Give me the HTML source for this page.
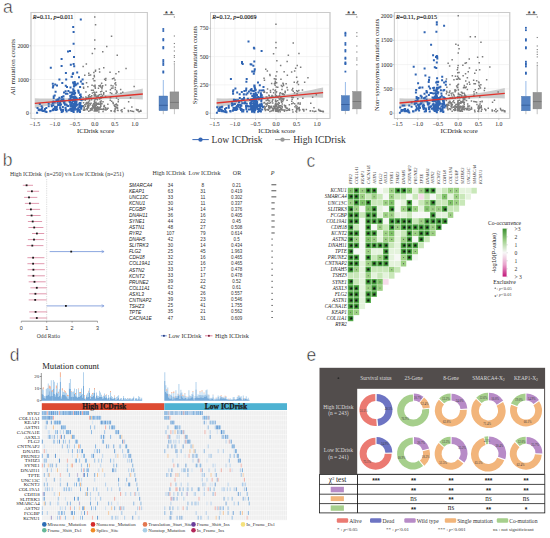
<!DOCTYPE html>
<html><head><meta charset="utf-8"><style>
html,body{margin:0;padding:0;background:#fff;width:550px;height:538px;overflow:hidden;}
svg{display:block;}
</style></head><body>
<svg width="550" height="538" viewBox="0 0 550 538" font-family='"Liberation Serif", serif'>
<rect width="550" height="538" fill="#fff"/>
<rect x="31" y="12.5" width="116.3" height="106.0" fill="#fff" stroke="#c9c9c9" stroke-width="0.8"/>
<line x1="34.8" y1="12.5" x2="34.8" y2="118.5" stroke="#ececec" stroke-width="0.6"/>
<line x1="54.8" y1="12.5" x2="54.8" y2="118.5" stroke="#ececec" stroke-width="0.6"/>
<line x1="74.8" y1="12.5" x2="74.8" y2="118.5" stroke="#ececec" stroke-width="0.6"/>
<line x1="94.8" y1="12.5" x2="94.8" y2="118.5" stroke="#ececec" stroke-width="0.6"/>
<line x1="114.8" y1="12.5" x2="114.8" y2="118.5" stroke="#ececec" stroke-width="0.6"/>
<line x1="134.8" y1="12.5" x2="134.8" y2="118.5" stroke="#ececec" stroke-width="0.6"/>
<line x1="44.8" y1="12.5" x2="44.8" y2="118.5" stroke="#f5f5f5" stroke-width="0.4"/>
<line x1="64.8" y1="12.5" x2="64.8" y2="118.5" stroke="#f5f5f5" stroke-width="0.4"/>
<line x1="84.8" y1="12.5" x2="84.8" y2="118.5" stroke="#f5f5f5" stroke-width="0.4"/>
<line x1="104.8" y1="12.5" x2="104.8" y2="118.5" stroke="#f5f5f5" stroke-width="0.4"/>
<line x1="124.8" y1="12.5" x2="124.8" y2="118.5" stroke="#f5f5f5" stroke-width="0.4"/>
<line x1="31" y1="113.2" x2="147.3" y2="113.2" stroke="#ececec" stroke-width="0.6"/>
<line x1="31" y1="79.5" x2="147.3" y2="79.5" stroke="#ececec" stroke-width="0.6"/>
<line x1="31" y1="45.8" x2="147.3" y2="45.8" stroke="#ececec" stroke-width="0.6"/>
<polygon points="34.8,98.3 40.2,98.5 45.6,98.6 51.0,98.6 56.4,98.6 61.8,98.5 67.2,98.3 72.6,98.1 78.0,97.8 83.4,97.4 88.8,96.9 94.2,96.4 99.6,95.8 105.0,95.1 110.4,94.4 115.8,93.6 121.2,92.7 126.6,91.8 132.0,90.8 137.4,89.7 142.8,88.6 142.8,99.4 137.4,99.2 132.0,99.0 126.6,99.0 121.2,98.9 115.8,99.0 110.4,99.1 105.0,99.3 99.6,99.6 94.2,99.9 88.8,100.3 83.4,100.8 78.0,101.3 72.6,102.0 67.2,102.6 61.8,103.4 56.4,104.2 51.0,105.1 45.6,106.0 40.2,107.1 34.8,108.2" fill="#c6c6c6" opacity="0.9"/>
<path d="M85.9 97.3h1.5v1.5h-1.5zM101.3 96.1h1.5v1.5h-1.5zM139.5 110.5h1.5v1.5h-1.5zM94.8 69.6h1.5v1.5h-1.5zM121.3 110.9h1.5v1.5h-1.5zM104.9 84.3h1.5v1.5h-1.5zM91.1 107.3h1.5v1.5h-1.5zM90.5 109.3h1.5v1.5h-1.5zM112.5 102.8h1.5v1.5h-1.5zM98.9 71.3h1.5v1.5h-1.5zM95.0 108.6h1.5v1.5h-1.5zM115.8 97.2h1.5v1.5h-1.5zM131.1 106.3h1.5v1.5h-1.5zM109.3 71.4h1.5v1.5h-1.5zM110.8 35.4h1.5v1.5h-1.5zM89.7 107.9h1.5v1.5h-1.5zM90.7 108.0h1.5v1.5h-1.5zM93.6 104.9h1.5v1.5h-1.5zM111.0 92.8h1.5v1.5h-1.5zM93.4 79.9h1.5v1.5h-1.5zM100.1 102.4h1.5v1.5h-1.5zM97.6 96.5h1.5v1.5h-1.5zM86.9 105.0h1.5v1.5h-1.5zM82.4 65.7h1.5v1.5h-1.5zM82.6 83.3h1.5v1.5h-1.5zM105.4 90.5h1.5v1.5h-1.5zM103.0 66.9h1.5v1.5h-1.5zM106.0 45.8h1.5v1.5h-1.5zM115.4 107.1h1.5v1.5h-1.5zM107.1 107.5h1.5v1.5h-1.5zM97.5 108.2h1.5v1.5h-1.5zM98.9 98.3h1.5v1.5h-1.5zM83.6 109.0h1.5v1.5h-1.5zM112.2 85.3h1.5v1.5h-1.5zM96.9 107.2h1.5v1.5h-1.5zM101.3 108.4h1.5v1.5h-1.5zM127.5 109.7h1.5v1.5h-1.5zM99.6 106.2h1.5v1.5h-1.5zM102.8 108.8h1.5v1.5h-1.5zM116.8 109.5h1.5v1.5h-1.5zM110.9 100.5h1.5v1.5h-1.5zM82.4 105.7h1.5v1.5h-1.5zM84.1 108.9h1.5v1.5h-1.5zM98.4 108.9h1.5v1.5h-1.5zM98.8 97.3h1.5v1.5h-1.5zM93.9 102.1h1.5v1.5h-1.5zM89.5 109.8h1.5v1.5h-1.5zM93.7 104.7h1.5v1.5h-1.5zM102.0 84.9h1.5v1.5h-1.5zM91.7 92.2h1.5v1.5h-1.5zM100.0 104.0h1.5v1.5h-1.5zM88.0 96.4h1.5v1.5h-1.5zM88.2 74.4h1.5v1.5h-1.5zM94.2 104.3h1.5v1.5h-1.5zM87.4 107.2h1.5v1.5h-1.5zM102.0 51.0h1.5v1.5h-1.5zM135.7 108.8h1.5v1.5h-1.5zM123.7 107.4h1.5v1.5h-1.5zM93.6 107.0h1.5v1.5h-1.5zM103.5 105.4h1.5v1.5h-1.5zM92.0 105.5h1.5v1.5h-1.5zM99.5 101.9h1.5v1.5h-1.5zM100.1 105.4h1.5v1.5h-1.5zM82.9 87.4h1.5v1.5h-1.5zM94.1 92.8h1.5v1.5h-1.5zM140.2 110.5h1.5v1.5h-1.5zM99.3 85.4h1.5v1.5h-1.5zM85.8 102.8h1.5v1.5h-1.5zM88.0 110.6h1.5v1.5h-1.5zM90.9 108.5h1.5v1.5h-1.5zM94.3 95.3h1.5v1.5h-1.5zM97.0 105.9h1.5v1.5h-1.5zM101.7 94.7h1.5v1.5h-1.5zM95.6 107.4h1.5v1.5h-1.5zM119.9 88.8h1.5v1.5h-1.5zM114.6 86.8h1.5v1.5h-1.5zM87.1 104.7h1.5v1.5h-1.5zM116.2 104.3h1.5v1.5h-1.5zM88.8 93.9h1.5v1.5h-1.5zM95.3 108.0h1.5v1.5h-1.5zM100.6 102.6h1.5v1.5h-1.5zM109.7 89.1h1.5v1.5h-1.5zM100.2 108.5h1.5v1.5h-1.5zM137.3 109.0h1.5v1.5h-1.5zM94.0 80.1h1.5v1.5h-1.5zM133.4 85.7h1.5v1.5h-1.5zM120.3 109.7h1.5v1.5h-1.5zM95.6 104.5h1.5v1.5h-1.5zM114.4 108.5h1.5v1.5h-1.5zM113.5 110.4h1.5v1.5h-1.5zM93.6 101.2h1.5v1.5h-1.5zM92.5 89.4h1.5v1.5h-1.5zM98.2 85.0h1.5v1.5h-1.5zM94.4 105.9h1.5v1.5h-1.5zM117.3 109.7h1.5v1.5h-1.5zM109.5 96.9h1.5v1.5h-1.5zM94.8 104.5h1.5v1.5h-1.5zM117.6 99.1h1.5v1.5h-1.5zM129.8 97.0h1.5v1.5h-1.5zM110.2 109.9h1.5v1.5h-1.5zM140.0 109.8h1.5v1.5h-1.5zM94.1 102.4h1.5v1.5h-1.5zM100.4 93.5h1.5v1.5h-1.5zM103.7 105.2h1.5v1.5h-1.5zM129.8 110.0h1.5v1.5h-1.5zM99.8 84.6h1.5v1.5h-1.5zM127.9 101.1h1.5v1.5h-1.5zM94.1 99.2h1.5v1.5h-1.5zM95.7 91.4h1.5v1.5h-1.5zM94.6 87.6h1.5v1.5h-1.5zM94.0 48.1h1.5v1.5h-1.5zM87.8 106.3h1.5v1.5h-1.5zM121.2 109.1h1.5v1.5h-1.5zM93.5 110.3h1.5v1.5h-1.5zM93.4 106.3h1.5v1.5h-1.5zM93.7 109.5h1.5v1.5h-1.5zM93.6 75.9h1.5v1.5h-1.5zM84.5 99.4h1.5v1.5h-1.5zM99.9 91.1h1.5v1.5h-1.5zM132.8 110.8h1.5v1.5h-1.5zM91.9 107.2h1.5v1.5h-1.5zM93.8 103.4h1.5v1.5h-1.5zM95.4 110.3h1.5v1.5h-1.5zM94.8 94.1h1.5v1.5h-1.5zM100.9 82.5h1.5v1.5h-1.5zM114.2 79.2h1.5v1.5h-1.5zM125.3 67.8h1.5v1.5h-1.5zM93.3 104.3h1.5v1.5h-1.5zM95.8 95.4h1.5v1.5h-1.5zM94.0 39.2h1.5v1.5h-1.5zM94.7 70.5h1.5v1.5h-1.5zM103.1 106.1h1.5v1.5h-1.5zM93.2 91.5h1.5v1.5h-1.5zM114.1 109.8h1.5v1.5h-1.5zM99.2 97.1h1.5v1.5h-1.5zM106.4 108.5h1.5v1.5h-1.5zM115.9 90.3h1.5v1.5h-1.5zM87.1 86.0h1.5v1.5h-1.5zM89.5 103.3h1.5v1.5h-1.5zM101.4 86.5h1.5v1.5h-1.5zM114.2 111.1h1.5v1.5h-1.5zM91.3 84.6h1.5v1.5h-1.5zM90.3 102.4h1.5v1.5h-1.5zM107.1 103.6h1.5v1.5h-1.5zM118.0 71.0h1.5v1.5h-1.5zM94.0 103.0h1.5v1.5h-1.5zM95.6 106.4h1.5v1.5h-1.5zM104.9 79.4h1.5v1.5h-1.5zM100.1 96.0h1.5v1.5h-1.5zM98.7 103.4h1.5v1.5h-1.5zM93.8 109.2h1.5v1.5h-1.5zM82.3 98.9h1.5v1.5h-1.5zM105.1 107.4h1.5v1.5h-1.5zM95.3 101.5h1.5v1.5h-1.5zM82.3 96.8h1.5v1.5h-1.5zM85.7 107.9h1.5v1.5h-1.5zM93.6 94.9h1.5v1.5h-1.5zM94.3 108.4h1.5v1.5h-1.5zM115.2 84.3h1.5v1.5h-1.5zM91.4 108.8h1.5v1.5h-1.5zM116.8 107.4h1.5v1.5h-1.5zM86.7 102.6h1.5v1.5h-1.5zM114.6 88.7h1.5v1.5h-1.5zM85.6 63.2h1.5v1.5h-1.5zM97.7 87.5h1.5v1.5h-1.5zM97.5 94.8h1.5v1.5h-1.5zM89.4 103.9h1.5v1.5h-1.5zM120.2 92.5h1.5v1.5h-1.5zM110.4 84.8h1.5v1.5h-1.5zM82.8 109.6h1.5v1.5h-1.5zM94.4 109.1h1.5v1.5h-1.5zM116.7 107.3h1.5v1.5h-1.5zM94.3 85.9h1.5v1.5h-1.5zM94.1 92.3h1.5v1.5h-1.5zM87.4 104.0h1.5v1.5h-1.5zM82.8 101.9h1.5v1.5h-1.5zM93.1 106.9h1.5v1.5h-1.5zM87.7 106.5h1.5v1.5h-1.5zM116.8 104.5h1.5v1.5h-1.5zM94.8 24.0h1.5v1.5h-1.5zM94.3 107.9h1.5v1.5h-1.5zM88.3 102.8h1.5v1.5h-1.5zM92.8 102.9h1.5v1.5h-1.5zM93.1 71.7h1.5v1.5h-1.5zM116.5 54.4h1.5v1.5h-1.5zM114.4 108.1h1.5v1.5h-1.5zM115.0 105.9h1.5v1.5h-1.5zM83.8 109.5h1.5v1.5h-1.5zM89.8 74.2h1.5v1.5h-1.5zM88.2 105.1h1.5v1.5h-1.5zM93.9 108.4h1.5v1.5h-1.5zM107.3 107.4h1.5v1.5h-1.5zM115.6 103.3h1.5v1.5h-1.5zM101.0 90.5h1.5v1.5h-1.5zM91.1 107.3h1.5v1.5h-1.5zM110.8 87.4h1.5v1.5h-1.5zM84.8 105.6h1.5v1.5h-1.5zM96.3 110.3h1.5v1.5h-1.5zM90.9 89.6h1.5v1.5h-1.5zM93.5 94.1h1.5v1.5h-1.5zM90.8 99.1h1.5v1.5h-1.5zM91.7 104.5h1.5v1.5h-1.5zM94.7 106.3h1.5v1.5h-1.5zM115.2 72.9h1.5v1.5h-1.5zM98.9 108.6h1.5v1.5h-1.5zM89.5 96.1h1.5v1.5h-1.5zM91.6 52.8h1.5v1.5h-1.5zM88.0 72.4h1.5v1.5h-1.5zM83.5 106.6h1.5v1.5h-1.5zM92.4 78.1h1.5v1.5h-1.5zM113.2 77.6h1.5v1.5h-1.5zM101.2 87.9h1.5v1.5h-1.5zM85.1 96.3h1.5v1.5h-1.5zM96.0 96.2h1.5v1.5h-1.5zM97.2 103.5h1.5v1.5h-1.5zM97.6 96.6h1.5v1.5h-1.5zM116.7 106.5h1.5v1.5h-1.5zM94.0 16.3h1.5v1.5h-1.5zM95.3 108.9h1.5v1.5h-1.5zM93.5 74.8h1.5v1.5h-1.5zM85.2 91.2h1.5v1.5h-1.5zM113.9 105.7h1.5v1.5h-1.5zM99.4 108.3h1.5v1.5h-1.5zM114.8 82.0h1.5v1.5h-1.5zM93.6 100.5h1.5v1.5h-1.5zM116.3 91.5h1.5v1.5h-1.5zM82.8 86.5h1.5v1.5h-1.5zM91.0 95.0h1.5v1.5h-1.5zM86.5 109.1h1.5v1.5h-1.5zM85.2 102.4h1.5v1.5h-1.5zM91.4 109.2h1.5v1.5h-1.5zM103.4 104.7h1.5v1.5h-1.5zM87.8 95.1h1.5v1.5h-1.5zM102.9 93.5h1.5v1.5h-1.5zM87.8 101.3h1.5v1.5h-1.5zM88.6 98.2h1.5v1.5h-1.5zM104.8 95.7h1.5v1.5h-1.5zM113.5 104.4h1.5v1.5h-1.5zM95.9 108.6h1.5v1.5h-1.5zM114.6 104.0h1.5v1.5h-1.5zM92.4 106.4h1.5v1.5h-1.5zM93.7 103.3h1.5v1.5h-1.5zM93.4 106.3h1.5v1.5h-1.5zM98.1 111.3h1.5v1.5h-1.5zM136.0 109.3h1.5v1.5h-1.5zM93.2 85.3h1.5v1.5h-1.5zM105.1 77.8h1.5v1.5h-1.5zM85.8 82.1h1.5v1.5h-1.5zM87.5 96.8h1.5v1.5h-1.5zM115.3 92.6h1.5v1.5h-1.5zM131.4 110.6h1.5v1.5h-1.5zM109.6 92.0h1.5v1.5h-1.5zM137.2 110.1h1.5v1.5h-1.5zM98.1 107.2h1.5v1.5h-1.5zM84.0 74.6h1.5v1.5h-1.5zM93.6 91.4h1.5v1.5h-1.5zM86.1 101.8h1.5v1.5h-1.5zM90.8 89.4h1.5v1.5h-1.5zM102.3 110.8h1.5v1.5h-1.5zM100.1 86.2h1.5v1.5h-1.5zM86.9 106.2h1.5v1.5h-1.5zM110.6 110.3h1.5v1.5h-1.5zM96.6 98.9h1.5v1.5h-1.5zM88.8 100.1h1.5v1.5h-1.5zM100.5 100.3h1.5v1.5h-1.5zM101.2 102.9h1.5v1.5h-1.5zM90.1 96.2h1.5v1.5h-1.5zM84.5 98.4h1.5v1.5h-1.5zM98.7 94.1h1.5v1.5h-1.5zM127.7 110.7h1.5v1.5h-1.5zM98.3 107.1h1.5v1.5h-1.5zM111.8 77.9h1.5v1.5h-1.5zM86.5 107.6h1.5v1.5h-1.5zM114.2 82.9h1.5v1.5h-1.5zM93.6 107.8h1.5v1.5h-1.5zM94.2 94.5h1.5v1.5h-1.5zM94.8 110.3h1.5v1.5h-1.5zM96.4 110.0h1.5v1.5h-1.5zM95.7 103.0h1.5v1.5h-1.5zM103.9 78.6h1.5v1.5h-1.5zM109.8 96.9h1.5v1.5h-1.5zM97.0 109.5h1.5v1.5h-1.5zM94.3 84.5h1.5v1.5h-1.5zM97.5 102.5h1.5v1.5h-1.5zM99.5 100.7h1.5v1.5h-1.5zM97.1 95.5h1.5v1.5h-1.5zM117.5 100.9h1.5v1.5h-1.5zM84.0 103.9h1.5v1.5h-1.5zM105.3 109.3h1.5v1.5h-1.5zM95.3 109.0h1.5v1.5h-1.5zM95.0 98.2h1.5v1.5h-1.5zM82.5 104.9h1.5v1.5h-1.5zM122.0 91.6h1.5v1.5h-1.5zM112.2 87.2h1.5v1.5h-1.5zM112.2 101.7h1.5v1.5h-1.5zM85.5 103.2h1.5v1.5h-1.5zM94.1 110.1h1.5v1.5h-1.5zM96.1 106.9h1.5v1.5h-1.5zM99.3 106.6h1.5v1.5h-1.5zM138.3 110.9h1.5v1.5h-1.5zM100.3 97.6h1.5v1.5h-1.5zM109.5 99.5h1.5v1.5h-1.5zM99.8 108.2h1.5v1.5h-1.5zM96.4 103.0h1.5v1.5h-1.5zM94.3 101.6h1.5v1.5h-1.5zM94.5 104.7h1.5v1.5h-1.5zM102.3 101.0h1.5v1.5h-1.5zM103.0 92.0h1.5v1.5h-1.5zM102.9 107.9h1.5v1.5h-1.5zM86.1 98.3h1.5v1.5h-1.5zM83.4 107.6h1.5v1.5h-1.5zM83.2 109.1h1.5v1.5h-1.5zM104.5 109.0h1.5v1.5h-1.5zM94.2 106.9h1.5v1.5h-1.5zM98.6 68.3h1.5v1.5h-1.5zM104.7 107.0h1.5v1.5h-1.5z" fill="#7d7d7d"/>
<path d="M78.4 105.2h2v2h-2zM37.8 108.4h2v2h-2zM75.1 102.7h2v2h-2zM38.7 108.7h2v2h-2zM72.6 82.6h2v2h-2zM54.2 83.4h2v2h-2zM56.7 101.7h2v2h-2zM69.8 108.1h2v2h-2zM74.2 100.7h2v2h-2zM70.7 93.9h2v2h-2zM70.6 75.7h2v2h-2zM69.8 95.2h2v2h-2zM76.0 103.7h2v2h-2zM70.6 107.5h2v2h-2zM72.9 107.7h2v2h-2zM49.2 110.3h2v2h-2zM79.4 104.0h2v2h-2zM73.6 108.7h2v2h-2zM80.0 95.7h2v2h-2zM73.7 98.9h2v2h-2zM70.9 99.2h2v2h-2zM57.1 104.1h2v2h-2zM53.7 94.5h2v2h-2zM63.0 101.7h2v2h-2zM67.0 50.4h2v2h-2zM58.4 96.7h2v2h-2zM58.7 103.2h2v2h-2zM63.5 100.8h2v2h-2zM72.9 82.1h2v2h-2zM38.9 108.8h2v2h-2zM64.9 109.1h2v2h-2zM79.0 111.0h2v2h-2zM72.6 31.0h2v2h-2zM51.9 86.4h2v2h-2zM74.4 100.1h2v2h-2zM64.8 84.7h2v2h-2zM59.1 101.5h2v2h-2zM70.0 105.2h2v2h-2zM70.3 103.6h2v2h-2zM74.3 95.8h2v2h-2zM50.8 105.0h2v2h-2zM74.0 92.0h2v2h-2zM43.5 109.6h2v2h-2zM55.0 106.2h2v2h-2zM62.1 108.8h2v2h-2zM79.8 104.9h2v2h-2zM71.2 108.1h2v2h-2zM72.1 106.1h2v2h-2zM72.3 106.1h2v2h-2zM71.0 101.8h2v2h-2zM64.5 106.8h2v2h-2zM75.8 108.6h2v2h-2zM59.6 108.0h2v2h-2zM79.1 110.3h2v2h-2zM72.1 72.3h2v2h-2zM60.7 110.9h2v2h-2zM72.0 100.0h2v2h-2zM72.0 106.1h2v2h-2zM72.6 62.9h2v2h-2zM67.4 89.9h2v2h-2zM71.4 92.3h2v2h-2zM47.7 105.3h2v2h-2zM75.4 96.7h2v2h-2zM73.0 107.6h2v2h-2zM78.5 105.2h2v2h-2zM68.5 99.9h2v2h-2zM72.7 90.5h2v2h-2zM77.4 108.8h2v2h-2zM67.5 109.2h2v2h-2zM54.6 90.7h2v2h-2zM73.6 104.4h2v2h-2zM72.2 106.3h2v2h-2zM36.1 111.8h2v2h-2zM49.8 66.7h2v2h-2zM47.7 102.8h2v2h-2zM73.7 81.1h2v2h-2zM69.5 86.4h2v2h-2zM78.8 97.1h2v2h-2zM64.6 90.3h2v2h-2zM72.7 111.0h2v2h-2zM73.5 107.1h2v2h-2zM69.4 108.8h2v2h-2zM78.0 76.2h2v2h-2zM72.2 99.4h2v2h-2zM70.4 108.4h2v2h-2zM69.3 94.9h2v2h-2zM37.8 108.6h2v2h-2zM69.5 105.1h2v2h-2zM78.4 108.4h2v2h-2zM73.1 97.9h2v2h-2zM62.5 95.4h2v2h-2zM70.7 91.4h2v2h-2zM71.7 106.8h2v2h-2zM37.6 109.0h2v2h-2zM38.7 109.3h2v2h-2zM79.2 103.2h2v2h-2zM69.1 91.6h2v2h-2zM77.2 89.4h2v2h-2zM74.0 106.0h2v2h-2zM78.3 105.9h2v2h-2zM71.5 104.9h2v2h-2zM71.8 96.0h2v2h-2zM73.4 89.9h2v2h-2zM55.9 105.8h2v2h-2zM72.4 88.5h2v2h-2zM65.3 103.4h2v2h-2zM72.2 105.0h2v2h-2zM75.5 104.4h2v2h-2zM74.0 100.9h2v2h-2zM75.5 100.8h2v2h-2zM73.5 108.5h2v2h-2zM75.0 102.1h2v2h-2zM68.3 98.6h2v2h-2zM57.3 100.2h2v2h-2zM55.2 108.1h2v2h-2zM72.6 105.0h2v2h-2zM69.0 101.6h2v2h-2zM79.5 101.9h2v2h-2zM72.2 88.2h2v2h-2zM73.2 93.6h2v2h-2zM55.5 107.3h2v2h-2zM80.0 106.3h2v2h-2zM50.8 105.3h2v2h-2zM72.1 110.1h2v2h-2zM79.9 80.5h2v2h-2zM57.7 99.5h2v2h-2zM52.7 97.1h2v2h-2zM60.1 103.5h2v2h-2zM61.3 82.0h2v2h-2zM65.6 110.5h2v2h-2zM73.6 103.5h2v2h-2zM73.6 92.6h2v2h-2zM75.5 104.7h2v2h-2zM72.8 96.1h2v2h-2zM52.2 85.1h2v2h-2zM77.8 91.7h2v2h-2zM61.8 105.9h2v2h-2zM78.7 102.1h2v2h-2zM67.0 104.9h2v2h-2zM76.8 108.5h2v2h-2zM69.3 103.8h2v2h-2zM61.9 110.3h2v2h-2zM72.5 109.0h2v2h-2zM71.6 105.8h2v2h-2zM44.0 108.0h2v2h-2zM77.5 90.5h2v2h-2zM80.3 107.7h2v2h-2zM71.0 108.9h2v2h-2zM58.4 78.5h2v2h-2zM72.4 103.4h2v2h-2zM63.7 103.1h2v2h-2zM74.4 105.4h2v2h-2zM54.2 108.8h2v2h-2zM63.9 103.7h2v2h-2zM81.6 78.6h2v2h-2zM81.5 82.8h2v2h-2zM79.1 94.0h2v2h-2zM73.7 96.9h2v2h-2zM54.0 105.8h2v2h-2zM72.5 105.9h2v2h-2zM72.6 89.4h2v2h-2zM73.3 103.9h2v2h-2zM50.7 104.2h2v2h-2zM72.2 104.5h2v2h-2zM60.6 58.1h2v2h-2zM73.2 85.0h2v2h-2zM64.7 107.5h2v2h-2zM55.1 109.0h2v2h-2zM80.6 99.2h2v2h-2zM79.6 98.4h2v2h-2zM72.5 107.4h2v2h-2zM72.1 81.5h2v2h-2zM77.2 107.2h2v2h-2zM65.2 78.5h2v2h-2zM38.8 102.9h2v2h-2zM72.4 110.6h2v2h-2zM70.1 95.2h2v2h-2zM73.8 107.3h2v2h-2zM79.1 86.0h2v2h-2zM74.4 84.3h2v2h-2zM69.2 100.8h2v2h-2zM72.5 90.2h2v2h-2zM72.2 25.9h2v2h-2zM72.2 108.8h2v2h-2zM60.0 100.0h2v2h-2zM57.6 98.3h2v2h-2zM76.2 71.5h2v2h-2zM78.1 103.3h2v2h-2zM53.7 101.5h2v2h-2zM77.3 108.7h2v2h-2zM73.4 104.9h2v2h-2zM74.0 102.9h2v2h-2zM45.5 111.1h2v2h-2zM77.0 109.0h2v2h-2zM40.6 105.3h2v2h-2zM70.9 109.8h2v2h-2zM49.5 110.1h2v2h-2zM74.1 99.3h2v2h-2zM42.1 110.0h2v2h-2zM73.2 65.2h2v2h-2zM73.0 55.9h2v2h-2zM75.7 108.2h2v2h-2zM81.0 105.3h2v2h-2zM78.2 109.8h2v2h-2zM60.1 108.9h2v2h-2zM72.0 107.0h2v2h-2zM52.5 100.4h2v2h-2zM59.1 104.6h2v2h-2zM69.0 49.9h2v2h-2zM40.8 107.9h2v2h-2zM79.8 18.5h2v2h-2zM72.3 93.0h2v2h-2zM75.4 101.9h2v2h-2zM72.6 42.8h2v2h-2zM70.3 99.1h2v2h-2zM56.1 108.5h2v2h-2zM71.8 72.9h2v2h-2zM71.7 98.4h2v2h-2zM72.3 98.6h2v2h-2zM76.7 82.4h2v2h-2zM73.5 108.1h2v2h-2zM56.7 98.5h2v2h-2zM70.9 75.8h2v2h-2zM73.3 108.5h2v2h-2zM51.7 102.1h2v2h-2zM61.0 100.1h2v2h-2zM52.7 95.5h2v2h-2zM52.6 107.7h2v2h-2zM60.6 64.9h2v2h-2zM74.0 82.6h2v2h-2zM69.9 95.9h2v2h-2zM66.4 92.8h2v2h-2zM63.0 91.5h2v2h-2zM70.4 110.1h2v2h-2zM73.0 102.5h2v2h-2zM73.4 103.7h2v2h-2zM69.6 107.7h2v2h-2zM44.6 110.6h2v2h-2zM74.5 101.9h2v2h-2zM74.0 106.2h2v2h-2zM73.8 100.0h2v2h-2zM68.5 100.4h2v2h-2zM41.3 106.5h2v2h-2zM74.4 98.1h2v2h-2zM59.1 106.8h2v2h-2zM54.4 107.1h2v2h-2zM79.6 93.4h2v2h-2zM51.8 82.7h2v2h-2zM76.4 110.8h2v2h-2zM52.1 109.0h2v2h-2zM40.9 109.6h2v2h-2zM73.7 106.3h2v2h-2zM75.4 101.4h2v2h-2zM60.5 98.2h2v2h-2zM59.5 103.7h2v2h-2zM64.9 71.9h2v2h-2zM73.8 103.8h2v2h-2zM62.4 98.3h2v2h-2zM60.9 95.9h2v2h-2zM70.2 103.6h2v2h-2zM76.3 98.2h2v2h-2zM74.5 101.7h2v2h-2zM72.4 104.9h2v2h-2zM71.5 107.7h2v2h-2zM72.0 109.6h2v2h-2zM55.4 99.3h2v2h-2zM69.5 97.1h2v2h-2zM69.3 107.8h2v2h-2zM71.9 105.5h2v2h-2zM72.9 85.4h2v2h-2zM45.3 107.1h2v2h-2zM72.5 105.8h2v2h-2zM62.6 99.7h2v2h-2zM66.2 104.5h2v2h-2zM72.1 105.4h2v2h-2zM51.7 109.3h2v2h-2zM56.0 84.5h2v2h-2zM72.9 103.5h2v2h-2zM62.4 95.2h2v2h-2zM44.4 110.4h2v2h-2zM73.3 82.9h2v2h-2zM71.7 106.5h2v2h-2zM42.7 109.8h2v2h-2zM75.3 83.5h2v2h-2zM72.2 105.9h2v2h-2zM53.0 107.9h2v2h-2zM52.3 104.2h2v2h-2zM69.8 63.8h2v2h-2zM74.1 91.9h2v2h-2zM66.0 86.0h2v2h-2zM71.9 92.9h2v2h-2zM36.5 107.0h2v2h-2zM64.9 92.7h2v2h-2zM72.0 108.7h2v2h-2z" fill="#2f64b3"/>
<line x1="34.8" y1="103.3" x2="142.8" y2="94.0" stroke="#e0322c" stroke-width="1.3"/>
<rect x="31" y="12.5" width="116.3" height="106.0" fill="none" stroke="#c9c9c9" stroke-width="0.8"/>
<text x="32.8" y="19.3" font-size="6.1" font-family='"Liberation Serif", serif' fill="#111" stroke="#111" stroke-width="0.12"><tspan font-style="italic">R</tspan>=0.11, <tspan font-style="italic">p</tspan>=0.011</text>
<line x1="34.8" y1="118.5" x2="34.8" y2="120.0" stroke="#999" stroke-width="0.5"/>
<text x="34.8" y="125.9" font-size="5.8" text-anchor="middle" font-family='"Liberation Serif", serif' fill="#222" >−1.5</text>
<line x1="54.8" y1="118.5" x2="54.8" y2="120.0" stroke="#999" stroke-width="0.5"/>
<text x="54.8" y="125.9" font-size="5.8" text-anchor="middle" font-family='"Liberation Serif", serif' fill="#222" >−1.0</text>
<line x1="74.8" y1="118.5" x2="74.8" y2="120.0" stroke="#999" stroke-width="0.5"/>
<text x="74.8" y="125.9" font-size="5.8" text-anchor="middle" font-family='"Liberation Serif", serif' fill="#222" >−0.5</text>
<line x1="94.8" y1="118.5" x2="94.8" y2="120.0" stroke="#999" stroke-width="0.5"/>
<text x="94.8" y="125.9" font-size="5.8" text-anchor="middle" font-family='"Liberation Serif", serif' fill="#222" >0.0</text>
<line x1="114.8" y1="118.5" x2="114.8" y2="120.0" stroke="#999" stroke-width="0.5"/>
<text x="114.8" y="125.9" font-size="5.8" text-anchor="middle" font-family='"Liberation Serif", serif' fill="#222" >0.5</text>
<line x1="134.8" y1="118.5" x2="134.8" y2="120.0" stroke="#999" stroke-width="0.5"/>
<text x="134.8" y="125.9" font-size="5.8" text-anchor="middle" font-family='"Liberation Serif", serif' fill="#222" >1.0</text>
<text x="95.6" y="132.9" font-size="6.65" text-anchor="middle" font-family='"Liberation Serif", serif' fill="#1a1a1a" >ICDrisk score</text>
<line x1="29.5" y1="113.2" x2="31" y2="113.2" stroke="#999" stroke-width="0.5"/>
<text x="29.0" y="115.2" font-size="5.8" text-anchor="end" font-family='"Liberation Serif", serif' fill="#222" >0</text>
<line x1="29.5" y1="79.5" x2="31" y2="79.5" stroke="#999" stroke-width="0.5"/>
<text x="29.0" y="81.5" font-size="5.8" text-anchor="end" font-family='"Liberation Serif", serif' fill="#222" >1000</text>
<line x1="29.5" y1="45.8" x2="31" y2="45.8" stroke="#999" stroke-width="0.5"/>
<text x="29.0" y="47.8" font-size="5.8" text-anchor="end" font-family='"Liberation Serif", serif' fill="#222" >2000</text>
<text x="0" y="0" font-size="7.1" text-anchor="middle" font-family='"Liberation Serif", serif' fill="#1a1a1a" transform="translate(15.4,67.2) rotate(-90)">All mutation counts</text>
<line x1="163.3" y1="80" x2="163.3" y2="96" stroke="#6d9de0" stroke-width="0.7"/>
<line x1="163.3" y1="110.7" x2="163.3" y2="114.2" stroke="#9a9a9a" stroke-width="0.6"/>
<rect x="159" y="96" width="8.7" height="14.7" fill="#5482c2" stroke="#4470ab" stroke-width="0.4"/>
<line x1="159" y1="105.3" x2="167.7" y2="105.3" stroke="#2d5390" stroke-width="0.7"/>
<line x1="174.4" y1="65" x2="174.4" y2="91.9" stroke="#9d9d9d" stroke-width="0.7"/>
<line x1="174.4" y1="108.9" x2="174.4" y2="114.2" stroke="#9a9a9a" stroke-width="0.6"/>
<rect x="170" y="91.9" width="8.8" height="17.0" fill="#949494" stroke="#7d7d7d" stroke-width="0.4"/>
<line x1="170" y1="102.4" x2="178.8" y2="102.4" stroke="#6a6a6a" stroke-width="0.7"/>
<rect x="162.4" y="28.1" width="1.8" height="1.8" fill="#2f64b3"/>
<rect x="162.4" y="30.1" width="1.8" height="1.8" fill="#2f64b3"/>
<rect x="162.4" y="38.1" width="1.8" height="1.8" fill="#2f64b3"/>
<rect x="162.4" y="39.5" width="1.8" height="1.8" fill="#2f64b3"/>
<rect x="162.4" y="46.1" width="1.8" height="1.8" fill="#2f64b3"/>
<rect x="162.4" y="47.5" width="1.8" height="1.8" fill="#2f64b3"/>
<rect x="162.4" y="59.1" width="1.8" height="1.8" fill="#2f64b3"/>
<rect x="162.4" y="60.800000000000004" width="1.8" height="1.8" fill="#2f64b3"/>
<rect x="162.4" y="62.5" width="1.8" height="1.8" fill="#2f64b3"/>
<rect x="162.4" y="64.1" width="1.8" height="1.8" fill="#2f64b3"/>
<rect x="162.4" y="70.5" width="1.8" height="1.8" fill="#2f64b3"/>
<rect x="162.4" y="71.69999999999999" width="1.8" height="1.8" fill="#2f64b3"/>
<rect x="173.8" y="16.45" width="1.1" height="1.1" fill="#777"/>
<rect x="173.8" y="35.45" width="1.1" height="1.1" fill="#777"/>
<rect x="173.8" y="42.95" width="1.1" height="1.1" fill="#777"/>
<rect x="173.8" y="46.45" width="1.1" height="1.1" fill="#777"/>
<rect x="173.8" y="50.45" width="1.1" height="1.1" fill="#777"/>
<rect x="173.8" y="55.050000000000004" width="1.1" height="1.1" fill="#777"/>
<rect x="173.8" y="56.75" width="1.1" height="1.1" fill="#777"/>
<rect x="173.8" y="61.150000000000006" width="1.1" height="1.1" fill="#777"/>
<rect x="173.8" y="63.45" width="1.1" height="1.1" fill="#777"/>
<line x1="163.3" y1="14.6" x2="174.4" y2="14.6" stroke="#333" stroke-width="0.6"/>
<text x="168.9" y="15.6" font-size="7.2" text-anchor="middle" font-family='"Liberation Sans", sans-serif' fill="#333" font-weight="bold">* *</text>
<rect x="210.5" y="12.5" width="119.5" height="106.0" fill="#fff" stroke="#c9c9c9" stroke-width="0.8"/>
<line x1="214.5" y1="12.5" x2="214.5" y2="118.5" stroke="#ececec" stroke-width="0.6"/>
<line x1="235.0" y1="12.5" x2="235.0" y2="118.5" stroke="#ececec" stroke-width="0.6"/>
<line x1="255.5" y1="12.5" x2="255.5" y2="118.5" stroke="#ececec" stroke-width="0.6"/>
<line x1="276.0" y1="12.5" x2="276.0" y2="118.5" stroke="#ececec" stroke-width="0.6"/>
<line x1="296.5" y1="12.5" x2="296.5" y2="118.5" stroke="#ececec" stroke-width="0.6"/>
<line x1="317.0" y1="12.5" x2="317.0" y2="118.5" stroke="#ececec" stroke-width="0.6"/>
<line x1="224.8" y1="12.5" x2="224.8" y2="118.5" stroke="#f5f5f5" stroke-width="0.4"/>
<line x1="245.2" y1="12.5" x2="245.2" y2="118.5" stroke="#f5f5f5" stroke-width="0.4"/>
<line x1="265.8" y1="12.5" x2="265.8" y2="118.5" stroke="#f5f5f5" stroke-width="0.4"/>
<line x1="286.2" y1="12.5" x2="286.2" y2="118.5" stroke="#f5f5f5" stroke-width="0.4"/>
<line x1="306.8" y1="12.5" x2="306.8" y2="118.5" stroke="#f5f5f5" stroke-width="0.4"/>
<line x1="210.5" y1="113.2" x2="330" y2="113.2" stroke="#ececec" stroke-width="0.6"/>
<line x1="210.5" y1="84.9" x2="330" y2="84.9" stroke="#ececec" stroke-width="0.6"/>
<line x1="210.5" y1="56.6" x2="330" y2="56.6" stroke="#ececec" stroke-width="0.6"/>
<line x1="210.5" y1="28.3" x2="330" y2="28.3" stroke="#ececec" stroke-width="0.6"/>
<polygon points="216.6,98.3 221.9,98.4 227.2,98.4 232.5,98.3 237.9,98.2 243.2,98.0 248.5,97.8 253.9,97.4 259.2,97.1 264.5,96.6 269.9,96.1 275.2,95.5 280.5,94.9 285.8,94.2 291.2,93.4 296.5,92.6 301.8,91.7 307.2,90.7 312.5,89.7 317.8,88.6 323.1,87.4 323.1,97.8 317.8,97.6 312.5,97.6 307.2,97.6 301.8,97.7 296.5,97.8 291.2,98.0 285.8,98.3 280.5,98.6 275.2,99.0 269.9,99.5 264.5,100.0 259.2,100.6 253.9,101.3 248.5,102.0 243.2,102.8 237.9,103.6 232.5,104.6 227.2,105.5 221.9,106.6 216.6,107.7" fill="#c6c6c6" opacity="0.9"/>
<path d="M266.9 98.6h1.5v1.5h-1.5zM282.7 98.4h1.5v1.5h-1.5zM321.9 110.7h1.5v1.5h-1.5zM276.1 71.0h1.5v1.5h-1.5zM303.1 110.3h1.5v1.5h-1.5zM286.3 86.8h1.5v1.5h-1.5zM272.2 107.5h1.5v1.5h-1.5zM271.6 109.7h1.5v1.5h-1.5zM294.2 105.9h1.5v1.5h-1.5zM280.2 78.6h1.5v1.5h-1.5zM276.2 108.0h1.5v1.5h-1.5zM297.5 102.3h1.5v1.5h-1.5zM313.2 107.1h1.5v1.5h-1.5zM290.9 71.3h1.5v1.5h-1.5zM292.5 42.3h1.5v1.5h-1.5zM270.8 106.7h1.5v1.5h-1.5zM271.8 107.8h1.5v1.5h-1.5zM274.8 102.7h1.5v1.5h-1.5zM292.6 96.7h1.5v1.5h-1.5zM274.6 80.5h1.5v1.5h-1.5zM281.5 103.2h1.5v1.5h-1.5zM278.9 98.6h1.5v1.5h-1.5zM268.0 104.9h1.5v1.5h-1.5zM263.3 77.4h1.5v1.5h-1.5zM263.5 90.5h1.5v1.5h-1.5zM286.9 89.2h1.5v1.5h-1.5zM284.4 90.4h1.5v1.5h-1.5zM287.6 54.6h1.5v1.5h-1.5zM297.1 108.1h1.5v1.5h-1.5zM288.6 108.3h1.5v1.5h-1.5zM278.8 109.1h1.5v1.5h-1.5zM280.2 98.2h1.5v1.5h-1.5zM264.6 109.7h1.5v1.5h-1.5zM293.9 70.3h1.5v1.5h-1.5zM278.1 106.4h1.5v1.5h-1.5zM282.7 109.3h1.5v1.5h-1.5zM309.5 110.3h1.5v1.5h-1.5zM281.0 107.7h1.5v1.5h-1.5zM284.2 109.3h1.5v1.5h-1.5zM298.6 110.1h1.5v1.5h-1.5zM292.5 102.2h1.5v1.5h-1.5zM263.3 105.8h1.5v1.5h-1.5zM265.0 109.0h1.5v1.5h-1.5zM279.7 109.3h1.5v1.5h-1.5zM280.1 96.9h1.5v1.5h-1.5zM275.1 103.9h1.5v1.5h-1.5zM270.6 110.2h1.5v1.5h-1.5zM274.9 104.3h1.5v1.5h-1.5zM283.4 94.1h1.5v1.5h-1.5zM272.9 92.0h1.5v1.5h-1.5zM281.3 105.6h1.5v1.5h-1.5zM269.1 96.7h1.5v1.5h-1.5zM269.3 74.8h1.5v1.5h-1.5zM275.4 100.5h1.5v1.5h-1.5zM268.4 105.5h1.5v1.5h-1.5zM283.4 70.9h1.5v1.5h-1.5zM317.9 108.8h1.5v1.5h-1.5zM305.6 108.7h1.5v1.5h-1.5zM274.8 105.0h1.5v1.5h-1.5zM284.9 106.2h1.5v1.5h-1.5zM273.2 107.8h1.5v1.5h-1.5zM280.8 101.0h1.5v1.5h-1.5zM281.5 106.3h1.5v1.5h-1.5zM263.8 91.6h1.5v1.5h-1.5zM275.3 91.8h1.5v1.5h-1.5zM322.6 111.0h1.5v1.5h-1.5zM280.6 84.8h1.5v1.5h-1.5zM266.8 102.2h1.5v1.5h-1.5zM269.1 110.7h1.5v1.5h-1.5zM272.0 108.0h1.5v1.5h-1.5zM275.5 100.7h1.5v1.5h-1.5zM278.2 105.3h1.5v1.5h-1.5zM283.1 98.1h1.5v1.5h-1.5zM276.9 108.3h1.5v1.5h-1.5zM301.7 89.2h1.5v1.5h-1.5zM296.3 92.9h1.5v1.5h-1.5zM268.1 105.6h1.5v1.5h-1.5zM297.9 107.3h1.5v1.5h-1.5zM269.8 91.4h1.5v1.5h-1.5zM276.5 108.4h1.5v1.5h-1.5zM281.9 100.8h1.5v1.5h-1.5zM291.3 89.2h1.5v1.5h-1.5zM281.5 109.3h1.5v1.5h-1.5zM319.6 109.8h1.5v1.5h-1.5zM275.2 75.3h1.5v1.5h-1.5zM315.6 94.0h1.5v1.5h-1.5zM302.1 108.8h1.5v1.5h-1.5zM276.8 106.3h1.5v1.5h-1.5zM296.1 108.9h1.5v1.5h-1.5zM295.2 110.6h1.5v1.5h-1.5zM274.8 99.2h1.5v1.5h-1.5zM273.7 83.1h1.5v1.5h-1.5zM279.5 91.9h1.5v1.5h-1.5zM275.6 105.9h1.5v1.5h-1.5zM299.1 109.3h1.5v1.5h-1.5zM291.0 100.4h1.5v1.5h-1.5zM276.0 104.2h1.5v1.5h-1.5zM299.4 102.3h1.5v1.5h-1.5zM311.9 96.4h1.5v1.5h-1.5zM291.8 109.0h1.5v1.5h-1.5zM322.3 110.5h1.5v1.5h-1.5zM275.3 100.9h1.5v1.5h-1.5zM281.8 93.5h1.5v1.5h-1.5zM285.2 107.0h1.5v1.5h-1.5zM311.9 110.2h1.5v1.5h-1.5zM281.2 88.7h1.5v1.5h-1.5zM310.0 102.4h1.5v1.5h-1.5zM275.3 103.9h1.5v1.5h-1.5zM277.0 86.5h1.5v1.5h-1.5zM275.8 91.0h1.5v1.5h-1.5zM275.2 46.9h1.5v1.5h-1.5zM268.9 107.9h1.5v1.5h-1.5zM303.0 108.7h1.5v1.5h-1.5zM274.7 109.9h1.5v1.5h-1.5zM274.6 108.6h1.5v1.5h-1.5zM274.9 109.4h1.5v1.5h-1.5zM274.7 82.5h1.5v1.5h-1.5zM265.5 99.7h1.5v1.5h-1.5zM281.2 92.8h1.5v1.5h-1.5zM315.0 110.4h1.5v1.5h-1.5zM273.1 107.4h1.5v1.5h-1.5zM275.0 102.9h1.5v1.5h-1.5zM276.6 110.6h1.5v1.5h-1.5zM276.0 95.9h1.5v1.5h-1.5zM282.2 82.4h1.5v1.5h-1.5zM295.9 90.1h1.5v1.5h-1.5zM307.2 77.0h1.5v1.5h-1.5zM274.5 103.9h1.5v1.5h-1.5zM277.0 96.6h1.5v1.5h-1.5zM275.2 41.8h1.5v1.5h-1.5zM275.9 82.1h1.5v1.5h-1.5zM284.5 106.1h1.5v1.5h-1.5zM274.4 84.5h1.5v1.5h-1.5zM295.9 109.3h1.5v1.5h-1.5zM280.5 100.0h1.5v1.5h-1.5zM287.9 109.1h1.5v1.5h-1.5zM297.7 83.8h1.5v1.5h-1.5zM268.1 94.4h1.5v1.5h-1.5zM270.6 105.4h1.5v1.5h-1.5zM282.8 84.8h1.5v1.5h-1.5zM295.9 111.3h1.5v1.5h-1.5zM272.4 88.7h1.5v1.5h-1.5zM271.4 100.6h1.5v1.5h-1.5zM288.6 104.0h1.5v1.5h-1.5zM299.9 66.6h1.5v1.5h-1.5zM275.2 105.7h1.5v1.5h-1.5zM276.9 106.4h1.5v1.5h-1.5zM286.4 60.8h1.5v1.5h-1.5zM281.4 97.8h1.5v1.5h-1.5zM280.0 104.9h1.5v1.5h-1.5zM275.0 110.2h1.5v1.5h-1.5zM263.2 102.3h1.5v1.5h-1.5zM286.6 107.6h1.5v1.5h-1.5zM276.6 103.3h1.5v1.5h-1.5zM263.2 91.4h1.5v1.5h-1.5zM266.7 108.8h1.5v1.5h-1.5zM274.7 89.2h1.5v1.5h-1.5zM275.5 109.6h1.5v1.5h-1.5zM296.9 90.7h1.5v1.5h-1.5zM272.5 109.9h1.5v1.5h-1.5zM298.6 109.0h1.5v1.5h-1.5zM267.8 100.1h1.5v1.5h-1.5zM296.3 82.1h1.5v1.5h-1.5zM266.6 70.3h1.5v1.5h-1.5zM279.0 93.3h1.5v1.5h-1.5zM278.8 95.0h1.5v1.5h-1.5zM270.5 106.3h1.5v1.5h-1.5zM302.1 97.6h1.5v1.5h-1.5zM292.0 87.8h1.5v1.5h-1.5zM263.8 107.7h1.5v1.5h-1.5zM275.7 109.8h1.5v1.5h-1.5zM298.5 107.1h1.5v1.5h-1.5zM275.5 95.1h1.5v1.5h-1.5zM275.3 78.6h1.5v1.5h-1.5zM268.4 102.5h1.5v1.5h-1.5zM263.8 101.7h1.5v1.5h-1.5zM274.3 106.7h1.5v1.5h-1.5zM268.7 107.5h1.5v1.5h-1.5zM298.5 106.7h1.5v1.5h-1.5zM276.1 60.1h1.5v1.5h-1.5zM275.5 109.2h1.5v1.5h-1.5zM269.3 105.8h1.5v1.5h-1.5zM273.9 105.5h1.5v1.5h-1.5zM274.3 90.0h1.5v1.5h-1.5zM298.2 52.8h1.5v1.5h-1.5zM296.1 108.2h1.5v1.5h-1.5zM296.7 107.6h1.5v1.5h-1.5zM264.7 109.8h1.5v1.5h-1.5zM270.9 82.7h1.5v1.5h-1.5zM269.2 107.3h1.5v1.5h-1.5zM275.1 109.6h1.5v1.5h-1.5zM288.8 109.4h1.5v1.5h-1.5zM297.3 103.0h1.5v1.5h-1.5zM282.4 92.9h1.5v1.5h-1.5zM272.2 107.9h1.5v1.5h-1.5zM292.5 90.4h1.5v1.5h-1.5zM265.8 105.4h1.5v1.5h-1.5zM277.5 109.9h1.5v1.5h-1.5zM272.1 95.9h1.5v1.5h-1.5zM274.7 95.5h1.5v1.5h-1.5zM272.0 102.2h1.5v1.5h-1.5zM272.8 105.6h1.5v1.5h-1.5zM276.0 106.3h1.5v1.5h-1.5zM296.9 80.7h1.5v1.5h-1.5zM280.2 108.0h1.5v1.5h-1.5zM270.6 96.2h1.5v1.5h-1.5zM272.8 53.0h1.5v1.5h-1.5zM269.1 73.8h1.5v1.5h-1.5zM264.5 106.2h1.5v1.5h-1.5zM273.6 78.0h1.5v1.5h-1.5zM294.9 67.5h1.5v1.5h-1.5zM282.6 83.2h1.5v1.5h-1.5zM266.0 96.3h1.5v1.5h-1.5zM277.3 95.8h1.5v1.5h-1.5zM278.5 102.4h1.5v1.5h-1.5zM278.9 98.7h1.5v1.5h-1.5zM298.4 107.6h1.5v1.5h-1.5zM275.2 23.5h1.5v1.5h-1.5zM276.5 108.4h1.5v1.5h-1.5zM274.7 78.3h1.5v1.5h-1.5zM266.2 91.9h1.5v1.5h-1.5zM295.6 107.3h1.5v1.5h-1.5zM280.8 108.7h1.5v1.5h-1.5zM296.5 64.7h1.5v1.5h-1.5zM274.8 100.4h1.5v1.5h-1.5zM298.1 89.7h1.5v1.5h-1.5zM263.7 79.6h1.5v1.5h-1.5zM272.1 99.1h1.5v1.5h-1.5zM267.5 109.4h1.5v1.5h-1.5zM266.2 103.1h1.5v1.5h-1.5zM272.6 109.3h1.5v1.5h-1.5zM284.8 105.0h1.5v1.5h-1.5zM268.9 100.3h1.5v1.5h-1.5zM284.3 92.0h1.5v1.5h-1.5zM268.9 105.7h1.5v1.5h-1.5zM269.7 89.8h1.5v1.5h-1.5zM286.3 99.4h1.5v1.5h-1.5zM295.2 104.8h1.5v1.5h-1.5zM277.1 108.2h1.5v1.5h-1.5zM296.3 105.7h1.5v1.5h-1.5zM273.5 106.7h1.5v1.5h-1.5zM274.9 104.4h1.5v1.5h-1.5zM274.6 108.2h1.5v1.5h-1.5zM279.4 111.1h1.5v1.5h-1.5zM318.3 109.7h1.5v1.5h-1.5zM274.4 81.9h1.5v1.5h-1.5zM286.6 74.4h1.5v1.5h-1.5zM266.8 88.2h1.5v1.5h-1.5zM268.5 95.0h1.5v1.5h-1.5zM297.0 97.9h1.5v1.5h-1.5zM313.6 110.7h1.5v1.5h-1.5zM291.1 96.6h1.5v1.5h-1.5zM319.5 110.6h1.5v1.5h-1.5zM279.4 107.1h1.5v1.5h-1.5zM265.0 68.5h1.5v1.5h-1.5zM274.7 93.5h1.5v1.5h-1.5zM267.1 97.9h1.5v1.5h-1.5zM271.9 95.4h1.5v1.5h-1.5zM283.7 110.4h1.5v1.5h-1.5zM281.5 85.8h1.5v1.5h-1.5zM268.0 106.9h1.5v1.5h-1.5zM292.2 111.3h1.5v1.5h-1.5zM277.8 102.1h1.5v1.5h-1.5zM269.9 102.0h1.5v1.5h-1.5zM281.9 93.5h1.5v1.5h-1.5zM282.6 99.2h1.5v1.5h-1.5zM271.2 94.7h1.5v1.5h-1.5zM265.5 96.3h1.5v1.5h-1.5zM280.0 97.4h1.5v1.5h-1.5zM309.7 110.1h1.5v1.5h-1.5zM279.6 106.8h1.5v1.5h-1.5zM293.5 81.4h1.5v1.5h-1.5zM267.5 109.0h1.5v1.5h-1.5zM295.9 76.6h1.5v1.5h-1.5zM274.7 108.2h1.5v1.5h-1.5zM275.4 95.1h1.5v1.5h-1.5zM276.0 110.2h1.5v1.5h-1.5zM277.6 111.0h1.5v1.5h-1.5zM277.0 100.1h1.5v1.5h-1.5zM285.4 82.9h1.5v1.5h-1.5zM291.4 98.6h1.5v1.5h-1.5zM278.3 109.5h1.5v1.5h-1.5zM275.5 86.3h1.5v1.5h-1.5zM278.8 104.9h1.5v1.5h-1.5zM280.8 101.5h1.5v1.5h-1.5zM278.4 97.9h1.5v1.5h-1.5zM299.3 103.6h1.5v1.5h-1.5zM264.9 103.2h1.5v1.5h-1.5zM286.8 109.4h1.5v1.5h-1.5zM276.5 109.8h1.5v1.5h-1.5zM276.2 95.8h1.5v1.5h-1.5zM263.4 105.6h1.5v1.5h-1.5zM303.9 81.4h1.5v1.5h-1.5zM293.8 91.9h1.5v1.5h-1.5zM293.9 103.0h1.5v1.5h-1.5zM266.4 104.1h1.5v1.5h-1.5zM275.3 110.5h1.5v1.5h-1.5zM277.3 107.4h1.5v1.5h-1.5zM280.7 108.1h1.5v1.5h-1.5zM320.6 110.4h1.5v1.5h-1.5zM281.6 98.7h1.5v1.5h-1.5zM291.0 103.1h1.5v1.5h-1.5zM281.1 109.0h1.5v1.5h-1.5zM277.7 104.0h1.5v1.5h-1.5zM275.5 104.9h1.5v1.5h-1.5zM275.7 105.7h1.5v1.5h-1.5zM283.7 104.6h1.5v1.5h-1.5zM284.5 91.2h1.5v1.5h-1.5zM284.3 106.1h1.5v1.5h-1.5zM267.1 99.4h1.5v1.5h-1.5zM264.3 106.9h1.5v1.5h-1.5zM264.2 108.5h1.5v1.5h-1.5zM285.9 109.7h1.5v1.5h-1.5zM275.4 108.0h1.5v1.5h-1.5zM279.9 64.7h1.5v1.5h-1.5zM286.1 107.5h1.5v1.5h-1.5z" fill="#7d7d7d"/>
<path d="M259.2 107.6h2v2h-2zM217.6 108.2h2v2h-2zM255.8 101.9h2v2h-2zM218.6 109.5h2v2h-2zM253.3 84.4h2v2h-2zM234.4 87.4h2v2h-2zM236.9 103.7h2v2h-2zM250.4 108.6h2v2h-2zM254.9 104.6h2v2h-2zM251.3 95.1h2v2h-2zM251.2 70.6h2v2h-2zM250.4 98.2h2v2h-2zM256.7 104.0h2v2h-2zM251.2 109.3h2v2h-2zM253.5 107.5h2v2h-2zM229.2 110.1h2v2h-2zM260.3 103.8h2v2h-2zM254.3 108.8h2v2h-2zM260.8 94.2h2v2h-2zM254.4 98.2h2v2h-2zM251.6 99.5h2v2h-2zM237.4 105.7h2v2h-2zM233.9 99.0h2v2h-2zM243.4 102.2h2v2h-2zM247.5 40.6h2v2h-2zM238.8 96.9h2v2h-2zM239.1 106.4h2v2h-2zM243.9 101.7h2v2h-2zM253.6 85.7h2v2h-2zM218.7 108.3h2v2h-2zM245.4 108.3h2v2h-2zM259.8 110.4h2v2h-2zM253.3 47.5h2v2h-2zM232.1 92.7h2v2h-2zM255.1 99.3h2v2h-2zM245.3 87.4h2v2h-2zM239.4 103.8h2v2h-2zM250.7 105.0h2v2h-2zM250.9 105.3h2v2h-2zM255.0 101.5h2v2h-2zM230.9 104.6h2v2h-2zM254.7 88.7h2v2h-2zM223.4 110.5h2v2h-2zM235.2 106.2h2v2h-2zM242.5 109.0h2v2h-2zM260.6 102.8h2v2h-2zM251.8 108.0h2v2h-2zM252.8 106.5h2v2h-2zM252.9 107.6h2v2h-2zM251.6 102.4h2v2h-2zM245.0 105.0h2v2h-2zM256.6 108.1h2v2h-2zM240.0 109.1h2v2h-2zM259.9 110.4h2v2h-2zM252.7 90.1h2v2h-2zM241.1 110.6h2v2h-2zM252.6 98.1h2v2h-2zM252.7 104.1h2v2h-2zM253.3 70.5h2v2h-2zM247.9 90.4h2v2h-2zM252.0 97.7h2v2h-2zM227.8 106.7h2v2h-2zM256.2 97.3h2v2h-2zM253.7 106.7h2v2h-2zM259.3 106.7h2v2h-2zM249.1 105.4h2v2h-2zM253.4 93.2h2v2h-2zM258.2 108.4h2v2h-2zM248.0 108.5h2v2h-2zM234.8 100.3h2v2h-2zM254.3 105.8h2v2h-2zM252.9 107.4h2v2h-2zM215.9 111.8h2v2h-2zM229.9 78.1h2v2h-2zM227.7 104.8h2v2h-2zM254.4 89.4h2v2h-2zM250.1 89.4h2v2h-2zM259.6 96.1h2v2h-2zM245.1 89.6h2v2h-2zM253.4 111.3h2v2h-2zM254.2 107.3h2v2h-2zM250.0 108.6h2v2h-2zM258.8 84.3h2v2h-2zM252.9 98.7h2v2h-2zM251.0 107.0h2v2h-2zM249.9 92.6h2v2h-2zM217.7 108.9h2v2h-2zM250.1 105.8h2v2h-2zM259.2 106.6h2v2h-2zM253.8 99.7h2v2h-2zM242.9 93.6h2v2h-2zM251.3 98.4h2v2h-2zM252.4 107.2h2v2h-2zM217.4 109.8h2v2h-2zM218.6 110.1h2v2h-2zM260.0 105.0h2v2h-2zM249.6 89.1h2v2h-2zM258.0 98.3h2v2h-2zM254.7 106.4h2v2h-2zM259.1 107.8h2v2h-2zM252.1 107.2h2v2h-2zM252.5 92.7h2v2h-2zM254.1 88.2h2v2h-2zM236.2 105.1h2v2h-2zM253.1 95.5h2v2h-2zM245.8 102.8h2v2h-2zM252.8 104.8h2v2h-2zM256.2 105.4h2v2h-2zM254.7 103.4h2v2h-2zM256.2 101.8h2v2h-2zM254.2 108.8h2v2h-2zM255.7 104.3h2v2h-2zM248.9 99.0h2v2h-2zM237.6 104.0h2v2h-2zM235.5 106.4h2v2h-2zM253.3 104.0h2v2h-2zM249.6 104.5h2v2h-2zM260.3 100.1h2v2h-2zM252.8 94.2h2v2h-2zM253.9 95.3h2v2h-2zM235.8 105.6h2v2h-2zM260.9 104.2h2v2h-2zM230.9 102.3h2v2h-2zM252.8 110.2h2v2h-2zM260.7 89.5h2v2h-2zM238.0 101.3h2v2h-2zM232.9 100.3h2v2h-2zM240.4 104.8h2v2h-2zM241.7 63.1h2v2h-2zM246.1 110.5h2v2h-2zM254.3 104.5h2v2h-2zM254.3 97.0h2v2h-2zM256.2 105.4h2v2h-2zM253.5 95.0h2v2h-2zM232.4 89.2h2v2h-2zM258.6 89.5h2v2h-2zM242.2 108.9h2v2h-2zM259.5 103.5h2v2h-2zM247.5 105.6h2v2h-2zM257.6 107.7h2v2h-2zM249.9 101.9h2v2h-2zM242.3 110.6h2v2h-2zM253.1 108.4h2v2h-2zM252.3 107.7h2v2h-2zM224.0 108.0h2v2h-2zM258.2 97.1h2v2h-2zM261.2 108.4h2v2h-2zM251.7 108.7h2v2h-2zM238.7 93.2h2v2h-2zM253.1 100.6h2v2h-2zM244.2 101.2h2v2h-2zM255.1 106.2h2v2h-2zM234.4 109.0h2v2h-2zM244.4 102.6h2v2h-2zM262.5 85.9h2v2h-2zM262.4 89.2h2v2h-2zM259.9 92.3h2v2h-2zM254.4 99.8h2v2h-2zM234.2 107.1h2v2h-2zM253.2 106.1h2v2h-2zM253.3 85.2h2v2h-2zM254.0 105.0h2v2h-2zM230.9 104.5h2v2h-2zM252.9 106.4h2v2h-2zM241.0 61.0h2v2h-2zM253.8 86.5h2v2h-2zM245.2 106.8h2v2h-2zM235.4 109.1h2v2h-2zM261.5 96.4h2v2h-2zM260.5 102.4h2v2h-2zM253.2 108.1h2v2h-2zM252.8 72.8h2v2h-2zM258.0 105.1h2v2h-2zM245.7 77.9h2v2h-2zM218.7 106.4h2v2h-2zM253.1 110.5h2v2h-2zM250.7 98.3h2v2h-2zM254.5 106.5h2v2h-2zM259.9 94.1h2v2h-2zM255.1 93.6h2v2h-2zM249.8 103.6h2v2h-2zM253.1 94.1h2v2h-2zM252.9 46.8h2v2h-2zM252.9 109.1h2v2h-2zM240.3 99.8h2v2h-2zM237.9 99.9h2v2h-2zM257.0 81.5h2v2h-2zM258.9 103.6h2v2h-2zM233.9 103.1h2v2h-2zM258.0 109.1h2v2h-2zM254.0 102.8h2v2h-2zM254.7 105.4h2v2h-2zM225.5 111.2h2v2h-2zM257.7 109.0h2v2h-2zM220.5 105.9h2v2h-2zM251.5 109.5h2v2h-2zM229.5 110.5h2v2h-2zM254.8 97.5h2v2h-2zM222.0 109.9h2v2h-2zM253.8 68.3h2v2h-2zM253.7 68.4h2v2h-2zM256.5 107.5h2v2h-2zM261.9 106.0h2v2h-2zM259.0 110.1h2v2h-2zM240.5 108.1h2v2h-2zM252.7 107.2h2v2h-2zM232.7 103.3h2v2h-2zM239.4 106.4h2v2h-2zM249.6 63.2h2v2h-2zM220.7 108.5h2v2h-2zM260.6 50.0h2v2h-2zM253.0 97.3h2v2h-2zM256.1 100.6h2v2h-2zM253.3 60.6h2v2h-2zM250.9 100.2h2v2h-2zM236.3 108.0h2v2h-2zM252.4 64.8h2v2h-2zM252.3 98.4h2v2h-2zM253.0 98.8h2v2h-2zM257.4 91.4h2v2h-2zM254.1 107.7h2v2h-2zM237.0 99.3h2v2h-2zM251.6 89.8h2v2h-2zM254.0 109.2h2v2h-2zM231.8 103.7h2v2h-2zM241.3 102.3h2v2h-2zM232.9 98.8h2v2h-2zM232.7 108.6h2v2h-2zM241.0 62.1h2v2h-2zM254.7 91.9h2v2h-2zM250.5 88.0h2v2h-2zM246.9 97.8h2v2h-2zM243.4 89.9h2v2h-2zM251.0 110.8h2v2h-2zM253.7 104.5h2v2h-2zM254.1 106.1h2v2h-2zM250.2 107.1h2v2h-2zM224.6 109.8h2v2h-2zM255.2 98.1h2v2h-2zM254.7 105.3h2v2h-2zM254.5 99.9h2v2h-2zM249.1 102.3h2v2h-2zM221.2 105.8h2v2h-2zM255.1 102.5h2v2h-2zM239.5 108.1h2v2h-2zM234.7 108.1h2v2h-2zM260.4 99.1h2v2h-2zM232.0 90.5h2v2h-2zM257.1 110.7h2v2h-2zM232.3 109.0h2v2h-2zM220.8 110.3h2v2h-2zM254.4 106.7h2v2h-2zM256.1 103.1h2v2h-2zM240.8 90.9h2v2h-2zM239.9 104.4h2v2h-2zM245.4 80.8h2v2h-2zM254.5 105.5h2v2h-2zM242.8 98.1h2v2h-2zM241.2 98.2h2v2h-2zM250.8 106.9h2v2h-2zM257.1 96.1h2v2h-2zM255.2 104.7h2v2h-2zM253.1 107.4h2v2h-2zM252.1 108.5h2v2h-2zM252.6 110.5h2v2h-2zM235.6 99.3h2v2h-2zM250.1 99.7h2v2h-2zM249.9 108.3h2v2h-2zM252.6 106.1h2v2h-2zM253.6 84.6h2v2h-2zM225.3 107.1h2v2h-2zM253.1 105.8h2v2h-2zM243.0 96.8h2v2h-2zM246.7 104.9h2v2h-2zM252.8 101.9h2v2h-2zM231.8 109.8h2v2h-2zM236.2 91.5h2v2h-2zM253.6 100.3h2v2h-2zM242.8 93.3h2v2h-2zM224.4 111.0h2v2h-2zM253.9 87.0h2v2h-2zM252.3 108.2h2v2h-2zM222.7 110.5h2v2h-2zM256.0 94.1h2v2h-2zM252.9 105.4h2v2h-2zM233.1 108.2h2v2h-2zM232.5 106.7h2v2h-2zM250.4 63.5h2v2h-2zM254.8 95.3h2v2h-2zM246.5 92.3h2v2h-2zM252.6 98.2h2v2h-2zM216.2 106.2h2v2h-2zM245.3 93.4h2v2h-2zM252.7 109.8h2v2h-2z" fill="#2f64b3"/>
<line x1="216.6" y1="103.0" x2="323.1" y2="92.6" stroke="#e0322c" stroke-width="1.3"/>
<rect x="210.5" y="12.5" width="119.5" height="106.0" fill="none" stroke="#c9c9c9" stroke-width="0.8"/>
<text x="212.3" y="19.3" font-size="6.1" font-family='"Liberation Serif", serif' fill="#111" stroke="#111" stroke-width="0.12"><tspan font-style="italic">R</tspan>=0.12, <tspan font-style="italic">p</tspan>=0.0069</text>
<line x1="214.5" y1="118.5" x2="214.5" y2="120.0" stroke="#999" stroke-width="0.5"/>
<text x="214.5" y="125.9" font-size="5.8" text-anchor="middle" font-family='"Liberation Serif", serif' fill="#222" >−1.5</text>
<line x1="235.0" y1="118.5" x2="235.0" y2="120.0" stroke="#999" stroke-width="0.5"/>
<text x="235.0" y="125.9" font-size="5.8" text-anchor="middle" font-family='"Liberation Serif", serif' fill="#222" >−1.0</text>
<line x1="255.5" y1="118.5" x2="255.5" y2="120.0" stroke="#999" stroke-width="0.5"/>
<text x="255.5" y="125.9" font-size="5.8" text-anchor="middle" font-family='"Liberation Serif", serif' fill="#222" >−0.5</text>
<line x1="276.0" y1="118.5" x2="276.0" y2="120.0" stroke="#999" stroke-width="0.5"/>
<text x="276.0" y="125.9" font-size="5.8" text-anchor="middle" font-family='"Liberation Serif", serif' fill="#222" >0.0</text>
<line x1="296.5" y1="118.5" x2="296.5" y2="120.0" stroke="#999" stroke-width="0.5"/>
<text x="296.5" y="125.9" font-size="5.8" text-anchor="middle" font-family='"Liberation Serif", serif' fill="#222" >0.5</text>
<line x1="317.0" y1="118.5" x2="317.0" y2="120.0" stroke="#999" stroke-width="0.5"/>
<text x="317.0" y="125.9" font-size="5.8" text-anchor="middle" font-family='"Liberation Serif", serif' fill="#222" >1.0</text>
<text x="276.8" y="132.9" font-size="6.65" text-anchor="middle" font-family='"Liberation Serif", serif' fill="#1a1a1a" >ICDrisk score</text>
<line x1="209.0" y1="113.2" x2="210.5" y2="113.2" stroke="#999" stroke-width="0.5"/>
<text x="208.5" y="115.2" font-size="5.8" text-anchor="end" font-family='"Liberation Serif", serif' fill="#222" >0</text>
<line x1="209.0" y1="84.9" x2="210.5" y2="84.9" stroke="#999" stroke-width="0.5"/>
<text x="208.5" y="86.9" font-size="5.8" text-anchor="end" font-family='"Liberation Serif", serif' fill="#222" >250</text>
<line x1="209.0" y1="56.6" x2="210.5" y2="56.6" stroke="#999" stroke-width="0.5"/>
<text x="208.5" y="58.6" font-size="5.8" text-anchor="end" font-family='"Liberation Serif", serif' fill="#222" >500</text>
<line x1="209.0" y1="28.3" x2="210.5" y2="28.3" stroke="#999" stroke-width="0.5"/>
<text x="208.5" y="30.3" font-size="5.8" text-anchor="end" font-family='"Liberation Serif", serif' fill="#222" >750</text>
<text x="0" y="0" font-size="6.6" text-anchor="middle" font-family='"Liberation Serif", serif' fill="#1a1a1a" transform="translate(197.2,65.1) rotate(-90)">Synonymous mutation counts</text>
<line x1="345.4" y1="82" x2="345.4" y2="95.6" stroke="#6d9de0" stroke-width="0.7"/>
<line x1="345.4" y1="110.8" x2="345.4" y2="114.2" stroke="#9a9a9a" stroke-width="0.6"/>
<rect x="341.3" y="95.6" width="8.2" height="15.2" fill="#5482c2" stroke="#4470ab" stroke-width="0.4"/>
<line x1="341.3" y1="104.5" x2="349.5" y2="104.5" stroke="#2d5390" stroke-width="0.7"/>
<line x1="356.9" y1="70" x2="356.9" y2="91.5" stroke="#9d9d9d" stroke-width="0.7"/>
<line x1="356.9" y1="108.9" x2="356.9" y2="114.2" stroke="#9a9a9a" stroke-width="0.6"/>
<rect x="352.7" y="91.5" width="8.4" height="17.4" fill="#949494" stroke="#7d7d7d" stroke-width="0.4"/>
<line x1="352.7" y1="101.5" x2="361.1" y2="101.5" stroke="#6a6a6a" stroke-width="0.7"/>
<rect x="344.5" y="31.800000000000004" width="1.8" height="1.8" fill="#2f64b3"/>
<rect x="344.5" y="33.0" width="1.8" height="1.8" fill="#2f64b3"/>
<rect x="344.5" y="34.7" width="1.8" height="1.8" fill="#2f64b3"/>
<rect x="344.5" y="42.1" width="1.8" height="1.8" fill="#2f64b3"/>
<rect x="344.5" y="43.9" width="1.8" height="1.8" fill="#2f64b3"/>
<rect x="344.5" y="49.1" width="1.8" height="1.8" fill="#2f64b3"/>
<rect x="344.5" y="50.6" width="1.8" height="1.8" fill="#2f64b3"/>
<rect x="344.5" y="56.7" width="1.8" height="1.8" fill="#2f64b3"/>
<rect x="344.5" y="57.9" width="1.8" height="1.8" fill="#2f64b3"/>
<rect x="344.5" y="61.5" width="1.8" height="1.8" fill="#2f64b3"/>
<rect x="344.5" y="62.5" width="1.8" height="1.8" fill="#2f64b3"/>
<rect x="344.5" y="63.199999999999996" width="1.8" height="1.8" fill="#2f64b3"/>
<rect x="344.5" y="70.69999999999999" width="1.8" height="1.8" fill="#2f64b3"/>
<rect x="356.3" y="16.45" width="1.1" height="1.1" fill="#777"/>
<rect x="356.3" y="32.150000000000006" width="1.1" height="1.1" fill="#777"/>
<rect x="356.3" y="35.75" width="1.1" height="1.1" fill="#777"/>
<rect x="356.3" y="45.45" width="1.1" height="1.1" fill="#777"/>
<rect x="356.3" y="51.45" width="1.1" height="1.1" fill="#777"/>
<rect x="356.3" y="57.45" width="1.1" height="1.1" fill="#777"/>
<rect x="356.3" y="59.45" width="1.1" height="1.1" fill="#777"/>
<rect x="356.3" y="64.25" width="1.1" height="1.1" fill="#777"/>
<line x1="345.4" y1="14.6" x2="356.9" y2="14.6" stroke="#333" stroke-width="0.6"/>
<text x="351.1" y="15.6" font-size="7.2" text-anchor="middle" font-family='"Liberation Sans", sans-serif' fill="#333" font-weight="bold">* *</text>
<rect x="394.3" y="12.5" width="115.5" height="106.0" fill="#fff" stroke="#c9c9c9" stroke-width="0.8"/>
<line x1="397.5" y1="12.5" x2="397.5" y2="118.5" stroke="#ececec" stroke-width="0.6"/>
<line x1="417.8" y1="12.5" x2="417.8" y2="118.5" stroke="#ececec" stroke-width="0.6"/>
<line x1="438.0" y1="12.5" x2="438.0" y2="118.5" stroke="#ececec" stroke-width="0.6"/>
<line x1="458.2" y1="12.5" x2="458.2" y2="118.5" stroke="#ececec" stroke-width="0.6"/>
<line x1="478.5" y1="12.5" x2="478.5" y2="118.5" stroke="#ececec" stroke-width="0.6"/>
<line x1="498.8" y1="12.5" x2="498.8" y2="118.5" stroke="#ececec" stroke-width="0.6"/>
<line x1="407.6" y1="12.5" x2="407.6" y2="118.5" stroke="#f5f5f5" stroke-width="0.4"/>
<line x1="427.9" y1="12.5" x2="427.9" y2="118.5" stroke="#f5f5f5" stroke-width="0.4"/>
<line x1="448.1" y1="12.5" x2="448.1" y2="118.5" stroke="#f5f5f5" stroke-width="0.4"/>
<line x1="468.4" y1="12.5" x2="468.4" y2="118.5" stroke="#f5f5f5" stroke-width="0.4"/>
<line x1="488.6" y1="12.5" x2="488.6" y2="118.5" stroke="#f5f5f5" stroke-width="0.4"/>
<line x1="394.3" y1="113.2" x2="509.8" y2="113.2" stroke="#ececec" stroke-width="0.6"/>
<line x1="394.3" y1="88.9" x2="509.8" y2="88.9" stroke="#ececec" stroke-width="0.6"/>
<line x1="394.3" y1="64.6" x2="509.8" y2="64.6" stroke="#ececec" stroke-width="0.6"/>
<line x1="394.3" y1="40.3" x2="509.8" y2="40.3" stroke="#ececec" stroke-width="0.6"/>
<line x1="394.3" y1="16.0" x2="509.8" y2="16.0" stroke="#ececec" stroke-width="0.6"/>
<polygon points="399.5,98.3 404.8,98.4 410.1,98.5 415.3,98.4 420.6,98.3 425.9,98.2 431.1,98.0 436.4,97.7 441.6,97.3 446.9,96.9 452.2,96.4 457.4,95.9 462.7,95.3 468.0,94.6 473.2,93.9 478.5,93.1 483.8,92.2 489.0,91.3 494.3,90.3 499.6,89.2 504.8,88.1 504.8,98.4 499.6,98.3 494.3,98.2 489.0,98.2 483.8,98.2 478.5,98.3 473.2,98.5 468.0,98.7 462.7,99.0 457.4,99.4 452.2,99.8 446.9,100.3 441.6,100.9 436.4,101.5 431.1,102.2 425.9,102.9 420.6,103.8 415.3,104.6 410.1,105.6 404.8,106.6 399.5,107.7" fill="#c6c6c6" opacity="0.9"/>
<path d="M449.2 90.2h1.5v1.5h-1.5zM464.9 95.1h1.5v1.5h-1.5zM503.5 110.7h1.5v1.5h-1.5zM458.3 71.8h1.5v1.5h-1.5zM485.0 109.8h1.5v1.5h-1.5zM468.5 81.5h1.5v1.5h-1.5zM454.5 107.4h1.5v1.5h-1.5zM453.9 109.7h1.5v1.5h-1.5zM476.2 103.8h1.5v1.5h-1.5zM462.4 74.9h1.5v1.5h-1.5zM458.5 108.0h1.5v1.5h-1.5zM479.5 101.0h1.5v1.5h-1.5zM495.0 108.5h1.5v1.5h-1.5zM472.9 79.6h1.5v1.5h-1.5zM474.5 36.0h1.5v1.5h-1.5zM453.1 106.5h1.5v1.5h-1.5zM454.1 107.9h1.5v1.5h-1.5zM457.1 100.3h1.5v1.5h-1.5zM474.6 83.1h1.5v1.5h-1.5zM456.9 75.4h1.5v1.5h-1.5zM463.6 101.4h1.5v1.5h-1.5zM461.1 101.1h1.5v1.5h-1.5zM450.3 106.1h1.5v1.5h-1.5zM445.7 78.3h1.5v1.5h-1.5zM445.9 90.4h1.5v1.5h-1.5zM469.0 83.6h1.5v1.5h-1.5zM466.6 77.1h1.5v1.5h-1.5zM469.6 35.9h1.5v1.5h-1.5zM479.1 106.6h1.5v1.5h-1.5zM470.7 106.8h1.5v1.5h-1.5zM461.0 108.3h1.5v1.5h-1.5zM462.4 97.9h1.5v1.5h-1.5zM447.0 107.5h1.5v1.5h-1.5zM475.9 79.9h1.5v1.5h-1.5zM460.4 106.3h1.5v1.5h-1.5zM464.9 107.7h1.5v1.5h-1.5zM491.4 109.3h1.5v1.5h-1.5zM463.2 102.3h1.5v1.5h-1.5zM466.4 109.1h1.5v1.5h-1.5zM480.5 110.6h1.5v1.5h-1.5zM474.6 101.1h1.5v1.5h-1.5zM445.7 104.0h1.5v1.5h-1.5zM447.4 108.8h1.5v1.5h-1.5zM461.9 108.8h1.5v1.5h-1.5zM462.3 100.0h1.5v1.5h-1.5zM457.4 102.0h1.5v1.5h-1.5zM452.9 109.1h1.5v1.5h-1.5zM457.2 104.9h1.5v1.5h-1.5zM465.5 86.3h1.5v1.5h-1.5zM455.2 89.7h1.5v1.5h-1.5zM463.5 103.8h1.5v1.5h-1.5zM451.4 96.6h1.5v1.5h-1.5zM451.6 74.9h1.5v1.5h-1.5zM457.7 104.8h1.5v1.5h-1.5zM450.7 106.1h1.5v1.5h-1.5zM465.6 62.1h1.5v1.5h-1.5zM499.7 107.8h1.5v1.5h-1.5zM487.5 107.6h1.5v1.5h-1.5zM457.0 105.7h1.5v1.5h-1.5zM467.1 105.2h1.5v1.5h-1.5zM455.5 106.2h1.5v1.5h-1.5zM463.0 96.6h1.5v1.5h-1.5zM463.6 105.7h1.5v1.5h-1.5zM446.2 91.4h1.5v1.5h-1.5zM457.6 89.2h1.5v1.5h-1.5zM504.2 110.9h1.5v1.5h-1.5zM462.8 87.1h1.5v1.5h-1.5zM449.2 100.6h1.5v1.5h-1.5zM451.4 110.6h1.5v1.5h-1.5zM454.3 105.0h1.5v1.5h-1.5zM457.7 92.6h1.5v1.5h-1.5zM460.4 105.8h1.5v1.5h-1.5zM465.2 95.9h1.5v1.5h-1.5zM459.1 107.9h1.5v1.5h-1.5zM483.6 89.7h1.5v1.5h-1.5zM478.3 81.9h1.5v1.5h-1.5zM450.5 104.5h1.5v1.5h-1.5zM479.9 106.7h1.5v1.5h-1.5zM452.1 92.2h1.5v1.5h-1.5zM458.7 108.7h1.5v1.5h-1.5zM464.1 99.0h1.5v1.5h-1.5zM473.3 83.1h1.5v1.5h-1.5zM463.7 109.1h1.5v1.5h-1.5zM501.3 109.7h1.5v1.5h-1.5zM457.4 64.7h1.5v1.5h-1.5zM497.4 91.3h1.5v1.5h-1.5zM484.0 108.3h1.5v1.5h-1.5zM459.1 102.1h1.5v1.5h-1.5zM478.1 107.7h1.5v1.5h-1.5zM477.2 110.6h1.5v1.5h-1.5zM457.0 97.1h1.5v1.5h-1.5zM455.9 85.3h1.5v1.5h-1.5zM461.7 92.6h1.5v1.5h-1.5zM457.9 106.5h1.5v1.5h-1.5zM481.1 108.7h1.5v1.5h-1.5zM473.1 95.1h1.5v1.5h-1.5zM458.3 103.6h1.5v1.5h-1.5zM481.4 100.6h1.5v1.5h-1.5zM493.7 99.4h1.5v1.5h-1.5zM473.9 109.5h1.5v1.5h-1.5zM504.0 110.1h1.5v1.5h-1.5zM457.5 102.8h1.5v1.5h-1.5zM464.0 97.8h1.5v1.5h-1.5zM467.3 105.7h1.5v1.5h-1.5zM493.7 110.1h1.5v1.5h-1.5zM463.4 86.6h1.5v1.5h-1.5zM491.8 101.6h1.5v1.5h-1.5zM457.6 99.9h1.5v1.5h-1.5zM459.2 78.4h1.5v1.5h-1.5zM458.1 93.5h1.5v1.5h-1.5zM457.5 52.2h1.5v1.5h-1.5zM451.2 107.0h1.5v1.5h-1.5zM485.0 108.9h1.5v1.5h-1.5zM456.9 110.0h1.5v1.5h-1.5zM456.8 108.9h1.5v1.5h-1.5zM457.1 109.8h1.5v1.5h-1.5zM457.0 67.1h1.5v1.5h-1.5zM447.8 101.7h1.5v1.5h-1.5zM463.4 92.6h1.5v1.5h-1.5zM496.7 109.9h1.5v1.5h-1.5zM455.4 105.7h1.5v1.5h-1.5zM457.3 102.0h1.5v1.5h-1.5zM458.8 110.2h1.5v1.5h-1.5zM458.3 96.0h1.5v1.5h-1.5zM464.4 62.5h1.5v1.5h-1.5zM477.9 88.0h1.5v1.5h-1.5zM489.1 66.2h1.5v1.5h-1.5zM456.7 103.2h1.5v1.5h-1.5zM459.3 96.5h1.5v1.5h-1.5zM457.5 44.6h1.5v1.5h-1.5zM458.2 78.0h1.5v1.5h-1.5zM466.6 107.6h1.5v1.5h-1.5zM456.6 86.8h1.5v1.5h-1.5zM477.9 109.0h1.5v1.5h-1.5zM462.7 98.7h1.5v1.5h-1.5zM470.0 108.6h1.5v1.5h-1.5zM479.7 87.2h1.5v1.5h-1.5zM450.4 92.4h1.5v1.5h-1.5zM452.9 100.0h1.5v1.5h-1.5zM465.0 80.2h1.5v1.5h-1.5zM477.9 110.8h1.5v1.5h-1.5zM454.7 75.5h1.5v1.5h-1.5zM453.7 102.0h1.5v1.5h-1.5zM470.7 100.2h1.5v1.5h-1.5zM481.8 56.0h1.5v1.5h-1.5zM457.4 104.1h1.5v1.5h-1.5zM459.1 105.7h1.5v1.5h-1.5zM468.5 58.2h1.5v1.5h-1.5zM463.6 96.8h1.5v1.5h-1.5zM462.2 105.3h1.5v1.5h-1.5zM457.3 110.0h1.5v1.5h-1.5zM445.6 99.7h1.5v1.5h-1.5zM468.7 105.3h1.5v1.5h-1.5zM458.8 99.4h1.5v1.5h-1.5zM445.6 93.1h1.5v1.5h-1.5zM449.0 108.1h1.5v1.5h-1.5zM457.0 84.2h1.5v1.5h-1.5zM457.8 109.7h1.5v1.5h-1.5zM478.9 85.7h1.5v1.5h-1.5zM454.8 109.5h1.5v1.5h-1.5zM480.6 107.1h1.5v1.5h-1.5zM450.1 102.0h1.5v1.5h-1.5zM478.3 84.6h1.5v1.5h-1.5zM448.9 65.2h1.5v1.5h-1.5zM461.2 91.7h1.5v1.5h-1.5zM461.0 94.6h1.5v1.5h-1.5zM452.8 106.3h1.5v1.5h-1.5zM484.0 87.6h1.5v1.5h-1.5zM474.0 72.6h1.5v1.5h-1.5zM446.2 106.1h1.5v1.5h-1.5zM457.9 108.7h1.5v1.5h-1.5zM480.5 106.5h1.5v1.5h-1.5zM457.7 83.4h1.5v1.5h-1.5zM457.6 88.8h1.5v1.5h-1.5zM450.8 102.2h1.5v1.5h-1.5zM446.2 103.7h1.5v1.5h-1.5zM456.6 106.6h1.5v1.5h-1.5zM451.0 105.6h1.5v1.5h-1.5zM480.5 104.9h1.5v1.5h-1.5zM458.3 47.9h1.5v1.5h-1.5zM457.8 108.2h1.5v1.5h-1.5zM451.6 104.1h1.5v1.5h-1.5zM456.2 103.8h1.5v1.5h-1.5zM456.6 69.1h1.5v1.5h-1.5zM480.2 41.5h1.5v1.5h-1.5zM478.1 106.1h1.5v1.5h-1.5zM478.7 107.8h1.5v1.5h-1.5zM447.1 108.9h1.5v1.5h-1.5zM453.2 78.9h1.5v1.5h-1.5zM451.5 103.9h1.5v1.5h-1.5zM457.4 108.1h1.5v1.5h-1.5zM470.9 108.2h1.5v1.5h-1.5zM479.3 103.2h1.5v1.5h-1.5zM464.5 86.9h1.5v1.5h-1.5zM454.5 105.8h1.5v1.5h-1.5zM474.5 89.0h1.5v1.5h-1.5zM448.2 104.5h1.5v1.5h-1.5zM459.8 109.9h1.5v1.5h-1.5zM454.3 89.1h1.5v1.5h-1.5zM456.9 95.8h1.5v1.5h-1.5zM454.3 97.6h1.5v1.5h-1.5zM455.1 103.7h1.5v1.5h-1.5zM458.2 106.9h1.5v1.5h-1.5zM478.9 68.9h1.5v1.5h-1.5zM462.4 108.6h1.5v1.5h-1.5zM452.9 93.9h1.5v1.5h-1.5zM455.1 43.5h1.5v1.5h-1.5zM451.4 59.0h1.5v1.5h-1.5zM446.8 104.3h1.5v1.5h-1.5zM455.8 78.5h1.5v1.5h-1.5zM476.9 56.6h1.5v1.5h-1.5zM464.8 73.0h1.5v1.5h-1.5zM448.4 94.5h1.5v1.5h-1.5zM459.5 94.0h1.5v1.5h-1.5zM460.7 102.1h1.5v1.5h-1.5zM461.1 95.6h1.5v1.5h-1.5zM480.4 107.1h1.5v1.5h-1.5zM457.5 15.0h1.5v1.5h-1.5zM458.8 108.9h1.5v1.5h-1.5zM457.0 72.0h1.5v1.5h-1.5zM448.5 91.8h1.5v1.5h-1.5zM477.6 105.4h1.5v1.5h-1.5zM463.0 106.2h1.5v1.5h-1.5zM478.5 61.9h1.5v1.5h-1.5zM457.1 101.5h1.5v1.5h-1.5zM480.1 83.9h1.5v1.5h-1.5zM446.1 86.4h1.5v1.5h-1.5zM454.4 91.0h1.5v1.5h-1.5zM449.8 108.3h1.5v1.5h-1.5zM448.6 102.3h1.5v1.5h-1.5zM454.8 109.0h1.5v1.5h-1.5zM466.9 103.3h1.5v1.5h-1.5zM451.2 97.5h1.5v1.5h-1.5zM466.5 83.3h1.5v1.5h-1.5zM451.2 103.5h1.5v1.5h-1.5zM452.0 97.6h1.5v1.5h-1.5zM468.4 97.3h1.5v1.5h-1.5zM477.2 107.2h1.5v1.5h-1.5zM459.3 107.3h1.5v1.5h-1.5zM478.3 104.7h1.5v1.5h-1.5zM455.8 106.8h1.5v1.5h-1.5zM457.2 104.1h1.5v1.5h-1.5zM456.9 107.7h1.5v1.5h-1.5zM461.6 110.6h1.5v1.5h-1.5zM500.0 109.0h1.5v1.5h-1.5zM456.6 78.5h1.5v1.5h-1.5zM468.7 67.3h1.5v1.5h-1.5zM449.2 83.7h1.5v1.5h-1.5zM450.8 94.2h1.5v1.5h-1.5zM479.0 96.2h1.5v1.5h-1.5zM495.4 111.0h1.5v1.5h-1.5zM473.2 91.1h1.5v1.5h-1.5zM501.2 110.0h1.5v1.5h-1.5zM461.6 107.0h1.5v1.5h-1.5zM447.4 62.5h1.5v1.5h-1.5zM457.0 86.4h1.5v1.5h-1.5zM449.4 101.6h1.5v1.5h-1.5zM454.2 90.1h1.5v1.5h-1.5zM465.9 108.8h1.5v1.5h-1.5zM463.6 84.7h1.5v1.5h-1.5zM450.3 102.9h1.5v1.5h-1.5zM474.2 110.9h1.5v1.5h-1.5zM460.1 100.7h1.5v1.5h-1.5zM452.2 100.9h1.5v1.5h-1.5zM464.0 93.7h1.5v1.5h-1.5zM464.8 96.5h1.5v1.5h-1.5zM453.5 95.3h1.5v1.5h-1.5zM447.8 94.4h1.5v1.5h-1.5zM462.2 101.5h1.5v1.5h-1.5zM491.5 110.2h1.5v1.5h-1.5zM461.8 106.5h1.5v1.5h-1.5zM475.5 69.6h1.5v1.5h-1.5zM449.8 108.8h1.5v1.5h-1.5zM477.9 81.2h1.5v1.5h-1.5zM457.0 109.1h1.5v1.5h-1.5zM457.6 93.4h1.5v1.5h-1.5zM458.3 109.4h1.5v1.5h-1.5zM459.9 110.5h1.5v1.5h-1.5zM459.2 97.1h1.5v1.5h-1.5zM467.5 70.9h1.5v1.5h-1.5zM473.4 93.2h1.5v1.5h-1.5zM460.5 109.7h1.5v1.5h-1.5zM457.7 77.0h1.5v1.5h-1.5zM461.0 100.9h1.5v1.5h-1.5zM463.0 97.1h1.5v1.5h-1.5zM460.6 91.5h1.5v1.5h-1.5zM481.3 100.9h1.5v1.5h-1.5zM447.3 103.5h1.5v1.5h-1.5zM468.9 109.3h1.5v1.5h-1.5zM458.7 109.4h1.5v1.5h-1.5zM458.4 93.9h1.5v1.5h-1.5zM445.8 104.5h1.5v1.5h-1.5zM485.9 79.1h1.5v1.5h-1.5zM475.8 91.9h1.5v1.5h-1.5zM475.9 101.2h1.5v1.5h-1.5zM448.8 100.4h1.5v1.5h-1.5zM457.6 109.3h1.5v1.5h-1.5zM459.5 105.4h1.5v1.5h-1.5zM462.8 106.1h1.5v1.5h-1.5zM502.3 109.6h1.5v1.5h-1.5zM463.8 94.7h1.5v1.5h-1.5zM473.1 100.7h1.5v1.5h-1.5zM463.3 107.5h1.5v1.5h-1.5zM459.9 102.6h1.5v1.5h-1.5zM457.8 105.5h1.5v1.5h-1.5zM458.0 105.2h1.5v1.5h-1.5zM465.8 99.8h1.5v1.5h-1.5zM466.6 88.8h1.5v1.5h-1.5zM466.5 108.2h1.5v1.5h-1.5zM449.4 97.1h1.5v1.5h-1.5zM446.7 105.8h1.5v1.5h-1.5zM446.6 107.6h1.5v1.5h-1.5zM468.0 109.2h1.5v1.5h-1.5zM457.6 107.4h1.5v1.5h-1.5zM462.1 64.4h1.5v1.5h-1.5zM468.3 107.4h1.5v1.5h-1.5z" fill="#7d7d7d"/>
<path d="M441.7 106.1h2v2h-2zM400.5 109.5h2v2h-2zM438.3 103.6h2v2h-2zM401.5 109.7h2v2h-2zM435.8 61.5h2v2h-2zM417.1 82.3h2v2h-2zM419.7 102.8h2v2h-2zM433.0 108.3h2v2h-2zM437.4 103.4h2v2h-2zM433.9 95.4h2v2h-2zM433.8 66.2h2v2h-2zM432.9 89.2h2v2h-2zM439.2 102.8h2v2h-2zM433.7 107.1h2v2h-2zM436.0 107.4h2v2h-2zM412.0 110.3h2v2h-2zM442.7 103.5h2v2h-2zM436.8 108.9h2v2h-2zM443.2 89.1h2v2h-2zM436.9 97.3h2v2h-2zM434.1 99.9h2v2h-2zM420.1 100.5h2v2h-2zM416.6 97.9h2v2h-2zM426.0 100.1h2v2h-2zM430.1 43.8h2v2h-2zM421.5 100.6h2v2h-2zM421.7 105.1h2v2h-2zM426.6 101.4h2v2h-2zM436.1 77.2h2v2h-2zM401.6 108.9h2v2h-2zM428.0 107.9h2v2h-2zM442.2 110.9h2v2h-2zM435.8 23.6h2v2h-2zM414.9 91.6h2v2h-2zM437.6 97.1h2v2h-2zM427.9 85.6h2v2h-2zM422.1 105.9h2v2h-2zM433.2 104.3h2v2h-2zM433.5 104.8h2v2h-2zM437.5 98.2h2v2h-2zM413.7 103.3h2v2h-2zM437.2 86.7h2v2h-2zM406.3 110.0h2v2h-2zM417.9 105.3h2v2h-2zM425.1 108.5h2v2h-2zM443.0 101.9h2v2h-2zM434.4 107.5h2v2h-2zM435.3 105.4h2v2h-2zM435.4 106.7h2v2h-2zM434.2 97.5h2v2h-2zM427.6 103.7h2v2h-2zM439.0 107.7h2v2h-2zM422.7 108.0h2v2h-2zM442.4 110.5h2v2h-2zM435.2 81.5h2v2h-2zM423.7 110.5h2v2h-2zM435.2 92.9h2v2h-2zM435.2 101.6h2v2h-2zM435.8 54.9h2v2h-2zM430.5 91.9h2v2h-2zM434.5 92.3h2v2h-2zM410.6 105.8h2v2h-2zM438.6 97.9h2v2h-2zM436.2 106.2h2v2h-2zM441.8 105.6h2v2h-2zM431.7 100.1h2v2h-2zM435.9 86.7h2v2h-2zM440.6 109.2h2v2h-2zM430.6 107.7h2v2h-2zM417.5 97.1h2v2h-2zM436.8 104.4h2v2h-2zM435.4 106.7h2v2h-2zM398.9 111.7h2v2h-2zM412.7 65.7h2v2h-2zM410.6 101.6h2v2h-2zM436.9 80.9h2v2h-2zM432.6 92.5h2v2h-2zM442.0 99.8h2v2h-2zM427.7 81.0h2v2h-2zM435.9 111.2h2v2h-2zM436.7 106.7h2v2h-2zM432.6 108.8h2v2h-2zM441.2 75.7h2v2h-2zM435.4 96.5h2v2h-2zM433.5 106.4h2v2h-2zM432.4 92.5h2v2h-2zM400.6 109.1h2v2h-2zM432.6 102.5h2v2h-2zM441.6 107.9h2v2h-2zM436.3 101.7h2v2h-2zM425.6 91.0h2v2h-2zM433.9 95.9h2v2h-2zM434.9 104.8h2v2h-2zM400.3 110.2h2v2h-2zM401.5 109.4h2v2h-2zM442.5 101.4h2v2h-2zM432.2 87.1h2v2h-2zM440.4 92.4h2v2h-2zM437.2 106.2h2v2h-2zM441.6 104.0h2v2h-2zM434.7 105.0h2v2h-2zM435.0 93.8h2v2h-2zM436.6 87.0h2v2h-2zM418.9 103.5h2v2h-2zM435.6 88.4h2v2h-2zM428.4 102.2h2v2h-2zM435.3 104.7h2v2h-2zM438.7 101.6h2v2h-2zM437.2 100.6h2v2h-2zM438.7 96.9h2v2h-2zM436.7 108.3h2v2h-2zM438.2 101.1h2v2h-2zM431.5 96.4h2v2h-2zM420.3 102.8h2v2h-2zM418.2 105.9h2v2h-2zM435.8 103.2h2v2h-2zM432.2 103.7h2v2h-2zM442.8 99.7h2v2h-2zM435.3 90.4h2v2h-2zM436.4 88.0h2v2h-2zM418.5 107.0h2v2h-2zM443.3 103.5h2v2h-2zM413.7 102.2h2v2h-2zM435.3 109.4h2v2h-2zM443.1 81.6h2v2h-2zM420.7 95.7h2v2h-2zM415.6 97.3h2v2h-2zM423.1 104.7h2v2h-2zM424.4 74.4h2v2h-2zM428.7 110.5h2v2h-2zM436.8 103.4h2v2h-2zM436.8 92.5h2v2h-2zM438.7 101.5h2v2h-2zM436.0 95.2h2v2h-2zM415.2 88.9h2v2h-2zM441.1 79.3h2v2h-2zM424.8 107.4h2v2h-2zM441.9 103.4h2v2h-2zM430.1 105.2h2v2h-2zM440.0 109.1h2v2h-2zM432.5 98.6h2v2h-2zM425.0 110.2h2v2h-2zM435.7 107.9h2v2h-2zM434.8 107.1h2v2h-2zM406.8 108.8h2v2h-2zM440.7 94.8h2v2h-2zM443.6 106.6h2v2h-2zM434.2 109.1h2v2h-2zM421.4 86.4h2v2h-2zM435.6 99.3h2v2h-2zM426.8 103.2h2v2h-2zM437.6 103.5h2v2h-2zM417.1 107.8h2v2h-2zM427.0 103.4h2v2h-2zM444.9 80.4h2v2h-2zM444.8 83.8h2v2h-2zM442.4 89.6h2v2h-2zM436.9 98.5h2v2h-2zM416.9 103.8h2v2h-2zM435.7 104.9h2v2h-2zM435.8 89.5h2v2h-2zM436.5 106.0h2v2h-2zM413.7 103.0h2v2h-2zM435.4 103.5h2v2h-2zM423.6 31.3h2v2h-2zM436.4 87.1h2v2h-2zM427.8 106.2h2v2h-2zM418.1 109.4h2v2h-2zM443.9 97.3h2v2h-2zM442.9 101.3h2v2h-2zM435.7 106.9h2v2h-2zM435.3 67.0h2v2h-2zM440.4 105.5h2v2h-2zM428.3 76.5h2v2h-2zM401.6 104.6h2v2h-2zM435.6 110.8h2v2h-2zM433.2 96.6h2v2h-2zM437.0 107.0h2v2h-2zM442.4 96.3h2v2h-2zM437.6 86.5h2v2h-2zM432.3 99.8h2v2h-2zM435.7 97.1h2v2h-2zM435.4 30.8h2v2h-2zM435.4 107.4h2v2h-2zM423.0 97.2h2v2h-2zM420.6 96.8h2v2h-2zM439.4 85.7h2v2h-2zM441.3 102.7h2v2h-2zM416.6 98.9h2v2h-2zM440.5 108.2h2v2h-2zM436.6 101.1h2v2h-2zM437.2 105.0h2v2h-2zM408.3 111.4h2v2h-2zM440.2 109.7h2v2h-2zM403.4 104.6h2v2h-2zM434.1 109.3h2v2h-2zM412.4 110.5h2v2h-2zM437.3 98.4h2v2h-2zM404.9 109.9h2v2h-2zM436.3 57.6h2v2h-2zM436.2 55.8h2v2h-2zM439.0 107.5h2v2h-2zM444.3 104.8h2v2h-2zM441.4 108.9h2v2h-2zM423.1 107.0h2v2h-2zM435.2 106.6h2v2h-2zM415.4 102.3h2v2h-2zM422.1 105.0h2v2h-2zM432.1 54.2h2v2h-2zM403.6 108.2h2v2h-2zM443.1 24.7h2v2h-2zM435.5 89.9h2v2h-2zM438.6 97.9h2v2h-2zM435.8 21.2h2v2h-2zM433.4 100.1h2v2h-2zM419.0 106.8h2v2h-2zM435.0 55.9h2v2h-2zM434.8 97.2h2v2h-2zM435.5 96.0h2v2h-2zM439.9 89.2h2v2h-2zM436.6 107.3h2v2h-2zM419.7 94.7h2v2h-2zM434.1 89.5h2v2h-2zM436.5 108.7h2v2h-2zM414.6 100.0h2v2h-2zM424.0 99.8h2v2h-2zM415.6 96.0h2v2h-2zM415.5 108.6h2v2h-2zM423.6 67.5h2v2h-2zM437.2 80.8h2v2h-2zM433.1 86.8h2v2h-2zM429.5 92.0h2v2h-2zM426.1 91.4h2v2h-2zM433.6 109.9h2v2h-2zM436.2 105.3h2v2h-2zM436.6 104.8h2v2h-2zM432.8 105.7h2v2h-2zM407.5 109.9h2v2h-2zM437.7 97.7h2v2h-2zM437.2 102.4h2v2h-2zM437.0 100.9h2v2h-2zM431.7 103.6h2v2h-2zM404.1 108.1h2v2h-2zM437.6 99.5h2v2h-2zM422.1 106.5h2v2h-2zM417.4 107.4h2v2h-2zM442.9 96.4h2v2h-2zM414.7 73.4h2v2h-2zM439.6 110.3h2v2h-2zM415.1 108.8h2v2h-2zM403.7 110.2h2v2h-2zM436.9 104.5h2v2h-2zM438.6 98.4h2v2h-2zM423.5 92.8h2v2h-2zM422.5 103.4h2v2h-2zM428.0 79.0h2v2h-2zM437.0 103.7h2v2h-2zM425.4 95.6h2v2h-2zM423.9 96.7h2v2h-2zM433.3 104.4h2v2h-2zM439.5 96.1h2v2h-2zM437.7 103.9h2v2h-2zM435.6 105.1h2v2h-2zM434.7 104.5h2v2h-2zM435.1 109.6h2v2h-2zM418.3 87.0h2v2h-2zM432.7 97.0h2v2h-2zM432.4 106.8h2v2h-2zM435.1 103.9h2v2h-2zM436.1 80.7h2v2h-2zM408.2 104.5h2v2h-2zM435.6 104.8h2v2h-2zM425.6 98.6h2v2h-2zM429.3 106.0h2v2h-2zM435.3 101.9h2v2h-2zM414.6 109.6h2v2h-2zM418.9 86.4h2v2h-2zM436.1 103.3h2v2h-2zM425.5 89.9h2v2h-2zM407.3 110.8h2v2h-2zM436.5 83.7h2v2h-2zM434.8 107.6h2v2h-2zM405.6 110.2h2v2h-2zM438.5 86.4h2v2h-2zM435.4 105.3h2v2h-2zM415.9 107.3h2v2h-2zM415.3 105.3h2v2h-2zM432.9 59.2h2v2h-2zM437.3 91.2h2v2h-2zM429.1 87.6h2v2h-2zM435.1 96.2h2v2h-2zM399.2 106.4h2v2h-2zM427.9 94.0h2v2h-2zM435.2 108.2h2v2h-2z" fill="#2f64b3"/>
<line x1="399.5" y1="103.0" x2="504.8" y2="93.3" stroke="#e0322c" stroke-width="1.3"/>
<rect x="394.3" y="12.5" width="115.5" height="106.0" fill="none" stroke="#c9c9c9" stroke-width="0.8"/>
<text x="396.1" y="19.3" font-size="6.1" font-family='"Liberation Serif", serif' fill="#111" stroke="#111" stroke-width="0.12"><tspan font-style="italic">R</tspan>=0.11, <tspan font-style="italic">p</tspan>=0.015</text>
<line x1="397.5" y1="118.5" x2="397.5" y2="120.0" stroke="#999" stroke-width="0.5"/>
<text x="397.5" y="125.9" font-size="5.8" text-anchor="middle" font-family='"Liberation Serif", serif' fill="#222" >−1.5</text>
<line x1="417.8" y1="118.5" x2="417.8" y2="120.0" stroke="#999" stroke-width="0.5"/>
<text x="417.8" y="125.9" font-size="5.8" text-anchor="middle" font-family='"Liberation Serif", serif' fill="#222" >−1.0</text>
<line x1="438.0" y1="118.5" x2="438.0" y2="120.0" stroke="#999" stroke-width="0.5"/>
<text x="438.0" y="125.9" font-size="5.8" text-anchor="middle" font-family='"Liberation Serif", serif' fill="#222" >−0.5</text>
<line x1="458.2" y1="118.5" x2="458.2" y2="120.0" stroke="#999" stroke-width="0.5"/>
<text x="458.2" y="125.9" font-size="5.8" text-anchor="middle" font-family='"Liberation Serif", serif' fill="#222" >0.0</text>
<line x1="478.5" y1="118.5" x2="478.5" y2="120.0" stroke="#999" stroke-width="0.5"/>
<text x="478.5" y="125.9" font-size="5.8" text-anchor="middle" font-family='"Liberation Serif", serif' fill="#222" >0.5</text>
<line x1="498.8" y1="118.5" x2="498.8" y2="120.0" stroke="#999" stroke-width="0.5"/>
<text x="498.8" y="125.9" font-size="5.8" text-anchor="middle" font-family='"Liberation Serif", serif' fill="#222" >1.0</text>
<text x="459.1" y="132.9" font-size="6.65" text-anchor="middle" font-family='"Liberation Serif", serif' fill="#1a1a1a" >ICDrisk score</text>
<line x1="392.8" y1="113.2" x2="394.3" y2="113.2" stroke="#999" stroke-width="0.5"/>
<text x="392.3" y="115.2" font-size="5.8" text-anchor="end" font-family='"Liberation Serif", serif' fill="#222" >0</text>
<line x1="392.8" y1="88.9" x2="394.3" y2="88.9" stroke="#999" stroke-width="0.5"/>
<text x="392.3" y="90.9" font-size="5.8" text-anchor="end" font-family='"Liberation Serif", serif' fill="#222" >500</text>
<line x1="392.8" y1="64.6" x2="394.3" y2="64.6" stroke="#999" stroke-width="0.5"/>
<text x="392.3" y="66.6" font-size="5.8" text-anchor="end" font-family='"Liberation Serif", serif' fill="#222" >1000</text>
<line x1="392.8" y1="40.3" x2="394.3" y2="40.3" stroke="#999" stroke-width="0.5"/>
<text x="392.3" y="42.3" font-size="5.8" text-anchor="end" font-family='"Liberation Serif", serif' fill="#222" >1500</text>
<line x1="392.8" y1="16.0" x2="394.3" y2="16.0" stroke="#999" stroke-width="0.5"/>
<text x="392.3" y="18.0" font-size="5.8" text-anchor="end" font-family='"Liberation Serif", serif' fill="#222" >2000</text>
<text x="0" y="0" font-size="6.6" text-anchor="middle" font-family='"Liberation Serif", serif' fill="#1a1a1a" transform="translate(378.7,64.9) rotate(-90)">Non−synonymous mutation counts</text>
<line x1="525.9" y1="81" x2="525.9" y2="96.3" stroke="#6d9de0" stroke-width="0.7"/>
<line x1="525.9" y1="110.8" x2="525.9" y2="114.2" stroke="#9a9a9a" stroke-width="0.6"/>
<rect x="521.5" y="96.3" width="8.7" height="14.5" fill="#5482c2" stroke="#4470ab" stroke-width="0.4"/>
<line x1="521.5" y1="105.2" x2="530.2" y2="105.2" stroke="#2d5390" stroke-width="0.7"/>
<line x1="537.2" y1="66" x2="537.2" y2="92.4" stroke="#9d9d9d" stroke-width="0.7"/>
<line x1="537.2" y1="108.9" x2="537.2" y2="114.2" stroke="#9a9a9a" stroke-width="0.6"/>
<rect x="533" y="92.4" width="8.5" height="16.5" fill="#949494" stroke="#7d7d7d" stroke-width="0.4"/>
<line x1="533" y1="101.6" x2="541.5" y2="101.6" stroke="#6a6a6a" stroke-width="0.7"/>
<rect x="525.0" y="26.900000000000002" width="1.8" height="1.8" fill="#2f64b3"/>
<rect x="525.0" y="29.3" width="1.8" height="1.8" fill="#2f64b3"/>
<rect x="525.0" y="38.300000000000004" width="1.8" height="1.8" fill="#2f64b3"/>
<rect x="525.0" y="39.7" width="1.8" height="1.8" fill="#2f64b3"/>
<rect x="525.0" y="46.300000000000004" width="1.8" height="1.8" fill="#2f64b3"/>
<rect x="525.0" y="47.5" width="1.8" height="1.8" fill="#2f64b3"/>
<rect x="525.0" y="60.800000000000004" width="1.8" height="1.8" fill="#2f64b3"/>
<rect x="525.0" y="62.5" width="1.8" height="1.8" fill="#2f64b3"/>
<rect x="525.0" y="63.9" width="1.8" height="1.8" fill="#2f64b3"/>
<rect x="525.0" y="65.6" width="1.8" height="1.8" fill="#2f64b3"/>
<rect x="525.0" y="71.69999999999999" width="1.8" height="1.8" fill="#2f64b3"/>
<rect x="525.0" y="72.89999999999999" width="1.8" height="1.8" fill="#2f64b3"/>
<rect x="536.7" y="16.45" width="1.1" height="1.1" fill="#777"/>
<rect x="536.7" y="36.95" width="1.1" height="1.1" fill="#777"/>
<rect x="536.7" y="45.45" width="1.1" height="1.1" fill="#777"/>
<rect x="536.7" y="49.050000000000004" width="1.1" height="1.1" fill="#777"/>
<rect x="536.7" y="51.45" width="1.1" height="1.1" fill="#777"/>
<rect x="536.7" y="53.85" width="1.1" height="1.1" fill="#777"/>
<rect x="536.7" y="56.35" width="1.1" height="1.1" fill="#777"/>
<rect x="536.7" y="62.35" width="1.1" height="1.1" fill="#777"/>
<rect x="536.7" y="64.75" width="1.1" height="1.1" fill="#777"/>
<line x1="525.9" y1="14.6" x2="537.2" y2="14.6" stroke="#333" stroke-width="0.6"/>
<text x="531.5" y="15.6" font-size="7.2" text-anchor="middle" font-family='"Liberation Sans", sans-serif' fill="#333" font-weight="bold">* *</text>
<line x1="192.4" y1="139.6" x2="208.8" y2="139.6" stroke="#3566b5" stroke-width="1"/>
<circle cx="200.5" cy="139.6" r="2.2" fill="#3566b5"/>
<text x="211.6" y="143.2" font-size="9.6" text-anchor="start" font-family='"Liberation Serif", serif' fill="#333" >Low ICDrisk</text>
<line x1="275" y1="139.6" x2="290" y2="139.6" stroke="#999" stroke-width="1"/>
<circle cx="282.5" cy="139.6" r="2.2" fill="#999"/>
<text x="293.2" y="143.2" font-size="9.6" text-anchor="start" font-family='"Liberation Serif", serif' fill="#333" >High ICDrisk</text>
<text x="3.0" y="12.5" font-size="17.5" text-anchor="start" font-family='"Liberation Sans", sans-serif' fill="#222" stroke="#fff" stroke-width="0.5">a</text>
<text x="2.8" y="166.3" font-size="17.5" text-anchor="start" font-family='"Liberation Sans", sans-serif' fill="#222" stroke="#fff" stroke-width="0.5">b</text>
<text x="306.6" y="166.6" font-size="17.5" text-anchor="start" font-family='"Liberation Sans", sans-serif' fill="#222" stroke="#fff" stroke-width="0.5">c</text>
<text x="9.8" y="361.0" font-size="17.5" text-anchor="start" font-family='"Liberation Sans", sans-serif' fill="#222" stroke="#fff" stroke-width="0.5">d</text>
<text x="306.5" y="361.3" font-size="17.5" text-anchor="start" font-family='"Liberation Sans", sans-serif' fill="#222" stroke="#fff" stroke-width="0.5">e</text>
<text x="10.0" y="175.6" font-size="5.8" font-family='"Liberation Serif", serif' fill="#333" xml:space="preserve">High ICDrisk  (n=250) v/s Low ICDrisk (n=251)</text>
<text x="169.0" y="174.9" font-size="6.0" text-anchor="middle" font-family='"Liberation Serif", serif' fill="#333" >High ICDrisk</text>
<text x="204.5" y="174.9" font-size="6.0" text-anchor="middle" font-family='"Liberation Serif", serif' fill="#333" >Low ICDrisk</text>
<text x="237.0" y="174.9" font-size="6.0" text-anchor="middle" font-family='"Liberation Serif", serif' fill="#333" >OR</text>
<text x="272.5" y="174.9" font-size="6.0" text-anchor="middle" font-family='"Liberation Serif", serif' fill="#333" font-style="italic">P</text>
<line x1="46.7" y1="179" x2="46.7" y2="320.5" stroke="#aaa" stroke-width="0.5" stroke-dasharray="0.8,1"/>
<line x1="22.8" y1="185.3" x2="33.0" y2="185.3" stroke="#d9809a" stroke-width="0.8"/>
<rect x="25.7" y="184.4" width="1.8" height="1.8" fill="#1a1a1a"/>
<text x="128.9" y="187.1" font-size="4.85" font-style="italic" font-family='"Liberation Sans", sans-serif' fill="#222">SMARCA4</text>
<text x="170.4" y="186.8" font-size="4.7" text-anchor="middle" font-family='"Liberation Sans", sans-serif' fill="#333" >34</text>
<text x="202.9" y="186.8" font-size="4.7" text-anchor="middle" font-family='"Liberation Sans", sans-serif' fill="#333" >8</text>
<text x="236.6" y="186.8" font-size="4.5" text-anchor="middle" font-family='"Liberation Sans", sans-serif' fill="#333" >0.21</text>
<rect x="271.4" y="184.3" width="4.9" height="0.95" fill="#4a4a4a"/>
<line x1="27.1" y1="191.3" x2="39.1" y2="191.3" stroke="#d9809a" stroke-width="0.8"/>
<rect x="31.0" y="190.4" width="1.8" height="1.8" fill="#1a1a1a"/>
<text x="128.9" y="193.1" font-size="4.85" font-style="italic" font-family='"Liberation Sans", sans-serif' fill="#222">KEAP1</text>
<text x="170.4" y="192.8" font-size="4.7" text-anchor="middle" font-family='"Liberation Sans", sans-serif' fill="#333" >63</text>
<text x="202.9" y="192.8" font-size="4.7" text-anchor="middle" font-family='"Liberation Sans", sans-serif' fill="#333" >31</text>
<text x="236.6" y="192.8" font-size="4.5" text-anchor="middle" font-family='"Liberation Sans", sans-serif' fill="#333" >0.419</text>
<rect x="271.4" y="190.3" width="4.9" height="0.95" fill="#4a4a4a"/>
<line x1="24.1" y1="197.4" x2="37.3" y2="197.4" stroke="#d9809a" stroke-width="0.8"/>
<rect x="28.1" y="196.5" width="1.8" height="1.8" fill="#1a1a1a"/>
<text x="128.9" y="199.1" font-size="4.85" font-style="italic" font-family='"Liberation Sans", sans-serif' fill="#222">UNC13C</text>
<text x="170.4" y="198.9" font-size="4.7" text-anchor="middle" font-family='"Liberation Sans", sans-serif' fill="#333" >33</text>
<text x="202.9" y="198.9" font-size="4.7" text-anchor="middle" font-family='"Liberation Sans", sans-serif' fill="#333" >11</text>
<text x="236.6" y="198.9" font-size="4.5" text-anchor="middle" font-family='"Liberation Sans", sans-serif' fill="#333" >0.302</text>
<rect x="271.4" y="196.4" width="4.9" height="0.95" fill="#4a4a4a"/>
<line x1="24.9" y1="203.4" x2="39.1" y2="203.4" stroke="#d9809a" stroke-width="0.8"/>
<rect x="29.0" y="202.5" width="1.8" height="1.8" fill="#1a1a1a"/>
<text x="128.9" y="205.1" font-size="4.85" font-style="italic" font-family='"Liberation Sans", sans-serif' fill="#222">KCNU1</text>
<text x="170.4" y="204.9" font-size="4.7" text-anchor="middle" font-family='"Liberation Sans", sans-serif' fill="#333" >30</text>
<text x="202.9" y="204.9" font-size="4.7" text-anchor="middle" font-family='"Liberation Sans", sans-serif' fill="#333" >11</text>
<text x="236.6" y="204.9" font-size="4.5" text-anchor="middle" font-family='"Liberation Sans", sans-serif' fill="#333" >0.337</text>
<rect x="271.4" y="202.4" width="3.3" height="0.95" fill="#4a4a4a"/>
<line x1="26.1" y1="209.4" x2="40.1" y2="209.4" stroke="#d9809a" stroke-width="0.8"/>
<rect x="30.0" y="208.5" width="1.8" height="1.8" fill="#1a1a1a"/>
<text x="128.9" y="211.2" font-size="4.85" font-style="italic" font-family='"Liberation Sans", sans-serif' fill="#222">FCGBP</text>
<text x="170.4" y="210.9" font-size="4.7" text-anchor="middle" font-family='"Liberation Sans", sans-serif' fill="#333" >34</text>
<text x="202.9" y="210.9" font-size="4.7" text-anchor="middle" font-family='"Liberation Sans", sans-serif' fill="#333" >14</text>
<text x="236.6" y="210.9" font-size="4.5" text-anchor="middle" font-family='"Liberation Sans", sans-serif' fill="#333" >0.376</text>
<rect x="271.4" y="208.4" width="3.3" height="0.95" fill="#4a4a4a"/>
<line x1="26.4" y1="215.5" x2="40.6" y2="215.5" stroke="#d9809a" stroke-width="0.8"/>
<rect x="30.7" y="214.6" width="1.8" height="1.8" fill="#1a1a1a"/>
<text x="128.9" y="217.2" font-size="4.85" font-style="italic" font-family='"Liberation Sans", sans-serif' fill="#222">DNAH11</text>
<text x="170.4" y="217.0" font-size="4.7" text-anchor="middle" font-family='"Liberation Sans", sans-serif' fill="#333" >36</text>
<text x="202.9" y="217.0" font-size="4.7" text-anchor="middle" font-family='"Liberation Sans", sans-serif' fill="#333" >16</text>
<text x="236.6" y="217.0" font-size="4.5" text-anchor="middle" font-family='"Liberation Sans", sans-serif' fill="#333" >0.405</text>
<rect x="271.4" y="214.5" width="3.3" height="0.95" fill="#4a4a4a"/>
<line x1="27.9" y1="221.5" x2="42.1" y2="221.5" stroke="#d9809a" stroke-width="0.8"/>
<rect x="31.8" y="220.6" width="1.8" height="1.8" fill="#1a1a1a"/>
<text x="128.9" y="223.2" font-size="4.85" font-style="italic" font-family='"Liberation Sans", sans-serif' fill="#222">SYNE1</text>
<text x="170.4" y="223.0" font-size="4.7" text-anchor="middle" font-family='"Liberation Sans", sans-serif' fill="#333" >44</text>
<text x="202.9" y="223.0" font-size="4.7" text-anchor="middle" font-family='"Liberation Sans", sans-serif' fill="#333" >22</text>
<text x="236.6" y="223.0" font-size="4.5" text-anchor="middle" font-family='"Liberation Sans", sans-serif' fill="#333" >0.45</text>
<rect x="271.4" y="220.5" width="3.3" height="0.95" fill="#4a4a4a"/>
<line x1="28.4" y1="227.5" x2="43.4" y2="227.5" stroke="#d9809a" stroke-width="0.8"/>
<rect x="33.3" y="226.6" width="1.8" height="1.8" fill="#1a1a1a"/>
<text x="128.9" y="229.3" font-size="4.85" font-style="italic" font-family='"Liberation Sans", sans-serif' fill="#222">ASTN1</text>
<text x="170.4" y="229.0" font-size="4.7" text-anchor="middle" font-family='"Liberation Sans", sans-serif' fill="#333" >48</text>
<text x="202.9" y="229.0" font-size="4.7" text-anchor="middle" font-family='"Liberation Sans", sans-serif' fill="#333" >27</text>
<text x="236.6" y="229.0" font-size="4.5" text-anchor="middle" font-family='"Liberation Sans", sans-serif' fill="#333" >0.508</text>
<rect x="271.4" y="226.5" width="3.3" height="0.95" fill="#4a4a4a"/>
<line x1="32.0" y1="233.5" x2="44.2" y2="233.5" stroke="#d9809a" stroke-width="0.8"/>
<rect x="36.0" y="232.6" width="1.8" height="1.8" fill="#1a1a1a"/>
<text x="128.9" y="235.3" font-size="4.85" font-style="italic" font-family='"Liberation Sans", sans-serif' fill="#222">RYR2</text>
<text x="170.4" y="235.0" font-size="4.7" text-anchor="middle" font-family='"Liberation Sans", sans-serif' fill="#333" >107</text>
<text x="202.9" y="235.0" font-size="4.7" text-anchor="middle" font-family='"Liberation Sans", sans-serif' fill="#333" >79</text>
<text x="236.6" y="235.0" font-size="4.5" text-anchor="middle" font-family='"Liberation Sans", sans-serif' fill="#333" >0.614</text>
<rect x="271.4" y="232.5" width="3.3" height="0.95" fill="#4a4a4a"/>
<line x1="27.9" y1="239.6" x2="43.9" y2="239.6" stroke="#d9809a" stroke-width="0.8"/>
<rect x="33.1" y="238.7" width="1.8" height="1.8" fill="#1a1a1a"/>
<text x="128.9" y="241.3" font-size="4.85" font-style="italic" font-family='"Liberation Sans", sans-serif' fill="#222">DNAH5</text>
<text x="170.4" y="241.1" font-size="4.7" text-anchor="middle" font-family='"Liberation Sans", sans-serif' fill="#333" >42</text>
<text x="202.9" y="241.1" font-size="4.7" text-anchor="middle" font-family='"Liberation Sans", sans-serif' fill="#333" >23</text>
<text x="236.6" y="241.1" font-size="4.5" text-anchor="middle" font-family='"Liberation Sans", sans-serif' fill="#333" >0.5</text>
<rect x="271.4" y="238.6" width="1.4" height="0.95" fill="#4a4a4a"/>
<line x1="26.6" y1="245.6" x2="43.4" y2="245.6" stroke="#d9809a" stroke-width="0.8"/>
<rect x="31.4" y="244.7" width="1.8" height="1.8" fill="#1a1a1a"/>
<text x="128.9" y="247.4" font-size="4.85" font-style="italic" font-family='"Liberation Sans", sans-serif' fill="#222">SLITRK3</text>
<text x="170.4" y="247.1" font-size="4.7" text-anchor="middle" font-family='"Liberation Sans", sans-serif' fill="#333" >30</text>
<text x="202.9" y="247.1" font-size="4.7" text-anchor="middle" font-family='"Liberation Sans", sans-serif' fill="#333" >14</text>
<text x="236.6" y="247.1" font-size="4.5" text-anchor="middle" font-family='"Liberation Sans", sans-serif' fill="#333" >0.434</text>
<rect x="271.4" y="244.6" width="1.4" height="0.95" fill="#4a4a4a"/>
<line x1="49.7" y1="251.6" x2="103.8" y2="251.6" stroke="#6d8fd6" stroke-width="0.8"/>
<path d="M101.6,250.3 L104.1,251.6 L101.6,252.9" fill="none" stroke="#6d8fd6" stroke-width="0.6"/>
<rect x="70.3" y="250.7" width="1.8" height="1.8" fill="#1a1a1a"/>
<text x="128.9" y="253.4" font-size="4.85" font-style="italic" font-family='"Liberation Sans", sans-serif' fill="#222">FLG2</text>
<text x="170.4" y="253.1" font-size="4.7" text-anchor="middle" font-family='"Liberation Sans", sans-serif' fill="#333" >25</text>
<text x="202.9" y="253.1" font-size="4.7" text-anchor="middle" font-family='"Liberation Sans", sans-serif' fill="#333" >45</text>
<text x="236.6" y="253.1" font-size="4.5" text-anchor="middle" font-family='"Liberation Sans", sans-serif' fill="#333" >1.963</text>
<rect x="271.4" y="250.6" width="1.4" height="0.95" fill="#4a4a4a"/>
<line x1="27.4" y1="257.7" x2="44.4" y2="257.7" stroke="#d9809a" stroke-width="0.8"/>
<rect x="32.2" y="256.8" width="1.8" height="1.8" fill="#1a1a1a"/>
<text x="128.9" y="259.4" font-size="4.85" font-style="italic" font-family='"Liberation Sans", sans-serif' fill="#222">CDH18</text>
<text x="170.4" y="259.2" font-size="4.7" text-anchor="middle" font-family='"Liberation Sans", sans-serif' fill="#333" >32</text>
<text x="202.9" y="259.2" font-size="4.7" text-anchor="middle" font-family='"Liberation Sans", sans-serif' fill="#333" >16</text>
<text x="236.6" y="259.2" font-size="4.5" text-anchor="middle" font-family='"Liberation Sans", sans-serif' fill="#333" >0.465</text>
<rect x="271.4" y="256.7" width="1.4" height="0.95" fill="#4a4a4a"/>
<line x1="27.4" y1="263.7" x2="44.4" y2="263.7" stroke="#d9809a" stroke-width="0.8"/>
<rect x="32.2" y="262.8" width="1.8" height="1.8" fill="#1a1a1a"/>
<text x="128.9" y="265.4" font-size="4.85" font-style="italic" font-family='"Liberation Sans", sans-serif' fill="#222">COL19A1</text>
<text x="170.4" y="265.2" font-size="4.7" text-anchor="middle" font-family='"Liberation Sans", sans-serif' fill="#333" >32</text>
<text x="202.9" y="265.2" font-size="4.7" text-anchor="middle" font-family='"Liberation Sans", sans-serif' fill="#333" >16</text>
<text x="236.6" y="265.2" font-size="4.5" text-anchor="middle" font-family='"Liberation Sans", sans-serif' fill="#333" >0.465</text>
<rect x="271.4" y="262.7" width="1.4" height="0.95" fill="#4a4a4a"/>
<line x1="27.6" y1="269.7" x2="44.9" y2="269.7" stroke="#d9809a" stroke-width="0.8"/>
<rect x="32.5" y="268.8" width="1.8" height="1.8" fill="#1a1a1a"/>
<text x="128.9" y="271.5" font-size="4.85" font-style="italic" font-family='"Liberation Sans", sans-serif' fill="#222">ASTN2</text>
<text x="170.4" y="271.2" font-size="4.7" text-anchor="middle" font-family='"Liberation Sans", sans-serif' fill="#333" >33</text>
<text x="202.9" y="271.2" font-size="4.7" text-anchor="middle" font-family='"Liberation Sans", sans-serif' fill="#333" >17</text>
<text x="236.6" y="271.2" font-size="4.5" text-anchor="middle" font-family='"Liberation Sans", sans-serif' fill="#333" >0.478</text>
<rect x="271.4" y="268.7" width="1.4" height="0.95" fill="#4a4a4a"/>
<line x1="27.6" y1="275.8" x2="44.9" y2="275.8" stroke="#d9809a" stroke-width="0.8"/>
<rect x="32.5" y="274.9" width="1.8" height="1.8" fill="#1a1a1a"/>
<text x="128.9" y="277.5" font-size="4.85" font-style="italic" font-family='"Liberation Sans", sans-serif' fill="#222">KCNT2</text>
<text x="170.4" y="277.2" font-size="4.7" text-anchor="middle" font-family='"Liberation Sans", sans-serif' fill="#333" >33</text>
<text x="202.9" y="277.2" font-size="4.7" text-anchor="middle" font-family='"Liberation Sans", sans-serif' fill="#333" >17</text>
<text x="236.6" y="277.2" font-size="4.5" text-anchor="middle" font-family='"Liberation Sans", sans-serif' fill="#333" >0.478</text>
<rect x="271.4" y="274.8" width="1.4" height="0.95" fill="#4a4a4a"/>
<line x1="28.7" y1="281.8" x2="45.7" y2="281.8" stroke="#d9809a" stroke-width="0.8"/>
<rect x="33.6" y="280.9" width="1.8" height="1.8" fill="#1a1a1a"/>
<text x="128.9" y="283.5" font-size="4.85" font-style="italic" font-family='"Liberation Sans", sans-serif' fill="#222">PRUNE2</text>
<text x="170.4" y="283.3" font-size="4.7" text-anchor="middle" font-family='"Liberation Sans", sans-serif' fill="#333" >39</text>
<text x="202.9" y="283.3" font-size="4.7" text-anchor="middle" font-family='"Liberation Sans", sans-serif' fill="#333" >22</text>
<text x="236.6" y="283.3" font-size="4.5" text-anchor="middle" font-family='"Liberation Sans", sans-serif' fill="#333" >0.52</text>
<rect x="271.4" y="280.8" width="1.4" height="0.95" fill="#4a4a4a"/>
<line x1="30.4" y1="287.8" x2="46.7" y2="287.8" stroke="#d9809a" stroke-width="0.8"/>
<rect x="35.9" y="286.9" width="1.8" height="1.8" fill="#1a1a1a"/>
<text x="128.9" y="289.6" font-size="4.85" font-style="italic" font-family='"Liberation Sans", sans-serif' fill="#222">COL11A1</text>
<text x="170.4" y="289.3" font-size="4.7" text-anchor="middle" font-family='"Liberation Sans", sans-serif' fill="#333" >62</text>
<text x="202.9" y="289.3" font-size="4.7" text-anchor="middle" font-family='"Liberation Sans", sans-serif' fill="#333" >42</text>
<text x="236.6" y="289.3" font-size="4.5" text-anchor="middle" font-family='"Liberation Sans", sans-serif' fill="#333" >0.61</text>
<rect x="271.4" y="286.8" width="1.4" height="0.95" fill="#4a4a4a"/>
<line x1="29.2" y1="293.8" x2="46.7" y2="293.8" stroke="#d9809a" stroke-width="0.8"/>
<rect x="34.5" y="292.9" width="1.8" height="1.8" fill="#1a1a1a"/>
<text x="128.9" y="295.6" font-size="4.85" font-style="italic" font-family='"Liberation Sans", sans-serif' fill="#222">ASXL3</text>
<text x="170.4" y="295.3" font-size="4.7" text-anchor="middle" font-family='"Liberation Sans", sans-serif' fill="#333" >43</text>
<text x="202.9" y="295.3" font-size="4.7" text-anchor="middle" font-family='"Liberation Sans", sans-serif' fill="#333" >26</text>
<text x="236.6" y="295.3" font-size="4.5" text-anchor="middle" font-family='"Liberation Sans", sans-serif' fill="#333" >0.557</text>
<rect x="271.4" y="292.8" width="1.4" height="0.95" fill="#4a4a4a"/>
<line x1="28.7" y1="299.9" x2="46.7" y2="299.9" stroke="#d9809a" stroke-width="0.8"/>
<rect x="34.3" y="299.0" width="1.8" height="1.8" fill="#1a1a1a"/>
<text x="128.9" y="301.6" font-size="4.85" font-style="italic" font-family='"Liberation Sans", sans-serif' fill="#222">CNTNAP2</text>
<text x="170.4" y="301.4" font-size="4.7" text-anchor="middle" font-family='"Liberation Sans", sans-serif' fill="#333" >39</text>
<text x="202.9" y="301.4" font-size="4.7" text-anchor="middle" font-family='"Liberation Sans", sans-serif' fill="#333" >23</text>
<text x="236.6" y="301.4" font-size="4.5" text-anchor="middle" font-family='"Liberation Sans", sans-serif' fill="#333" >0.546</text>
<rect x="271.4" y="298.9" width="1.4" height="0.95" fill="#4a4a4a"/>
<line x1="46.7" y1="305.9" x2="103.8" y2="305.9" stroke="#6d8fd6" stroke-width="0.8"/>
<path d="M101.6,304.6 L104.1,305.9 L101.6,307.2" fill="none" stroke="#6d8fd6" stroke-width="0.6"/>
<rect x="65.0" y="305.0" width="1.8" height="1.8" fill="#1a1a1a"/>
<text x="128.9" y="307.7" font-size="4.85" font-style="italic" font-family='"Liberation Sans", sans-serif' fill="#222">TSHZ3</text>
<text x="170.4" y="307.4" font-size="4.7" text-anchor="middle" font-family='"Liberation Sans", sans-serif' fill="#333" >25</text>
<text x="202.9" y="307.4" font-size="4.7" text-anchor="middle" font-family='"Liberation Sans", sans-serif' fill="#333" >41</text>
<text x="236.6" y="307.4" font-size="4.5" text-anchor="middle" font-family='"Liberation Sans", sans-serif' fill="#333" >1.755</text>
<rect x="271.4" y="304.9" width="1.4" height="0.95" fill="#4a4a4a"/>
<line x1="29.2" y1="311.9" x2="47.2" y2="311.9" stroke="#d9809a" stroke-width="0.8"/>
<rect x="34.7" y="311.0" width="1.8" height="1.8" fill="#1a1a1a"/>
<text x="128.9" y="313.7" font-size="4.85" font-style="italic" font-family='"Liberation Sans", sans-serif' fill="#222">TPTE</text>
<text x="170.4" y="313.4" font-size="4.7" text-anchor="middle" font-family='"Liberation Sans", sans-serif' fill="#333" >35</text>
<text x="202.9" y="313.4" font-size="4.7" text-anchor="middle" font-family='"Liberation Sans", sans-serif' fill="#333" >21</text>
<text x="236.6" y="313.4" font-size="4.5" text-anchor="middle" font-family='"Liberation Sans", sans-serif' fill="#333" >0.562</text>
<rect x="271.4" y="310.9" width="1.4" height="0.95" fill="#4a4a4a"/>
<line x1="29.7" y1="318.0" x2="47.2" y2="318.0" stroke="#d9809a" stroke-width="0.8"/>
<rect x="35.9" y="317.1" width="1.8" height="1.8" fill="#1a1a1a"/>
<text x="128.9" y="319.7" font-size="4.85" font-style="italic" font-family='"Liberation Sans", sans-serif' fill="#222">CACNA1E</text>
<text x="170.4" y="319.5" font-size="4.7" text-anchor="middle" font-family='"Liberation Sans", sans-serif' fill="#333" >47</text>
<text x="202.9" y="319.5" font-size="4.7" text-anchor="middle" font-family='"Liberation Sans", sans-serif' fill="#333" >31</text>
<text x="236.6" y="319.5" font-size="4.5" text-anchor="middle" font-family='"Liberation Sans", sans-serif' fill="#333" >0.609</text>
<rect x="271.4" y="317.0" width="1.4" height="0.95" fill="#4a4a4a"/>
<line x1="21.3" y1="321.2" x2="97.5" y2="321.2" stroke="#555" stroke-width="0.6"/>
<line x1="21.3" y1="321.2" x2="21.3" y2="322.7" stroke="#555" stroke-width="0.5"/>
<text x="21.3" y="329.5" font-size="5.4" text-anchor="middle" font-family='"Liberation Sans", sans-serif' fill="#333" >0</text>
<line x1="46.7" y1="321.2" x2="46.7" y2="322.7" stroke="#555" stroke-width="0.5"/>
<text x="46.7" y="329.5" font-size="5.4" text-anchor="middle" font-family='"Liberation Sans", sans-serif' fill="#333" >1</text>
<line x1="72.1" y1="321.2" x2="72.1" y2="322.7" stroke="#555" stroke-width="0.5"/>
<text x="72.1" y="329.5" font-size="5.4" text-anchor="middle" font-family='"Liberation Sans", sans-serif' fill="#333" >2</text>
<line x1="97.5" y1="321.2" x2="97.5" y2="322.7" stroke="#555" stroke-width="0.5"/>
<text x="97.5" y="329.5" font-size="5.4" text-anchor="middle" font-family='"Liberation Sans", sans-serif' fill="#333" >3</text>
<text x="48.4" y="337.6" font-size="5.6" text-anchor="middle" font-family='"Liberation Serif", serif' fill="#333" >Odd Ratio</text>
<line x1="160.9" y1="335.8" x2="166.7" y2="335.8" stroke="#5b7fd0" stroke-width="0.9"/>
<rect x="163" y="334.9" width="1.8" height="1.8" fill="#2a3f80"/>
<text x="168.5" y="337.9" font-size="6.2" text-anchor="start" font-family='"Liberation Serif", serif' fill="#333" >Low ICDrisk</text>
<line x1="205" y1="335.8" x2="212.5" y2="335.8" stroke="#d8708e" stroke-width="0.9"/>
<rect x="208" y="334.9" width="1.8" height="1.8" fill="#80203a"/>
<text x="215.0" y="337.9" font-size="6.2" text-anchor="start" font-family='"Liberation Serif", serif' fill="#333" >High ICDrisk</text>
<rect x="347.80" y="187.80" width="5.53" height="5.73" fill="#7fc268"/>
<circle cx="350.59" cy="190.69" r="0.55" fill="#555"/>
<rect x="353.68" y="187.80" width="5.53" height="5.73" fill="#58ad4c"/>
<rect x="354.58" y="188.70" width="3.73" height="3.93" fill="#3a9035"/>
<text x="356.47" y="192.29" font-size="4.6" text-anchor="middle" font-family='"Liberation Sans", sans-serif' fill="#111">★</text>
<rect x="359.56" y="187.80" width="5.53" height="5.73" fill="#9dd184"/>
<circle cx="362.35" cy="190.69" r="0.55" fill="#555"/>
<rect x="365.44" y="187.80" width="5.53" height="5.73" fill="#58ad4c"/>
<rect x="366.34" y="188.70" width="3.73" height="3.93" fill="#3a9035"/>
<text x="368.23" y="192.29" font-size="4.6" text-anchor="middle" font-family='"Liberation Sans", sans-serif' fill="#111">★</text>
<rect x="371.32" y="187.80" width="5.53" height="5.73" fill="#58ad4c"/>
<rect x="372.22" y="188.70" width="3.73" height="3.93" fill="#3a9035"/>
<text x="374.11" y="192.29" font-size="4.6" text-anchor="middle" font-family='"Liberation Sans", sans-serif' fill="#111">★</text>
<rect x="377.20" y="187.80" width="5.53" height="5.73" fill="#f6f8f5"/>
<rect x="383.08" y="187.80" width="5.53" height="5.73" fill="#e4f3dc"/>
<rect x="388.96" y="187.80" width="5.53" height="5.73" fill="#9dd184"/>
<circle cx="391.75" cy="190.69" r="0.55" fill="#555"/>
<rect x="394.84" y="187.80" width="5.53" height="5.73" fill="#58ad4c"/>
<rect x="395.74" y="188.70" width="3.73" height="3.93" fill="#3a9035"/>
<text x="397.63" y="192.29" font-size="4.6" text-anchor="middle" font-family='"Liberation Sans", sans-serif' fill="#111">★</text>
<rect x="400.72" y="187.80" width="5.53" height="5.73" fill="#58ad4c"/>
<rect x="401.62" y="188.70" width="3.73" height="3.93" fill="#3a9035"/>
<text x="403.51" y="192.29" font-size="4.6" text-anchor="middle" font-family='"Liberation Sans", sans-serif' fill="#111">★</text>
<rect x="406.60" y="187.80" width="5.53" height="5.73" fill="#7fc268"/>
<circle cx="409.39" cy="190.69" r="0.55" fill="#555"/>
<rect x="412.48" y="187.80" width="5.53" height="5.73" fill="#e4f3dc"/>
<rect x="418.36" y="187.80" width="5.53" height="5.73" fill="#9dd184"/>
<circle cx="421.15" cy="190.69" r="0.55" fill="#555"/>
<rect x="424.24" y="187.80" width="5.53" height="5.73" fill="#58ad4c"/>
<rect x="425.14" y="188.70" width="3.73" height="3.93" fill="#3a9035"/>
<text x="427.03" y="192.29" font-size="4.6" text-anchor="middle" font-family='"Liberation Sans", sans-serif' fill="#111">★</text>
<rect x="430.12" y="187.80" width="5.53" height="5.73" fill="#58ad4c"/>
<rect x="431.02" y="188.70" width="3.73" height="3.93" fill="#3a9035"/>
<text x="432.91" y="192.29" font-size="4.6" text-anchor="middle" font-family='"Liberation Sans", sans-serif' fill="#111">★</text>
<rect x="436.00" y="187.80" width="5.53" height="5.73" fill="#e4f3dc"/>
<rect x="441.88" y="187.80" width="5.53" height="5.73" fill="#c9e8b9"/>
<rect x="447.76" y="187.80" width="5.53" height="5.73" fill="#9dd184"/>
<circle cx="450.55" cy="190.69" r="0.55" fill="#555"/>
<rect x="453.64" y="187.80" width="5.53" height="5.73" fill="#9dd184"/>
<circle cx="456.43" cy="190.69" r="0.55" fill="#555"/>
<rect x="459.52" y="187.80" width="5.53" height="5.73" fill="#e4f3dc"/>
<rect x="465.40" y="187.80" width="5.53" height="5.73" fill="#e4f3dc"/>
<rect x="471.28" y="187.80" width="5.53" height="5.73" fill="#c9e8b9"/>
<rect x="347.80" y="193.88" width="5.53" height="5.73" fill="#58ad4c"/>
<rect x="348.70" y="194.78" width="3.73" height="3.93" fill="#3a9035"/>
<text x="350.59" y="198.37" font-size="4.6" text-anchor="middle" font-family='"Liberation Sans", sans-serif' fill="#111">★</text>
<rect x="353.68" y="193.88" width="5.53" height="5.73" fill="#58ad4c"/>
<rect x="354.58" y="194.78" width="3.73" height="3.93" fill="#3a9035"/>
<text x="356.47" y="198.37" font-size="4.6" text-anchor="middle" font-family='"Liberation Sans", sans-serif' fill="#111">★</text>
<rect x="359.56" y="193.88" width="5.53" height="5.73" fill="#9dd184"/>
<circle cx="362.35" cy="196.77" r="0.55" fill="#555"/>
<rect x="365.44" y="193.88" width="5.53" height="5.73" fill="#c9e8b9"/>
<rect x="371.32" y="193.88" width="5.53" height="5.73" fill="#9dd184"/>
<circle cx="374.11" cy="196.77" r="0.55" fill="#555"/>
<rect x="377.20" y="193.88" width="5.53" height="5.73" fill="#c9e8b9"/>
<rect x="383.08" y="193.88" width="5.53" height="5.73" fill="#f6f8f5"/>
<rect x="388.96" y="193.88" width="5.53" height="5.73" fill="#9dd184"/>
<circle cx="391.75" cy="196.77" r="0.55" fill="#555"/>
<rect x="394.84" y="193.88" width="5.53" height="5.73" fill="#c9e8b9"/>
<rect x="400.72" y="193.88" width="5.53" height="5.73" fill="#c9e8b9"/>
<rect x="406.60" y="193.88" width="5.53" height="5.73" fill="#f6f8f5"/>
<rect x="412.48" y="193.88" width="5.53" height="5.73" fill="#c9e8b9"/>
<rect x="418.36" y="193.88" width="5.53" height="5.73" fill="#f6dcea"/>
<rect x="424.24" y="193.88" width="5.53" height="5.73" fill="#c9e8b9"/>
<rect x="430.12" y="193.88" width="5.53" height="5.73" fill="#f6f8f5"/>
<rect x="436.00" y="193.88" width="5.53" height="5.73" fill="#c9e8b9"/>
<rect x="441.88" y="193.88" width="5.53" height="5.73" fill="#7fc268"/>
<circle cx="444.67" cy="196.77" r="0.55" fill="#555"/>
<rect x="447.76" y="193.88" width="5.53" height="5.73" fill="#e4f3dc"/>
<rect x="453.64" y="193.88" width="5.53" height="5.73" fill="#9dd184"/>
<circle cx="456.43" cy="196.77" r="0.55" fill="#555"/>
<rect x="459.52" y="193.88" width="5.53" height="5.73" fill="#c9e8b9"/>
<rect x="465.40" y="193.88" width="5.53" height="5.73" fill="#e4f3dc"/>
<rect x="347.80" y="199.96" width="5.53" height="5.73" fill="#9dd184"/>
<circle cx="350.59" cy="202.85" r="0.55" fill="#555"/>
<rect x="353.68" y="199.96" width="5.53" height="5.73" fill="#58ad4c"/>
<rect x="354.58" y="200.86" width="3.73" height="3.93" fill="#3a9035"/>
<text x="356.47" y="204.45" font-size="4.6" text-anchor="middle" font-family='"Liberation Sans", sans-serif' fill="#111">★</text>
<rect x="359.56" y="199.96" width="5.53" height="5.73" fill="#7fc268"/>
<circle cx="362.35" cy="202.85" r="0.55" fill="#555"/>
<rect x="365.44" y="199.96" width="5.53" height="5.73" fill="#58ad4c"/>
<rect x="366.34" y="200.86" width="3.73" height="3.93" fill="#3a9035"/>
<text x="368.23" y="204.45" font-size="4.6" text-anchor="middle" font-family='"Liberation Sans", sans-serif' fill="#111">★</text>
<rect x="371.32" y="199.96" width="5.53" height="5.73" fill="#c9e8b9"/>
<rect x="377.20" y="199.96" width="5.53" height="5.73" fill="#c9e8b9"/>
<rect x="383.08" y="199.96" width="5.53" height="5.73" fill="#9dd184"/>
<circle cx="385.87" cy="202.85" r="0.55" fill="#555"/>
<rect x="388.96" y="199.96" width="5.53" height="5.73" fill="#7fc268"/>
<circle cx="391.75" cy="202.85" r="0.55" fill="#555"/>
<rect x="394.84" y="199.96" width="5.53" height="5.73" fill="#f6f8f5"/>
<rect x="400.72" y="199.96" width="5.53" height="5.73" fill="#e4f3dc"/>
<rect x="406.60" y="199.96" width="5.53" height="5.73" fill="#58ad4c"/>
<rect x="407.50" y="200.86" width="3.73" height="3.93" fill="#3a9035"/>
<text x="409.39" y="204.45" font-size="4.6" text-anchor="middle" font-family='"Liberation Sans", sans-serif' fill="#111">★</text>
<rect x="412.48" y="199.96" width="5.53" height="5.73" fill="#f6f8f5"/>
<rect x="418.36" y="199.96" width="5.53" height="5.73" fill="#c9e8b9"/>
<rect x="424.24" y="199.96" width="5.53" height="5.73" fill="#9dd184"/>
<circle cx="427.03" cy="202.85" r="0.55" fill="#555"/>
<rect x="430.12" y="199.96" width="5.53" height="5.73" fill="#58ad4c"/>
<rect x="431.02" y="200.86" width="3.73" height="3.93" fill="#3a9035"/>
<text x="432.91" y="204.45" font-size="4.6" text-anchor="middle" font-family='"Liberation Sans", sans-serif' fill="#111">★</text>
<rect x="436.00" y="199.96" width="5.53" height="5.73" fill="#c9e8b9"/>
<rect x="441.88" y="199.96" width="5.53" height="5.73" fill="#c9e8b9"/>
<rect x="447.76" y="199.96" width="5.53" height="5.73" fill="#7fc268"/>
<circle cx="450.55" cy="202.85" r="0.55" fill="#555"/>
<rect x="453.64" y="199.96" width="5.53" height="5.73" fill="#9dd184"/>
<circle cx="456.43" cy="202.85" r="0.55" fill="#555"/>
<rect x="459.52" y="199.96" width="5.53" height="5.73" fill="#c9e8b9"/>
<rect x="347.80" y="206.04" width="5.53" height="5.73" fill="#58ad4c"/>
<rect x="348.70" y="206.94" width="3.73" height="3.93" fill="#3a9035"/>
<text x="350.59" y="210.53" font-size="4.6" text-anchor="middle" font-family='"Liberation Sans", sans-serif' fill="#111">★</text>
<rect x="353.68" y="206.04" width="5.53" height="5.73" fill="#9dd184"/>
<circle cx="356.47" cy="208.93" r="0.55" fill="#555"/>
<rect x="359.56" y="206.04" width="5.53" height="5.73" fill="#f6f8f5"/>
<rect x="365.44" y="206.04" width="5.53" height="5.73" fill="#7fc268"/>
<circle cx="368.23" cy="208.93" r="0.55" fill="#555"/>
<rect x="371.32" y="206.04" width="5.53" height="5.73" fill="#58ad4c"/>
<rect x="372.22" y="206.94" width="3.73" height="3.93" fill="#3a9035"/>
<text x="374.11" y="210.53" font-size="4.6" text-anchor="middle" font-family='"Liberation Sans", sans-serif' fill="#111">★</text>
<rect x="377.20" y="206.04" width="5.53" height="5.73" fill="#e4f3dc"/>
<rect x="383.08" y="206.04" width="5.53" height="5.73" fill="#f6f8f5"/>
<rect x="388.96" y="206.04" width="5.53" height="5.73" fill="#58ad4c"/>
<rect x="389.86" y="206.94" width="3.73" height="3.93" fill="#3a9035"/>
<text x="391.75" y="210.53" font-size="4.6" text-anchor="middle" font-family='"Liberation Sans", sans-serif' fill="#111">★</text>
<rect x="394.84" y="206.04" width="5.53" height="5.73" fill="#f6f8f5"/>
<rect x="400.72" y="206.04" width="5.53" height="5.73" fill="#9dd184"/>
<circle cx="403.51" cy="208.93" r="0.55" fill="#555"/>
<rect x="406.60" y="206.04" width="5.53" height="5.73" fill="#58ad4c"/>
<rect x="407.50" y="206.94" width="3.73" height="3.93" fill="#3a9035"/>
<text x="409.39" y="210.53" font-size="4.6" text-anchor="middle" font-family='"Liberation Sans", sans-serif' fill="#111">★</text>
<rect x="412.48" y="206.04" width="5.53" height="5.73" fill="#9dd184"/>
<circle cx="415.27" cy="208.93" r="0.55" fill="#555"/>
<rect x="418.36" y="206.04" width="5.53" height="5.73" fill="#e4f3dc"/>
<rect x="424.24" y="206.04" width="5.53" height="5.73" fill="#7fc268"/>
<circle cx="427.03" cy="208.93" r="0.55" fill="#555"/>
<rect x="430.12" y="206.04" width="5.53" height="5.73" fill="#9dd184"/>
<circle cx="432.91" cy="208.93" r="0.55" fill="#555"/>
<rect x="436.00" y="206.04" width="5.53" height="5.73" fill="#9dd184"/>
<circle cx="438.79" cy="208.93" r="0.55" fill="#555"/>
<rect x="441.88" y="206.04" width="5.53" height="5.73" fill="#58ad4c"/>
<rect x="442.78" y="206.94" width="3.73" height="3.93" fill="#3a9035"/>
<text x="444.67" y="210.53" font-size="4.6" text-anchor="middle" font-family='"Liberation Sans", sans-serif' fill="#111">★</text>
<rect x="447.76" y="206.04" width="5.53" height="5.73" fill="#c9e8b9"/>
<rect x="453.64" y="206.04" width="5.53" height="5.73" fill="#c9e8b9"/>
<rect x="347.80" y="212.12" width="5.53" height="5.73" fill="#58ad4c"/>
<rect x="348.70" y="213.02" width="3.73" height="3.93" fill="#3a9035"/>
<text x="350.59" y="216.61" font-size="4.6" text-anchor="middle" font-family='"Liberation Sans", sans-serif' fill="#111">★</text>
<rect x="353.68" y="212.12" width="5.53" height="5.73" fill="#58ad4c"/>
<rect x="354.58" y="213.02" width="3.73" height="3.93" fill="#3a9035"/>
<text x="356.47" y="216.61" font-size="4.6" text-anchor="middle" font-family='"Liberation Sans", sans-serif' fill="#111">★</text>
<rect x="359.56" y="212.12" width="5.53" height="5.73" fill="#c9e8b9"/>
<rect x="365.44" y="212.12" width="5.53" height="5.73" fill="#58ad4c"/>
<rect x="366.34" y="213.02" width="3.73" height="3.93" fill="#3a9035"/>
<text x="368.23" y="216.61" font-size="4.6" text-anchor="middle" font-family='"Liberation Sans", sans-serif' fill="#111">★</text>
<rect x="371.32" y="212.12" width="5.53" height="5.73" fill="#58ad4c"/>
<rect x="372.22" y="213.02" width="3.73" height="3.93" fill="#3a9035"/>
<text x="374.11" y="216.61" font-size="4.6" text-anchor="middle" font-family='"Liberation Sans", sans-serif' fill="#111">★</text>
<rect x="377.20" y="212.12" width="5.53" height="5.73" fill="#e4f3dc"/>
<rect x="383.08" y="212.12" width="5.53" height="5.73" fill="#9dd184"/>
<circle cx="385.87" cy="215.01" r="0.55" fill="#555"/>
<rect x="388.96" y="212.12" width="5.53" height="5.73" fill="#9dd184"/>
<circle cx="391.75" cy="215.01" r="0.55" fill="#555"/>
<rect x="394.84" y="212.12" width="5.53" height="5.73" fill="#e4f3dc"/>
<rect x="400.72" y="212.12" width="5.53" height="5.73" fill="#e4f3dc"/>
<rect x="406.60" y="212.12" width="5.53" height="5.73" fill="#c9e8b9"/>
<rect x="412.48" y="212.12" width="5.53" height="5.73" fill="#f6f8f5"/>
<rect x="418.36" y="212.12" width="5.53" height="5.73" fill="#f6f8f5"/>
<rect x="424.24" y="212.12" width="5.53" height="5.73" fill="#f6f8f5"/>
<rect x="430.12" y="212.12" width="5.53" height="5.73" fill="#58ad4c"/>
<rect x="431.02" y="213.02" width="3.73" height="3.93" fill="#3a9035"/>
<text x="432.91" y="216.61" font-size="4.6" text-anchor="middle" font-family='"Liberation Sans", sans-serif' fill="#111">★</text>
<rect x="436.00" y="212.12" width="5.53" height="5.73" fill="#e4f3dc"/>
<rect x="441.88" y="212.12" width="5.53" height="5.73" fill="#e4f3dc"/>
<rect x="447.76" y="212.12" width="5.53" height="5.73" fill="#9dd184"/>
<circle cx="450.55" cy="215.01" r="0.55" fill="#555"/>
<rect x="347.80" y="218.20" width="5.53" height="5.73" fill="#58ad4c"/>
<rect x="348.70" y="219.10" width="3.73" height="3.93" fill="#3a9035"/>
<text x="350.59" y="222.69" font-size="4.6" text-anchor="middle" font-family='"Liberation Sans", sans-serif' fill="#111">★</text>
<rect x="353.68" y="218.20" width="5.53" height="5.73" fill="#58ad4c"/>
<rect x="354.58" y="219.10" width="3.73" height="3.93" fill="#3a9035"/>
<text x="356.47" y="222.69" font-size="4.6" text-anchor="middle" font-family='"Liberation Sans", sans-serif' fill="#111">★</text>
<rect x="359.56" y="218.20" width="5.53" height="5.73" fill="#f6f8f5"/>
<rect x="365.44" y="218.20" width="5.53" height="5.73" fill="#58ad4c"/>
<rect x="366.34" y="219.10" width="3.73" height="3.93" fill="#3a9035"/>
<text x="368.23" y="222.69" font-size="4.6" text-anchor="middle" font-family='"Liberation Sans", sans-serif' fill="#111">★</text>
<rect x="371.32" y="218.20" width="5.53" height="5.73" fill="#58ad4c"/>
<rect x="372.22" y="219.10" width="3.73" height="3.93" fill="#3a9035"/>
<text x="374.11" y="222.69" font-size="4.6" text-anchor="middle" font-family='"Liberation Sans", sans-serif' fill="#111">★</text>
<rect x="377.20" y="218.20" width="5.53" height="5.73" fill="#58ad4c"/>
<rect x="378.10" y="219.10" width="3.73" height="3.93" fill="#3a9035"/>
<text x="379.99" y="222.69" font-size="4.6" text-anchor="middle" font-family='"Liberation Sans", sans-serif' fill="#111">★</text>
<rect x="383.08" y="218.20" width="5.53" height="5.73" fill="#f6f8f5"/>
<rect x="388.96" y="218.20" width="5.53" height="5.73" fill="#58ad4c"/>
<rect x="389.86" y="219.10" width="3.73" height="3.93" fill="#3a9035"/>
<text x="391.75" y="222.69" font-size="4.6" text-anchor="middle" font-family='"Liberation Sans", sans-serif' fill="#111">★</text>
<rect x="394.84" y="218.20" width="5.53" height="5.73" fill="#58ad4c"/>
<rect x="395.74" y="219.10" width="3.73" height="3.93" fill="#3a9035"/>
<text x="397.63" y="222.69" font-size="4.6" text-anchor="middle" font-family='"Liberation Sans", sans-serif' fill="#111">★</text>
<rect x="400.72" y="218.20" width="5.53" height="5.73" fill="#58ad4c"/>
<rect x="401.62" y="219.10" width="3.73" height="3.93" fill="#3a9035"/>
<text x="403.51" y="222.69" font-size="4.6" text-anchor="middle" font-family='"Liberation Sans", sans-serif' fill="#111">★</text>
<rect x="406.60" y="218.20" width="5.53" height="5.73" fill="#58ad4c"/>
<rect x="407.50" y="219.10" width="3.73" height="3.93" fill="#3a9035"/>
<text x="409.39" y="222.69" font-size="4.6" text-anchor="middle" font-family='"Liberation Sans", sans-serif' fill="#111">★</text>
<rect x="412.48" y="218.20" width="5.53" height="5.73" fill="#c9e8b9"/>
<rect x="418.36" y="218.20" width="5.53" height="5.73" fill="#9dd184"/>
<circle cx="421.15" cy="221.09" r="0.55" fill="#555"/>
<rect x="424.24" y="218.20" width="5.53" height="5.73" fill="#58ad4c"/>
<rect x="425.14" y="219.10" width="3.73" height="3.93" fill="#3a9035"/>
<text x="427.03" y="222.69" font-size="4.6" text-anchor="middle" font-family='"Liberation Sans", sans-serif' fill="#111">★</text>
<rect x="430.12" y="218.20" width="5.53" height="5.73" fill="#58ad4c"/>
<rect x="431.02" y="219.10" width="3.73" height="3.93" fill="#3a9035"/>
<text x="432.91" y="222.69" font-size="4.6" text-anchor="middle" font-family='"Liberation Sans", sans-serif' fill="#111">★</text>
<rect x="436.00" y="218.20" width="5.53" height="5.73" fill="#58ad4c"/>
<rect x="436.90" y="219.10" width="3.73" height="3.93" fill="#3a9035"/>
<text x="438.79" y="222.69" font-size="4.6" text-anchor="middle" font-family='"Liberation Sans", sans-serif' fill="#111">★</text>
<rect x="441.88" y="218.20" width="5.53" height="5.73" fill="#58ad4c"/>
<rect x="442.78" y="219.10" width="3.73" height="3.93" fill="#3a9035"/>
<text x="444.67" y="222.69" font-size="4.6" text-anchor="middle" font-family='"Liberation Sans", sans-serif' fill="#111">★</text>
<rect x="347.80" y="224.28" width="5.53" height="5.73" fill="#58ad4c"/>
<rect x="348.70" y="225.18" width="3.73" height="3.93" fill="#3a9035"/>
<text x="350.59" y="228.77" font-size="4.6" text-anchor="middle" font-family='"Liberation Sans", sans-serif' fill="#111">★</text>
<rect x="353.68" y="224.28" width="5.53" height="5.73" fill="#c9e8b9"/>
<rect x="359.56" y="224.28" width="5.53" height="5.73" fill="#f6f8f5"/>
<rect x="365.44" y="224.28" width="5.53" height="5.73" fill="#58ad4c"/>
<rect x="366.34" y="225.18" width="3.73" height="3.93" fill="#3a9035"/>
<text x="368.23" y="228.77" font-size="4.6" text-anchor="middle" font-family='"Liberation Sans", sans-serif' fill="#111">★</text>
<rect x="371.32" y="224.28" width="5.53" height="5.73" fill="#f6f8f5"/>
<rect x="377.20" y="224.28" width="5.53" height="5.73" fill="#9dd184"/>
<circle cx="379.99" cy="227.17" r="0.55" fill="#555"/>
<rect x="383.08" y="224.28" width="5.53" height="5.73" fill="#c9e8b9"/>
<rect x="388.96" y="224.28" width="5.53" height="5.73" fill="#58ad4c"/>
<rect x="389.86" y="225.18" width="3.73" height="3.93" fill="#3a9035"/>
<text x="391.75" y="228.77" font-size="4.6" text-anchor="middle" font-family='"Liberation Sans", sans-serif' fill="#111">★</text>
<rect x="394.84" y="224.28" width="5.53" height="5.73" fill="#9dd184"/>
<circle cx="397.63" cy="227.17" r="0.55" fill="#555"/>
<rect x="400.72" y="224.28" width="5.53" height="5.73" fill="#58ad4c"/>
<rect x="401.62" y="225.18" width="3.73" height="3.93" fill="#3a9035"/>
<text x="403.51" y="228.77" font-size="4.6" text-anchor="middle" font-family='"Liberation Sans", sans-serif' fill="#111">★</text>
<rect x="406.60" y="224.28" width="5.53" height="5.73" fill="#58ad4c"/>
<rect x="407.50" y="225.18" width="3.73" height="3.93" fill="#3a9035"/>
<text x="409.39" y="228.77" font-size="4.6" text-anchor="middle" font-family='"Liberation Sans", sans-serif' fill="#111">★</text>
<rect x="412.48" y="224.28" width="5.53" height="5.73" fill="#58ad4c"/>
<rect x="413.38" y="225.18" width="3.73" height="3.93" fill="#3a9035"/>
<text x="415.27" y="228.77" font-size="4.6" text-anchor="middle" font-family='"Liberation Sans", sans-serif' fill="#111">★</text>
<rect x="418.36" y="224.28" width="5.53" height="5.73" fill="#58ad4c"/>
<rect x="419.26" y="225.18" width="3.73" height="3.93" fill="#3a9035"/>
<text x="421.15" y="228.77" font-size="4.6" text-anchor="middle" font-family='"Liberation Sans", sans-serif' fill="#111">★</text>
<rect x="424.24" y="224.28" width="5.53" height="5.73" fill="#58ad4c"/>
<rect x="425.14" y="225.18" width="3.73" height="3.93" fill="#3a9035"/>
<text x="427.03" y="228.77" font-size="4.6" text-anchor="middle" font-family='"Liberation Sans", sans-serif' fill="#111">★</text>
<rect x="430.12" y="224.28" width="5.53" height="5.73" fill="#9dd184"/>
<circle cx="432.91" cy="227.17" r="0.55" fill="#555"/>
<rect x="436.00" y="224.28" width="5.53" height="5.73" fill="#58ad4c"/>
<rect x="436.90" y="225.18" width="3.73" height="3.93" fill="#3a9035"/>
<text x="438.79" y="228.77" font-size="4.6" text-anchor="middle" font-family='"Liberation Sans", sans-serif' fill="#111">★</text>
<rect x="347.80" y="230.36" width="5.53" height="5.73" fill="#58ad4c"/>
<rect x="348.70" y="231.26" width="3.73" height="3.93" fill="#3a9035"/>
<text x="350.59" y="234.85" font-size="4.6" text-anchor="middle" font-family='"Liberation Sans", sans-serif' fill="#111">★</text>
<rect x="353.68" y="230.36" width="5.53" height="5.73" fill="#58ad4c"/>
<rect x="354.58" y="231.26" width="3.73" height="3.93" fill="#3a9035"/>
<text x="356.47" y="234.85" font-size="4.6" text-anchor="middle" font-family='"Liberation Sans", sans-serif' fill="#111">★</text>
<rect x="359.56" y="230.36" width="5.53" height="5.73" fill="#f6f8f5"/>
<rect x="365.44" y="230.36" width="5.53" height="5.73" fill="#58ad4c"/>
<rect x="366.34" y="231.26" width="3.73" height="3.93" fill="#3a9035"/>
<text x="368.23" y="234.85" font-size="4.6" text-anchor="middle" font-family='"Liberation Sans", sans-serif' fill="#111">★</text>
<rect x="371.32" y="230.36" width="5.53" height="5.73" fill="#58ad4c"/>
<rect x="372.22" y="231.26" width="3.73" height="3.93" fill="#3a9035"/>
<text x="374.11" y="234.85" font-size="4.6" text-anchor="middle" font-family='"Liberation Sans", sans-serif' fill="#111">★</text>
<rect x="377.20" y="230.36" width="5.53" height="5.73" fill="#e4f3dc"/>
<rect x="383.08" y="230.36" width="5.53" height="5.73" fill="#9dd184"/>
<circle cx="385.87" cy="233.25" r="0.55" fill="#555"/>
<rect x="388.96" y="230.36" width="5.53" height="5.73" fill="#7fc268"/>
<circle cx="391.75" cy="233.25" r="0.55" fill="#555"/>
<rect x="394.84" y="230.36" width="5.53" height="5.73" fill="#e4f3dc"/>
<rect x="400.72" y="230.36" width="5.53" height="5.73" fill="#c9e8b9"/>
<rect x="406.60" y="230.36" width="5.53" height="5.73" fill="#58ad4c"/>
<rect x="407.50" y="231.26" width="3.73" height="3.93" fill="#3a9035"/>
<text x="409.39" y="234.85" font-size="4.6" text-anchor="middle" font-family='"Liberation Sans", sans-serif' fill="#111">★</text>
<rect x="412.48" y="230.36" width="5.53" height="5.73" fill="#9dd184"/>
<circle cx="415.27" cy="233.25" r="0.55" fill="#555"/>
<rect x="418.36" y="230.36" width="5.53" height="5.73" fill="#58ad4c"/>
<rect x="419.26" y="231.26" width="3.73" height="3.93" fill="#3a9035"/>
<text x="421.15" y="234.85" font-size="4.6" text-anchor="middle" font-family='"Liberation Sans", sans-serif' fill="#111">★</text>
<rect x="424.24" y="230.36" width="5.53" height="5.73" fill="#58ad4c"/>
<rect x="425.14" y="231.26" width="3.73" height="3.93" fill="#3a9035"/>
<text x="427.03" y="234.85" font-size="4.6" text-anchor="middle" font-family='"Liberation Sans", sans-serif' fill="#111">★</text>
<rect x="430.12" y="230.36" width="5.53" height="5.73" fill="#9dd184"/>
<circle cx="432.91" cy="233.25" r="0.55" fill="#555"/>
<rect x="347.80" y="236.44" width="5.53" height="5.73" fill="#58ad4c"/>
<rect x="348.70" y="237.34" width="3.73" height="3.93" fill="#3a9035"/>
<text x="350.59" y="240.93" font-size="4.6" text-anchor="middle" font-family='"Liberation Sans", sans-serif' fill="#111">★</text>
<rect x="353.68" y="236.44" width="5.53" height="5.73" fill="#9dd184"/>
<circle cx="356.47" cy="239.33" r="0.55" fill="#555"/>
<rect x="359.56" y="236.44" width="5.53" height="5.73" fill="#f6f8f5"/>
<rect x="365.44" y="236.44" width="5.53" height="5.73" fill="#7fc268"/>
<circle cx="368.23" cy="239.33" r="0.55" fill="#555"/>
<rect x="371.32" y="236.44" width="5.53" height="5.73" fill="#9dd184"/>
<circle cx="374.11" cy="239.33" r="0.55" fill="#555"/>
<rect x="377.20" y="236.44" width="5.53" height="5.73" fill="#e4f3dc"/>
<rect x="383.08" y="236.44" width="5.53" height="5.73" fill="#9dd184"/>
<circle cx="385.87" cy="239.33" r="0.55" fill="#555"/>
<rect x="388.96" y="236.44" width="5.53" height="5.73" fill="#9dd184"/>
<circle cx="391.75" cy="239.33" r="0.55" fill="#555"/>
<rect x="394.84" y="236.44" width="5.53" height="5.73" fill="#e4f3dc"/>
<rect x="400.72" y="236.44" width="5.53" height="5.73" fill="#9dd184"/>
<circle cx="403.51" cy="239.33" r="0.55" fill="#555"/>
<rect x="406.60" y="236.44" width="5.53" height="5.73" fill="#58ad4c"/>
<rect x="407.50" y="237.34" width="3.73" height="3.93" fill="#3a9035"/>
<text x="409.39" y="240.93" font-size="4.6" text-anchor="middle" font-family='"Liberation Sans", sans-serif' fill="#111">★</text>
<rect x="412.48" y="236.44" width="5.53" height="5.73" fill="#f6f8f5"/>
<rect x="418.36" y="236.44" width="5.53" height="5.73" fill="#58ad4c"/>
<rect x="419.26" y="237.34" width="3.73" height="3.93" fill="#3a9035"/>
<text x="421.15" y="240.93" font-size="4.6" text-anchor="middle" font-family='"Liberation Sans", sans-serif' fill="#111">★</text>
<rect x="424.24" y="236.44" width="5.53" height="5.73" fill="#c9e8b9"/>
<rect x="347.80" y="242.52" width="5.53" height="5.73" fill="#58ad4c"/>
<rect x="348.70" y="243.42" width="3.73" height="3.93" fill="#3a9035"/>
<text x="350.59" y="247.01" font-size="4.6" text-anchor="middle" font-family='"Liberation Sans", sans-serif' fill="#111">★</text>
<rect x="353.68" y="242.52" width="5.53" height="5.73" fill="#58ad4c"/>
<rect x="354.58" y="243.42" width="3.73" height="3.93" fill="#3a9035"/>
<text x="356.47" y="247.01" font-size="4.6" text-anchor="middle" font-family='"Liberation Sans", sans-serif' fill="#111">★</text>
<rect x="359.56" y="242.52" width="5.53" height="5.73" fill="#f6f8f5"/>
<rect x="365.44" y="242.52" width="5.53" height="5.73" fill="#58ad4c"/>
<rect x="366.34" y="243.42" width="3.73" height="3.93" fill="#3a9035"/>
<text x="368.23" y="247.01" font-size="4.6" text-anchor="middle" font-family='"Liberation Sans", sans-serif' fill="#111">★</text>
<rect x="371.32" y="242.52" width="5.53" height="5.73" fill="#58ad4c"/>
<rect x="372.22" y="243.42" width="3.73" height="3.93" fill="#3a9035"/>
<text x="374.11" y="247.01" font-size="4.6" text-anchor="middle" font-family='"Liberation Sans", sans-serif' fill="#111">★</text>
<rect x="377.20" y="242.52" width="5.53" height="5.73" fill="#58ad4c"/>
<rect x="378.10" y="243.42" width="3.73" height="3.93" fill="#3a9035"/>
<text x="379.99" y="247.01" font-size="4.6" text-anchor="middle" font-family='"Liberation Sans", sans-serif' fill="#111">★</text>
<rect x="383.08" y="242.52" width="5.53" height="5.73" fill="#58ad4c"/>
<rect x="383.98" y="243.42" width="3.73" height="3.93" fill="#3a9035"/>
<text x="385.87" y="247.01" font-size="4.6" text-anchor="middle" font-family='"Liberation Sans", sans-serif' fill="#111">★</text>
<rect x="388.96" y="242.52" width="5.53" height="5.73" fill="#c9e8b9"/>
<rect x="394.84" y="242.52" width="5.53" height="5.73" fill="#e4f3dc"/>
<rect x="400.72" y="242.52" width="5.53" height="5.73" fill="#58ad4c"/>
<rect x="401.62" y="243.42" width="3.73" height="3.93" fill="#3a9035"/>
<text x="403.51" y="247.01" font-size="4.6" text-anchor="middle" font-family='"Liberation Sans", sans-serif' fill="#111">★</text>
<rect x="406.60" y="242.52" width="5.53" height="5.73" fill="#58ad4c"/>
<rect x="407.50" y="243.42" width="3.73" height="3.93" fill="#3a9035"/>
<text x="409.39" y="247.01" font-size="4.6" text-anchor="middle" font-family='"Liberation Sans", sans-serif' fill="#111">★</text>
<rect x="412.48" y="242.52" width="5.53" height="5.73" fill="#58ad4c"/>
<rect x="413.38" y="243.42" width="3.73" height="3.93" fill="#3a9035"/>
<text x="415.27" y="247.01" font-size="4.6" text-anchor="middle" font-family='"Liberation Sans", sans-serif' fill="#111">★</text>
<rect x="418.36" y="242.52" width="5.53" height="5.73" fill="#c9e8b9"/>
<rect x="347.80" y="248.60" width="5.53" height="5.73" fill="#58ad4c"/>
<rect x="348.70" y="249.50" width="3.73" height="3.93" fill="#3a9035"/>
<text x="350.59" y="253.09" font-size="4.6" text-anchor="middle" font-family='"Liberation Sans", sans-serif' fill="#111">★</text>
<rect x="353.68" y="248.60" width="5.53" height="5.73" fill="#f6f8f5"/>
<rect x="359.56" y="248.60" width="5.53" height="5.73" fill="#f6f8f5"/>
<rect x="365.44" y="248.60" width="5.53" height="5.73" fill="#9dd184"/>
<circle cx="368.23" cy="251.49" r="0.55" fill="#555"/>
<rect x="371.32" y="248.60" width="5.53" height="5.73" fill="#e4f3dc"/>
<rect x="377.20" y="248.60" width="5.53" height="5.73" fill="#e4f3dc"/>
<rect x="383.08" y="248.60" width="5.53" height="5.73" fill="#58ad4c"/>
<rect x="383.98" y="249.50" width="3.73" height="3.93" fill="#3a9035"/>
<text x="385.87" y="253.09" font-size="4.6" text-anchor="middle" font-family='"Liberation Sans", sans-serif' fill="#111">★</text>
<rect x="388.96" y="248.60" width="5.53" height="5.73" fill="#e4f3dc"/>
<rect x="394.84" y="248.60" width="5.53" height="5.73" fill="#e4f3dc"/>
<rect x="400.72" y="248.60" width="5.53" height="5.73" fill="#58ad4c"/>
<rect x="401.62" y="249.50" width="3.73" height="3.93" fill="#3a9035"/>
<text x="403.51" y="253.09" font-size="4.6" text-anchor="middle" font-family='"Liberation Sans", sans-serif' fill="#111">★</text>
<rect x="406.60" y="248.60" width="5.53" height="5.73" fill="#58ad4c"/>
<rect x="407.50" y="249.50" width="3.73" height="3.93" fill="#3a9035"/>
<text x="409.39" y="253.09" font-size="4.6" text-anchor="middle" font-family='"Liberation Sans", sans-serif' fill="#111">★</text>
<rect x="412.48" y="248.60" width="5.53" height="5.73" fill="#9dd184"/>
<circle cx="415.27" cy="251.49" r="0.55" fill="#555"/>
<rect x="347.80" y="254.68" width="5.53" height="5.73" fill="#58ad4c"/>
<rect x="348.70" y="255.58" width="3.73" height="3.93" fill="#3a9035"/>
<text x="350.59" y="259.17" font-size="4.6" text-anchor="middle" font-family='"Liberation Sans", sans-serif' fill="#111">★</text>
<rect x="353.68" y="254.68" width="5.53" height="5.73" fill="#58ad4c"/>
<rect x="354.58" y="255.58" width="3.73" height="3.93" fill="#3a9035"/>
<text x="356.47" y="259.17" font-size="4.6" text-anchor="middle" font-family='"Liberation Sans", sans-serif' fill="#111">★</text>
<rect x="359.56" y="254.68" width="5.53" height="5.73" fill="#f6f8f5"/>
<rect x="365.44" y="254.68" width="5.53" height="5.73" fill="#58ad4c"/>
<rect x="366.34" y="255.58" width="3.73" height="3.93" fill="#3a9035"/>
<text x="368.23" y="259.17" font-size="4.6" text-anchor="middle" font-family='"Liberation Sans", sans-serif' fill="#111">★</text>
<rect x="371.32" y="254.68" width="5.53" height="5.73" fill="#c9e8b9"/>
<rect x="377.20" y="254.68" width="5.53" height="5.73" fill="#9dd184"/>
<circle cx="379.99" cy="257.57" r="0.55" fill="#555"/>
<rect x="383.08" y="254.68" width="5.53" height="5.73" fill="#58ad4c"/>
<rect x="383.98" y="255.58" width="3.73" height="3.93" fill="#3a9035"/>
<text x="385.87" y="259.17" font-size="4.6" text-anchor="middle" font-family='"Liberation Sans", sans-serif' fill="#111">★</text>
<rect x="388.96" y="254.68" width="5.53" height="5.73" fill="#e4f3dc"/>
<rect x="394.84" y="254.68" width="5.53" height="5.73" fill="#f6f8f5"/>
<rect x="400.72" y="254.68" width="5.53" height="5.73" fill="#9dd184"/>
<circle cx="403.51" cy="257.57" r="0.55" fill="#555"/>
<rect x="406.60" y="254.68" width="5.53" height="5.73" fill="#58ad4c"/>
<rect x="407.50" y="255.58" width="3.73" height="3.93" fill="#3a9035"/>
<text x="409.39" y="259.17" font-size="4.6" text-anchor="middle" font-family='"Liberation Sans", sans-serif' fill="#111">★</text>
<rect x="412.48" y="254.68" width="5.53" height="5.73" fill="#f6f8f5"/>
<rect x="347.80" y="260.76" width="5.53" height="5.73" fill="#58ad4c"/>
<rect x="348.70" y="261.66" width="3.73" height="3.93" fill="#3a9035"/>
<text x="350.59" y="265.25" font-size="4.6" text-anchor="middle" font-family='"Liberation Sans", sans-serif' fill="#111">★</text>
<rect x="353.68" y="260.76" width="5.53" height="5.73" fill="#58ad4c"/>
<rect x="354.58" y="261.66" width="3.73" height="3.93" fill="#3a9035"/>
<text x="356.47" y="265.25" font-size="4.6" text-anchor="middle" font-family='"Liberation Sans", sans-serif' fill="#111">★</text>
<rect x="359.56" y="260.76" width="5.53" height="5.73" fill="#e4f3dc"/>
<rect x="365.44" y="260.76" width="5.53" height="5.73" fill="#9dd184"/>
<circle cx="368.23" cy="263.65" r="0.55" fill="#555"/>
<rect x="371.32" y="260.76" width="5.53" height="5.73" fill="#58ad4c"/>
<rect x="372.22" y="261.66" width="3.73" height="3.93" fill="#3a9035"/>
<text x="374.11" y="265.25" font-size="4.6" text-anchor="middle" font-family='"Liberation Sans", sans-serif' fill="#111">★</text>
<rect x="377.20" y="260.76" width="5.53" height="5.73" fill="#58ad4c"/>
<rect x="378.10" y="261.66" width="3.73" height="3.93" fill="#3a9035"/>
<text x="379.99" y="265.25" font-size="4.6" text-anchor="middle" font-family='"Liberation Sans", sans-serif' fill="#111">★</text>
<rect x="383.08" y="260.76" width="5.53" height="5.73" fill="#58ad4c"/>
<rect x="383.98" y="261.66" width="3.73" height="3.93" fill="#3a9035"/>
<text x="385.87" y="265.25" font-size="4.6" text-anchor="middle" font-family='"Liberation Sans", sans-serif' fill="#111">★</text>
<rect x="388.96" y="260.76" width="5.53" height="5.73" fill="#e4f3dc"/>
<rect x="394.84" y="260.76" width="5.53" height="5.73" fill="#e4f3dc"/>
<rect x="400.72" y="260.76" width="5.53" height="5.73" fill="#9dd184"/>
<circle cx="403.51" cy="263.65" r="0.55" fill="#555"/>
<rect x="347.80" y="266.84" width="5.53" height="5.73" fill="#58ad4c"/>
<rect x="348.70" y="267.74" width="3.73" height="3.93" fill="#3a9035"/>
<text x="350.59" y="271.33" font-size="4.6" text-anchor="middle" font-family='"Liberation Sans", sans-serif' fill="#111">★</text>
<rect x="353.68" y="266.84" width="5.53" height="5.73" fill="#9dd184"/>
<circle cx="356.47" cy="269.73" r="0.55" fill="#555"/>
<rect x="359.56" y="266.84" width="5.53" height="5.73" fill="#e4f3dc"/>
<rect x="365.44" y="266.84" width="5.53" height="5.73" fill="#58ad4c"/>
<rect x="366.34" y="267.74" width="3.73" height="3.93" fill="#3a9035"/>
<text x="368.23" y="271.33" font-size="4.6" text-anchor="middle" font-family='"Liberation Sans", sans-serif' fill="#111">★</text>
<rect x="371.32" y="266.84" width="5.53" height="5.73" fill="#c9e8b9"/>
<rect x="377.20" y="266.84" width="5.53" height="5.73" fill="#c9e8b9"/>
<rect x="383.08" y="266.84" width="5.53" height="5.73" fill="#c9e8b9"/>
<rect x="388.96" y="266.84" width="5.53" height="5.73" fill="#9dd184"/>
<circle cx="391.75" cy="269.73" r="0.55" fill="#555"/>
<rect x="394.84" y="266.84" width="5.53" height="5.73" fill="#c9e8b9"/>
<rect x="347.80" y="272.92" width="5.53" height="5.73" fill="#c9e8b9"/>
<rect x="353.68" y="272.92" width="5.53" height="5.73" fill="#c9e8b9"/>
<rect x="359.56" y="272.92" width="5.53" height="5.73" fill="#e4f3dc"/>
<rect x="365.44" y="272.92" width="5.53" height="5.73" fill="#9dd184"/>
<circle cx="368.23" cy="275.81" r="0.55" fill="#555"/>
<rect x="371.32" y="272.92" width="5.53" height="5.73" fill="#e4f3dc"/>
<rect x="377.20" y="272.92" width="5.53" height="5.73" fill="#c9e8b9"/>
<rect x="383.08" y="272.92" width="5.53" height="5.73" fill="#e4f3dc"/>
<rect x="388.96" y="272.92" width="5.53" height="5.73" fill="#c9e8b9"/>
<rect x="347.80" y="279.00" width="5.53" height="5.73" fill="#58ad4c"/>
<rect x="348.70" y="279.90" width="3.73" height="3.93" fill="#3a9035"/>
<text x="350.59" y="283.49" font-size="4.6" text-anchor="middle" font-family='"Liberation Sans", sans-serif' fill="#111">★</text>
<rect x="353.68" y="279.00" width="5.53" height="5.73" fill="#c9e8b9"/>
<rect x="359.56" y="279.00" width="5.53" height="5.73" fill="#e4f3dc"/>
<rect x="365.44" y="279.00" width="5.53" height="5.73" fill="#58ad4c"/>
<rect x="366.34" y="279.90" width="3.73" height="3.93" fill="#3a9035"/>
<text x="368.23" y="283.49" font-size="4.6" text-anchor="middle" font-family='"Liberation Sans", sans-serif' fill="#111">★</text>
<rect x="371.32" y="279.00" width="5.53" height="5.73" fill="#58ad4c"/>
<rect x="372.22" y="279.90" width="3.73" height="3.93" fill="#3a9035"/>
<text x="374.11" y="283.49" font-size="4.6" text-anchor="middle" font-family='"Liberation Sans", sans-serif' fill="#111">★</text>
<rect x="377.20" y="279.00" width="5.53" height="5.73" fill="#7fc268"/>
<circle cx="379.99" cy="281.89" r="0.55" fill="#555"/>
<rect x="383.08" y="279.00" width="5.53" height="5.73" fill="#f6dcea"/>
<rect x="347.80" y="285.08" width="5.53" height="5.73" fill="#58ad4c"/>
<rect x="348.70" y="285.98" width="3.73" height="3.93" fill="#3a9035"/>
<text x="350.59" y="289.57" font-size="4.6" text-anchor="middle" font-family='"Liberation Sans", sans-serif' fill="#111">★</text>
<rect x="353.68" y="285.08" width="5.53" height="5.73" fill="#58ad4c"/>
<rect x="354.58" y="285.98" width="3.73" height="3.93" fill="#3a9035"/>
<text x="356.47" y="289.57" font-size="4.6" text-anchor="middle" font-family='"Liberation Sans", sans-serif' fill="#111">★</text>
<rect x="359.56" y="285.08" width="5.53" height="5.73" fill="#e4f3dc"/>
<rect x="365.44" y="285.08" width="5.53" height="5.73" fill="#9dd184"/>
<circle cx="368.23" cy="287.97" r="0.55" fill="#555"/>
<rect x="371.32" y="285.08" width="5.53" height="5.73" fill="#58ad4c"/>
<rect x="372.22" y="285.98" width="3.73" height="3.93" fill="#3a9035"/>
<text x="374.11" y="289.57" font-size="4.6" text-anchor="middle" font-family='"Liberation Sans", sans-serif' fill="#111">★</text>
<rect x="377.20" y="285.08" width="5.53" height="5.73" fill="#9dd184"/>
<circle cx="379.99" cy="287.97" r="0.55" fill="#555"/>
<rect x="347.80" y="291.16" width="5.53" height="5.73" fill="#58ad4c"/>
<rect x="348.70" y="292.06" width="3.73" height="3.93" fill="#3a9035"/>
<text x="350.59" y="295.65" font-size="4.6" text-anchor="middle" font-family='"Liberation Sans", sans-serif' fill="#111">★</text>
<rect x="353.68" y="291.16" width="5.53" height="5.73" fill="#58ad4c"/>
<rect x="354.58" y="292.06" width="3.73" height="3.93" fill="#3a9035"/>
<text x="356.47" y="295.65" font-size="4.6" text-anchor="middle" font-family='"Liberation Sans", sans-serif' fill="#111">★</text>
<rect x="359.56" y="291.16" width="5.53" height="5.73" fill="#e4f3dc"/>
<rect x="365.44" y="291.16" width="5.53" height="5.73" fill="#58ad4c"/>
<rect x="366.34" y="292.06" width="3.73" height="3.93" fill="#3a9035"/>
<text x="368.23" y="295.65" font-size="4.6" text-anchor="middle" font-family='"Liberation Sans", sans-serif' fill="#111">★</text>
<rect x="371.32" y="291.16" width="5.53" height="5.73" fill="#58ad4c"/>
<rect x="372.22" y="292.06" width="3.73" height="3.93" fill="#3a9035"/>
<text x="374.11" y="295.65" font-size="4.6" text-anchor="middle" font-family='"Liberation Sans", sans-serif' fill="#111">★</text>
<rect x="347.80" y="297.24" width="5.53" height="5.73" fill="#58ad4c"/>
<rect x="348.70" y="298.14" width="3.73" height="3.93" fill="#3a9035"/>
<text x="350.59" y="301.73" font-size="4.6" text-anchor="middle" font-family='"Liberation Sans", sans-serif' fill="#111">★</text>
<rect x="353.68" y="297.24" width="5.53" height="5.73" fill="#58ad4c"/>
<rect x="354.58" y="298.14" width="3.73" height="3.93" fill="#3a9035"/>
<text x="356.47" y="301.73" font-size="4.6" text-anchor="middle" font-family='"Liberation Sans", sans-serif' fill="#111">★</text>
<rect x="359.56" y="297.24" width="5.53" height="5.73" fill="#e4f3dc"/>
<rect x="365.44" y="297.24" width="5.53" height="5.73" fill="#58ad4c"/>
<rect x="366.34" y="298.14" width="3.73" height="3.93" fill="#3a9035"/>
<text x="368.23" y="301.73" font-size="4.6" text-anchor="middle" font-family='"Liberation Sans", sans-serif' fill="#111">★</text>
<rect x="347.80" y="303.32" width="5.53" height="5.73" fill="#58ad4c"/>
<rect x="348.70" y="304.22" width="3.73" height="3.93" fill="#3a9035"/>
<text x="350.59" y="307.81" font-size="4.6" text-anchor="middle" font-family='"Liberation Sans", sans-serif' fill="#111">★</text>
<rect x="353.68" y="303.32" width="5.53" height="5.73" fill="#58ad4c"/>
<rect x="354.58" y="304.22" width="3.73" height="3.93" fill="#3a9035"/>
<text x="356.47" y="307.81" font-size="4.6" text-anchor="middle" font-family='"Liberation Sans", sans-serif' fill="#111">★</text>
<rect x="359.56" y="303.32" width="5.53" height="5.73" fill="#e4f3dc"/>
<rect x="347.80" y="309.40" width="5.53" height="5.73" fill="#7fc268"/>
<circle cx="350.59" cy="312.29" r="0.55" fill="#555"/>
<rect x="353.68" y="309.40" width="5.53" height="5.73" fill="#9dd184"/>
<circle cx="356.47" cy="312.29" r="0.55" fill="#555"/>
<rect x="347.80" y="315.48" width="5.53" height="5.73" fill="#58ad4c"/>
<rect x="348.70" y="316.38" width="3.73" height="3.93" fill="#3a9035"/>
<text x="350.59" y="319.97" font-size="4.6" text-anchor="middle" font-family='"Liberation Sans", sans-serif' fill="#111">★</text>
<text x="346.8" y="192.34" font-size="5.1" text-anchor="end" font-style="italic" font-family='"Liberation Serif", serif' fill="#222">KCNU1</text>
<text x="346.8" y="198.42" font-size="5.1" text-anchor="end" font-style="italic" font-family='"Liberation Serif", serif' fill="#222">SMARCA4</text>
<text x="346.8" y="204.50" font-size="5.1" text-anchor="end" font-style="italic" font-family='"Liberation Serif", serif' fill="#222">UNC13C</text>
<text x="346.8" y="210.58" font-size="5.1" text-anchor="end" font-style="italic" font-family='"Liberation Serif", serif' fill="#222">SLITRK3</text>
<text x="346.8" y="216.66" font-size="5.1" text-anchor="end" font-style="italic" font-family='"Liberation Serif", serif' fill="#222">FCGBP</text>
<text x="346.8" y="222.74" font-size="5.1" text-anchor="end" font-style="italic" font-family='"Liberation Serif", serif' fill="#222">COL19A1</text>
<text x="346.8" y="228.82" font-size="5.1" text-anchor="end" font-style="italic" font-family='"Liberation Serif", serif' fill="#222">CDH18</text>
<text x="346.8" y="234.90" font-size="5.1" text-anchor="end" font-style="italic" font-family='"Liberation Serif", serif' fill="#222">KCNT2</text>
<text x="346.8" y="240.98" font-size="5.1" text-anchor="end" font-style="italic" font-family='"Liberation Serif", serif' fill="#222">ASTN2</text>
<text x="346.8" y="247.06" font-size="5.1" text-anchor="end" font-style="italic" font-family='"Liberation Serif", serif' fill="#222">DNAH11</text>
<text x="346.8" y="253.14" font-size="5.1" text-anchor="end" font-style="italic" font-family='"Liberation Serif", serif' fill="#222">TPTE</text>
<text x="346.8" y="259.22" font-size="5.1" text-anchor="end" font-style="italic" font-family='"Liberation Serif", serif' fill="#222">PRUNE2</text>
<text x="346.8" y="265.30" font-size="5.1" text-anchor="end" font-style="italic" font-family='"Liberation Serif", serif' fill="#222">CNTNAP2</text>
<text x="346.8" y="271.38" font-size="5.1" text-anchor="end" font-style="italic" font-family='"Liberation Serif", serif' fill="#222">DNAH5</text>
<text x="346.8" y="277.46" font-size="5.1" text-anchor="end" font-style="italic" font-family='"Liberation Serif", serif' fill="#222">TSHZ3</text>
<text x="346.8" y="283.54" font-size="5.1" text-anchor="end" font-style="italic" font-family='"Liberation Serif", serif' fill="#222">SYNE1</text>
<text x="346.8" y="289.62" font-size="5.1" text-anchor="end" font-style="italic" font-family='"Liberation Serif", serif' fill="#222">ASXL3</text>
<text x="346.8" y="295.70" font-size="5.1" text-anchor="end" font-style="italic" font-family='"Liberation Serif", serif' fill="#222">FLG2</text>
<text x="346.8" y="301.78" font-size="5.1" text-anchor="end" font-style="italic" font-family='"Liberation Serif", serif' fill="#222">ASTN1</text>
<text x="346.8" y="307.86" font-size="5.1" text-anchor="end" font-style="italic" font-family='"Liberation Serif", serif' fill="#222">CACNA1E</text>
<text x="346.8" y="313.94" font-size="5.1" text-anchor="end" font-style="italic" font-family='"Liberation Serif", serif' fill="#222">KEAP1</text>
<text x="346.8" y="320.02" font-size="5.1" text-anchor="end" font-style="italic" font-family='"Liberation Serif", serif' fill="#222">COL11A1</text>
<text x="346.8" y="326.10" font-size="5.1" text-anchor="end" font-style="italic" font-family='"Liberation Serif", serif' fill="#222">RYR2</text>
<text x="0" y="0" font-size="4.4" font-style="italic" font-family='"Liberation Serif", serif' fill="#333" transform="translate(352.14,184) rotate(-90)">RYR2</text>
<text x="0" y="0" font-size="4.4" font-style="italic" font-family='"Liberation Serif", serif' fill="#333" transform="translate(358.02,184) rotate(-90)">COL11A1</text>
<text x="0" y="0" font-size="4.4" font-style="italic" font-family='"Liberation Serif", serif' fill="#333" transform="translate(363.90,184) rotate(-90)">KEAP1</text>
<text x="0" y="0" font-size="4.4" font-style="italic" font-family='"Liberation Serif", serif' fill="#333" transform="translate(369.78,184) rotate(-90)">CACNA1E</text>
<text x="0" y="0" font-size="4.4" font-style="italic" font-family='"Liberation Serif", serif' fill="#333" transform="translate(375.66,184) rotate(-90)">ASTN1</text>
<text x="0" y="0" font-size="4.4" font-style="italic" font-family='"Liberation Serif", serif' fill="#333" transform="translate(381.54,184) rotate(-90)">FLG2</text>
<text x="0" y="0" font-size="4.4" font-style="italic" font-family='"Liberation Serif", serif' fill="#333" transform="translate(387.42,184) rotate(-90)">ASXL3</text>
<text x="0" y="0" font-size="4.4" font-style="italic" font-family='"Liberation Serif", serif' fill="#333" transform="translate(393.30,184) rotate(-90)">SYNE1</text>
<text x="0" y="0" font-size="4.4" font-style="italic" font-family='"Liberation Serif", serif' fill="#333" transform="translate(399.18,184) rotate(-90)">TSHZ3</text>
<text x="0" y="0" font-size="4.4" font-style="italic" font-family='"Liberation Serif", serif' fill="#333" transform="translate(405.06,184) rotate(-90)">DNAH5</text>
<text x="0" y="0" font-size="4.4" font-style="italic" font-family='"Liberation Serif", serif' fill="#333" transform="translate(410.94,184) rotate(-90)">CNTNAP2</text>
<text x="0" y="0" font-size="4.4" font-style="italic" font-family='"Liberation Serif", serif' fill="#333" transform="translate(416.82,184) rotate(-90)">PRUNE2</text>
<text x="0" y="0" font-size="4.4" font-style="italic" font-family='"Liberation Serif", serif' fill="#333" transform="translate(422.70,184) rotate(-90)">TPTE</text>
<text x="0" y="0" font-size="4.4" font-style="italic" font-family='"Liberation Serif", serif' fill="#333" transform="translate(428.58,184) rotate(-90)">DNAH11</text>
<text x="0" y="0" font-size="4.4" font-style="italic" font-family='"Liberation Serif", serif' fill="#333" transform="translate(434.46,184) rotate(-90)">ASTN2</text>
<text x="0" y="0" font-size="4.4" font-style="italic" font-family='"Liberation Serif", serif' fill="#333" transform="translate(440.34,184) rotate(-90)">KCNT2</text>
<text x="0" y="0" font-size="4.4" font-style="italic" font-family='"Liberation Serif", serif' fill="#333" transform="translate(446.22,184) rotate(-90)">CDH18</text>
<text x="0" y="0" font-size="4.4" font-style="italic" font-family='"Liberation Serif", serif' fill="#333" transform="translate(452.10,184) rotate(-90)">COL19A1</text>
<text x="0" y="0" font-size="4.4" font-style="italic" font-family='"Liberation Serif", serif' fill="#333" transform="translate(457.98,184) rotate(-90)">FCGBP</text>
<text x="0" y="0" font-size="4.4" font-style="italic" font-family='"Liberation Serif", serif' fill="#333" transform="translate(463.86,184) rotate(-90)">SLITRK3</text>
<text x="0" y="0" font-size="4.4" font-style="italic" font-family='"Liberation Serif", serif' fill="#333" transform="translate(469.74,184) rotate(-90)">UNC13C</text>
<text x="0" y="0" font-size="4.4" font-style="italic" font-family='"Liberation Serif", serif' fill="#333" transform="translate(475.62,184) rotate(-90)">SMARCA4</text>
<text x="0" y="0" font-size="4.4" font-style="italic" font-family='"Liberation Serif", serif' fill="#333" transform="translate(481.50,184) rotate(-90)">KCNU1</text>
<text x="488.0" y="225.2" font-size="5.6" text-anchor="start" font-family='"Liberation Serif", serif' fill="#222" >Co-occurrence</text>
<defs><linearGradient id="cb" x1="0" y1="0" x2="0" y2="1"><stop offset="0" stop-color="#3a8e2f"/><stop offset="0.25" stop-color="#9fd08a"/><stop offset="0.5" stop-color="#f7f7f7"/><stop offset="0.75" stop-color="#e9a3cc"/><stop offset="1" stop-color="#c2187a"/></linearGradient></defs>
<rect x="502.6" y="228.6" width="4" height="48" fill="url(#cb)"/>
<line x1="506.6" y1="228.8" x2="507.8" y2="228.8" stroke="#888" stroke-width="0.3"/>
<text x="514.5" y="230.8" font-size="5.6" text-anchor="start" font-family='"Liberation Serif", serif' fill="#333" >&gt;3</text>
<line x1="506.6" y1="236.8" x2="507.8" y2="236.8" stroke="#888" stroke-width="0.3"/>
<text x="514.5" y="238.8" font-size="5.6" text-anchor="start" font-family='"Liberation Serif", serif' fill="#333" >2</text>
<line x1="506.6" y1="244.8" x2="507.8" y2="244.8" stroke="#888" stroke-width="0.3"/>
<text x="514.5" y="246.8" font-size="5.6" text-anchor="start" font-family='"Liberation Serif", serif' fill="#333" >1</text>
<line x1="506.6" y1="252.8" x2="507.8" y2="252.8" stroke="#888" stroke-width="0.3"/>
<text x="514.5" y="254.8" font-size="5.6" text-anchor="start" font-family='"Liberation Serif", serif' fill="#333" >0</text>
<line x1="506.6" y1="260.8" x2="507.8" y2="260.8" stroke="#888" stroke-width="0.3"/>
<text x="514.5" y="262.8" font-size="5.6" text-anchor="start" font-family='"Liberation Serif", serif' fill="#333" >1</text>
<line x1="506.6" y1="268.8" x2="507.8" y2="268.8" stroke="#888" stroke-width="0.3"/>
<text x="514.5" y="270.8" font-size="5.6" text-anchor="start" font-family='"Liberation Serif", serif' fill="#333" >2</text>
<line x1="506.6" y1="276.8" x2="507.8" y2="276.8" stroke="#888" stroke-width="0.3"/>
<text x="514.5" y="278.8" font-size="5.6" text-anchor="start" font-family='"Liberation Serif", serif' fill="#333" >&gt; 3</text>
<text x="0" y="0" font-size="5.9" text-anchor="middle" font-family='"Liberation Sans", sans-serif' fill="#333" transform="translate(496.2,252.8) rotate(-90)">-log10(P-value)</text>
<text x="504.5" y="283.6" font-size="5.7" text-anchor="middle" font-family='"Liberation Serif", serif' fill="#222" >Exclusive</text>
<circle cx="495.2" cy="288.2" r="0.6" fill="#333"/>
<text x="496.5" y="289.8" font-size="4.6" text-anchor="start" font-family='"Liberation Serif", serif' fill="#444" >: <tspan font-style="italic">p</tspan>&lt;0.05</text>
<text x="495.2" y="296.6" font-size="3.2" text-anchor="middle" font-family='"Liberation Sans", sans-serif' fill="#333" >★</text>
<text x="496.5" y="296.3" font-size="4.6" text-anchor="start" font-family='"Liberation Serif", serif' fill="#444" >: <tspan font-style="italic">p</tspan>&lt;0.01</text>
<text x="42.2" y="369.2" font-size="8.6" text-anchor="start" font-family='"Liberation Serif", serif' fill="#222" >Mutation conunt</text>
<line x1="41.3" y1="373" x2="41.3" y2="400.8" stroke="#333" stroke-width="0.5"/>
<line x1="39.8" y1="376.5" x2="41.3" y2="376.5" stroke="#333" stroke-width="0.5"/>
<text x="39.2" y="378.2" font-size="5.0" text-anchor="end" font-family='"Liberation Serif", serif' fill="#333" >20</text>
<line x1="39.8" y1="388.6" x2="41.3" y2="388.6" stroke="#333" stroke-width="0.5"/>
<text x="39.2" y="390.3" font-size="5.0" text-anchor="end" font-family='"Liberation Serif", serif' fill="#333" >10</text>
<line x1="39.8" y1="400.7" x2="41.3" y2="400.7" stroke="#333" stroke-width="0.5"/>
<text x="39.2" y="402.4" font-size="5.0" text-anchor="end" font-family='"Liberation Serif", serif' fill="#333" >0</text>
<rect x="41.8" y="403.2" width="122.6" height="6.8" fill="#dd4b32"/>
<rect x="164.4" y="403.2" width="122.6" height="6.8" fill="#4eb2d2"/>
<text x="104.3" y="409.3" font-size="7.5" text-anchor="middle" font-family='"Liberation Serif", serif' fill="#1a1a1a" font-weight="bold" stroke="#1a1a1a" stroke-width="0.25">High ICDrisk</text>
<text x="226.0" y="409.3" font-size="7.5" text-anchor="middle" font-family='"Liberation Serif", serif' fill="#1a1a1a" font-weight="bold" stroke="#1a1a1a" stroke-width="0.25">Low ICDrisk</text>
<text x="39.8" y="414.9" font-size="5.0" text-anchor="end" font-family='"Liberation Serif", serif' fill="#1a1a1a" >RYR2</text>
<text x="39.8" y="419.6" font-size="5.0" text-anchor="end" font-family='"Liberation Serif", serif' fill="#1a1a1a" >COL11A1</text>
<text x="39.8" y="424.4" font-size="5.0" text-anchor="end" font-family='"Liberation Serif", serif' fill="#1a1a1a" >KEAP1</text>
<text x="39.8" y="429.1" font-size="5.0" text-anchor="end" font-family='"Liberation Serif", serif' fill="#1a1a1a" >ASTN1</text>
<text x="39.8" y="433.9" font-size="5.0" text-anchor="end" font-family='"Liberation Serif", serif' fill="#1a1a1a" >CACNA1E</text>
<text x="39.8" y="438.7" font-size="5.0" text-anchor="end" font-family='"Liberation Serif", serif' fill="#1a1a1a" >ASXL3</text>
<text x="39.8" y="443.4" font-size="5.0" text-anchor="end" font-family='"Liberation Serif", serif' fill="#1a1a1a" >FLG2</text>
<text x="39.8" y="448.2" font-size="5.0" text-anchor="end" font-family='"Liberation Serif", serif' fill="#1a1a1a" >CNTNAP2</text>
<text x="39.8" y="452.9" font-size="5.0" text-anchor="end" font-family='"Liberation Serif", serif' fill="#1a1a1a" >DNAH5</text>
<text x="39.8" y="457.7" font-size="5.0" text-anchor="end" font-family='"Liberation Serif", serif' fill="#1a1a1a" >PRUNE2</text>
<text x="39.8" y="462.4" font-size="5.0" text-anchor="end" font-family='"Liberation Serif", serif' fill="#1a1a1a" >TSHZ3</text>
<text x="39.8" y="467.2" font-size="5.0" text-anchor="end" font-family='"Liberation Serif", serif' fill="#1a1a1a" >SYNE1</text>
<text x="39.8" y="472.0" font-size="5.0" text-anchor="end" font-family='"Liberation Serif", serif' fill="#1a1a1a" >DNAH11</text>
<text x="39.8" y="476.7" font-size="5.0" text-anchor="end" font-family='"Liberation Serif", serif' fill="#1a1a1a" >TPTE</text>
<text x="39.8" y="481.5" font-size="5.0" text-anchor="end" font-family='"Liberation Serif", serif' fill="#1a1a1a" >UNC13C</text>
<text x="39.8" y="486.2" font-size="5.0" text-anchor="end" font-family='"Liberation Serif", serif' fill="#1a1a1a" >KCNT2</text>
<text x="39.8" y="491.0" font-size="5.0" text-anchor="end" font-family='"Liberation Serif", serif' fill="#1a1a1a" >COL19A1</text>
<text x="39.8" y="495.7" font-size="5.0" text-anchor="end" font-family='"Liberation Serif", serif' fill="#1a1a1a" >CDH18</text>
<text x="39.8" y="500.5" font-size="5.0" text-anchor="end" font-family='"Liberation Serif", serif' fill="#1a1a1a" >SLITRK3</text>
<text x="39.8" y="505.3" font-size="5.0" text-anchor="end" font-family='"Liberation Serif", serif' fill="#1a1a1a" >SMARCA4</text>
<text x="39.8" y="510.0" font-size="5.0" text-anchor="end" font-family='"Liberation Serif", serif' fill="#1a1a1a" >ASTN2</text>
<text x="39.8" y="514.8" font-size="5.0" text-anchor="end" font-family='"Liberation Serif", serif' fill="#1a1a1a" >FCGBP</text>
<text x="39.8" y="519.5" font-size="5.0" text-anchor="end" font-family='"Liberation Serif", serif' fill="#1a1a1a" >KCNU1</text>
<rect x="41.8" y="410.7" width="245.2" height="109.41" fill="#eeeeee"/>
<path d="M41.8 411.05h1v4.06h-1zM41.8 415.81h1v4.06h-1zM41.8 453.86h1v4.06h-1zM41.8 510.95h1v4.06h-1zM42.8 411.05h1v4.06h-1zM43.8 458.62h1v4.06h-1zM43.8 463.38h1v4.06h-1zM43.8 472.89h1v4.06h-1zM43.8 482.40h1v4.06h-1zM44.8 501.43h1v4.06h-1zM45.8 411.05h1v4.06h-1zM45.8 415.81h1v4.06h-1zM45.8 420.56h1v4.06h-1zM45.8 458.62h1v4.06h-1zM46.8 453.86h1v4.06h-1zM46.8 468.13h1v4.06h-1zM46.8 482.40h1v4.06h-1zM46.8 487.16h1v4.06h-1zM47.8 411.05h1v4.06h-1zM47.8 472.89h1v4.06h-1zM48.8 434.84h1v4.06h-1zM49.8 434.84h1v4.06h-1zM49.8 463.38h1v4.06h-1zM49.8 501.43h1v4.06h-1zM53.9 411.05h1v4.06h-1zM53.9 439.59h1v4.06h-1zM54.9 411.05h1v4.06h-1zM54.9 420.56h1v4.06h-1zM55.9 411.05h1v4.06h-1zM56.9 430.08h1v4.06h-1zM57.9 420.56h1v4.06h-1zM57.9 496.68h1v4.06h-1zM57.9 510.95h1v4.06h-1zM59.9 482.40h1v4.06h-1zM60.9 510.95h1v4.06h-1zM61.9 444.35h1v4.06h-1zM61.9 510.95h1v4.06h-1zM62.9 425.32h1v4.06h-1zM62.9 439.59h1v4.06h-1zM63.9 411.05h1v4.06h-1zM63.9 425.32h1v4.06h-1zM63.9 487.16h1v4.06h-1zM63.9 510.95h1v4.06h-1zM64.9 425.32h1v4.06h-1zM64.9 515.70h1v4.06h-1zM65.9 411.05h1v4.06h-1zM65.9 487.16h1v4.06h-1zM66.9 411.05h1v4.06h-1zM66.9 444.35h1v4.06h-1zM66.9 468.13h1v4.06h-1zM66.9 501.43h1v4.06h-1zM68.9 439.59h1v4.06h-1zM68.9 472.89h1v4.06h-1zM68.9 487.16h1v4.06h-1zM69.9 501.43h1v4.06h-1zM71.9 411.05h1v4.06h-1zM71.9 449.11h1v4.06h-1zM74.0 510.95h1v4.06h-1zM75.0 439.59h1v4.06h-1zM75.0 458.62h1v4.06h-1zM76.0 439.59h1v4.06h-1zM76.0 458.62h1v4.06h-1zM76.0 482.40h1v4.06h-1zM77.0 496.68h1v4.06h-1zM78.0 477.65h1v4.06h-1zM78.0 496.68h1v4.06h-1zM79.0 458.62h1v4.06h-1zM79.0 477.65h1v4.06h-1zM79.0 482.40h1v4.06h-1zM80.0 487.16h1v4.06h-1zM81.0 411.05h1v4.06h-1zM81.0 463.38h1v4.06h-1zM81.0 468.13h1v4.06h-1zM82.0 506.19h1v4.06h-1zM82.0 515.70h1v4.06h-1zM83.0 453.86h1v4.06h-1zM84.0 453.86h1v4.06h-1zM85.0 411.05h1v4.06h-1zM86.0 458.62h1v4.06h-1zM87.0 468.13h1v4.06h-1zM87.0 491.92h1v4.06h-1zM88.0 468.13h1v4.06h-1zM90.0 425.32h1v4.06h-1zM91.0 430.08h1v4.06h-1zM91.0 506.19h1v4.06h-1zM92.0 415.81h1v4.06h-1zM94.1 425.32h1v4.06h-1zM94.1 458.62h1v4.06h-1zM95.1 444.35h1v4.06h-1zM95.1 506.19h1v4.06h-1zM96.1 487.16h1v4.06h-1zM97.1 415.81h1v4.06h-1zM97.1 449.11h1v4.06h-1zM97.1 501.43h1v4.06h-1zM98.1 458.62h1v4.06h-1zM98.1 491.92h1v4.06h-1zM99.1 415.81h1v4.06h-1zM99.1 449.11h1v4.06h-1zM100.1 420.56h1v4.06h-1zM100.1 496.68h1v4.06h-1zM101.1 434.84h1v4.06h-1zM102.1 439.59h1v4.06h-1zM103.1 439.59h1v4.06h-1zM104.1 430.08h1v4.06h-1zM108.1 444.35h1v4.06h-1zM108.1 501.43h1v4.06h-1zM109.1 425.32h1v4.06h-1zM110.1 434.84h1v4.06h-1zM110.1 458.62h1v4.06h-1zM113.2 463.38h1v4.06h-1zM114.2 425.32h1v4.06h-1zM114.2 506.19h1v4.06h-1zM115.2 468.13h1v4.06h-1zM115.2 515.70h1v4.06h-1zM116.2 430.08h1v4.06h-1zM116.2 463.38h1v4.06h-1zM117.2 430.08h1v4.06h-1zM119.2 444.35h1v4.06h-1zM120.2 434.84h1v4.06h-1zM121.2 506.19h1v4.06h-1zM121.2 510.95h1v4.06h-1zM123.2 506.19h1v4.06h-1zM126.2 477.65h1v4.06h-1zM128.2 453.86h1v4.06h-1zM129.2 453.86h1v4.06h-1zM131.2 468.13h1v4.06h-1zM133.3 501.43h1v4.06h-1zM134.3 472.89h1v4.06h-1zM136.3 482.40h1v4.06h-1zM164.4 449.11h1v4.06h-1zM164.4 510.95h1v4.06h-1zM165.4 430.08h1v4.06h-1zM166.4 411.05h1v4.06h-1zM166.4 415.81h1v4.06h-1zM166.4 472.89h1v4.06h-1zM167.4 425.32h1v4.06h-1zM168.4 434.84h1v4.06h-1zM169.4 434.84h1v4.06h-1zM169.4 515.70h1v4.06h-1zM170.4 439.59h1v4.06h-1zM172.4 506.19h1v4.06h-1zM174.5 411.05h1v4.06h-1zM175.5 482.40h1v4.06h-1zM176.5 449.11h1v4.06h-1zM176.5 496.68h1v4.06h-1zM176.5 515.70h1v4.06h-1zM177.5 425.32h1v4.06h-1zM177.5 491.92h1v4.06h-1zM178.5 411.05h1v4.06h-1zM180.5 449.11h1v4.06h-1zM181.5 411.05h1v4.06h-1zM181.5 491.92h1v4.06h-1zM182.5 487.16h1v4.06h-1zM183.5 430.08h1v4.06h-1zM183.5 468.13h1v4.06h-1zM184.5 439.59h1v4.06h-1zM184.5 468.13h1v4.06h-1zM185.5 411.05h1v4.06h-1zM186.5 411.05h1v4.06h-1zM186.5 439.59h1v4.06h-1zM186.5 506.19h1v4.06h-1zM187.5 472.89h1v4.06h-1zM187.5 487.16h1v4.06h-1zM187.5 501.43h1v4.06h-1zM190.5 444.35h1v4.06h-1zM191.5 487.16h1v4.06h-1zM191.5 501.43h1v4.06h-1zM194.6 491.92h1v4.06h-1zM194.6 501.43h1v4.06h-1zM195.6 453.86h1v4.06h-1zM195.6 463.38h1v4.06h-1zM196.6 411.05h1v4.06h-1zM196.6 463.38h1v4.06h-1zM197.6 411.05h1v4.06h-1zM197.6 487.16h1v4.06h-1zM197.6 515.70h1v4.06h-1zM198.6 411.05h1v4.06h-1zM200.6 515.70h1v4.06h-1zM201.6 468.13h1v4.06h-1zM202.6 415.81h1v4.06h-1zM202.6 482.40h1v4.06h-1zM203.6 415.81h1v4.06h-1zM203.6 449.11h1v4.06h-1zM203.6 472.89h1v4.06h-1zM204.6 415.81h1v4.06h-1zM205.6 415.81h1v4.06h-1zM207.6 425.32h1v4.06h-1zM209.6 487.16h1v4.06h-1zM210.6 453.86h1v4.06h-1zM211.6 420.56h1v4.06h-1zM212.6 491.92h1v4.06h-1zM213.6 487.16h1v4.06h-1zM216.7 477.65h1v4.06h-1zM218.7 515.70h1v4.06h-1zM221.7 434.84h1v4.06h-1zM222.7 434.84h1v4.06h-1zM222.7 506.19h1v4.06h-1zM223.7 487.16h1v4.06h-1zM225.7 434.84h1v4.06h-1zM227.7 506.19h1v4.06h-1zM227.7 510.95h1v4.06h-1zM228.7 458.62h1v4.06h-1zM229.7 453.86h1v4.06h-1zM231.7 496.68h1v4.06h-1zM231.7 515.70h1v4.06h-1zM233.7 453.86h1v4.06h-1zM237.8 501.43h1v4.06h-1zM239.8 510.95h1v4.06h-1zM240.8 472.89h1v4.06h-1zM244.8 482.40h1v4.06h-1zM247.8 510.95h1v4.06h-1z" fill="#7fb0de"/>
<path d="M41.8 439.59h1v4.06h-1zM42.8 415.81h1v4.06h-1zM43.8 491.92h1v4.06h-1zM43.8 496.68h1v4.06h-1zM44.8 411.05h1v4.06h-1zM44.8 415.81h1v4.06h-1zM46.8 420.56h1v4.06h-1zM47.8 415.81h1v4.06h-1zM47.8 453.86h1v4.06h-1zM48.8 411.05h1v4.06h-1zM48.8 415.81h1v4.06h-1zM49.8 415.81h1v4.06h-1zM50.8 411.05h1v4.06h-1zM50.8 420.56h1v4.06h-1zM51.8 411.05h1v4.06h-1zM51.8 415.81h1v4.06h-1zM51.8 463.38h1v4.06h-1zM52.9 411.05h1v4.06h-1zM53.9 420.56h1v4.06h-1zM53.9 434.84h1v4.06h-1zM53.9 477.65h1v4.06h-1zM54.9 453.86h1v4.06h-1zM55.9 463.38h1v4.06h-1zM58.9 439.59h1v4.06h-1zM58.9 458.62h1v4.06h-1zM59.9 420.56h1v4.06h-1zM60.9 425.32h1v4.06h-1zM60.9 434.84h1v4.06h-1zM62.9 411.05h1v4.06h-1zM63.9 434.84h1v4.06h-1zM66.9 482.40h1v4.06h-1zM67.9 430.08h1v4.06h-1zM68.9 411.05h1v4.06h-1zM69.9 411.05h1v4.06h-1zM69.9 430.08h1v4.06h-1zM70.9 510.95h1v4.06h-1zM71.9 510.95h1v4.06h-1zM74.0 496.68h1v4.06h-1zM75.0 411.05h1v4.06h-1zM77.0 411.05h1v4.06h-1zM77.0 449.11h1v4.06h-1zM80.0 411.05h1v4.06h-1zM82.0 449.11h1v4.06h-1zM83.0 506.19h1v4.06h-1zM84.0 472.89h1v4.06h-1zM84.0 510.95h1v4.06h-1zM87.0 472.89h1v4.06h-1zM87.0 487.16h1v4.06h-1zM88.0 411.05h1v4.06h-1zM90.0 501.43h1v4.06h-1zM93.1 453.86h1v4.06h-1zM94.1 415.81h1v4.06h-1zM94.1 472.89h1v4.06h-1zM97.1 515.70h1v4.06h-1zM98.1 415.81h1v4.06h-1zM101.1 420.56h1v4.06h-1zM102.1 420.56h1v4.06h-1zM103.1 434.84h1v4.06h-1zM104.1 420.56h1v4.06h-1zM105.1 420.56h1v4.06h-1zM106.1 444.35h1v4.06h-1zM110.1 420.56h1v4.06h-1zM112.1 425.32h1v4.06h-1zM112.1 468.13h1v4.06h-1zM113.2 444.35h1v4.06h-1zM113.2 468.13h1v4.06h-1zM114.2 449.11h1v4.06h-1zM118.2 430.08h1v4.06h-1zM118.2 477.65h1v4.06h-1zM119.2 487.16h1v4.06h-1zM119.2 506.19h1v4.06h-1zM122.2 439.59h1v4.06h-1zM128.2 482.40h1v4.06h-1zM129.2 482.40h1v4.06h-1zM130.2 453.86h1v4.06h-1zM131.2 458.62h1v4.06h-1zM132.2 515.70h1v4.06h-1zM135.3 477.65h1v4.06h-1zM139.3 496.68h1v4.06h-1zM167.4 444.35h1v4.06h-1zM168.4 415.81h1v4.06h-1zM168.4 439.59h1v4.06h-1zM168.4 491.92h1v4.06h-1zM169.4 487.16h1v4.06h-1zM169.4 506.19h1v4.06h-1zM170.4 411.05h1v4.06h-1zM170.4 420.56h1v4.06h-1zM170.4 472.89h1v4.06h-1zM170.4 510.95h1v4.06h-1zM170.4 515.70h1v4.06h-1zM171.4 444.35h1v4.06h-1zM171.4 468.13h1v4.06h-1zM172.4 411.05h1v4.06h-1zM173.4 420.56h1v4.06h-1zM173.4 496.68h1v4.06h-1zM174.5 444.35h1v4.06h-1zM175.5 449.11h1v4.06h-1zM176.5 411.05h1v4.06h-1zM177.5 430.08h1v4.06h-1zM177.5 463.38h1v4.06h-1zM179.5 487.16h1v4.06h-1zM179.5 515.70h1v4.06h-1zM180.5 411.05h1v4.06h-1zM180.5 430.08h1v4.06h-1zM181.5 515.70h1v4.06h-1zM182.5 411.05h1v4.06h-1zM182.5 444.35h1v4.06h-1zM185.5 463.38h1v4.06h-1zM187.5 411.05h1v4.06h-1zM187.5 439.59h1v4.06h-1zM187.5 468.13h1v4.06h-1zM188.5 439.59h1v4.06h-1zM190.5 411.05h1v4.06h-1zM192.5 453.86h1v4.06h-1zM195.6 411.05h1v4.06h-1zM197.6 458.62h1v4.06h-1zM198.6 487.16h1v4.06h-1zM201.6 411.05h1v4.06h-1zM203.6 420.56h1v4.06h-1zM209.6 434.84h1v4.06h-1zM214.7 420.56h1v4.06h-1zM214.7 482.40h1v4.06h-1zM215.7 425.32h1v4.06h-1zM215.7 472.89h1v4.06h-1zM216.7 425.32h1v4.06h-1zM217.7 425.32h1v4.06h-1zM219.7 506.19h1v4.06h-1zM220.7 430.08h1v4.06h-1zM221.7 430.08h1v4.06h-1zM223.7 496.68h1v4.06h-1zM224.7 434.84h1v4.06h-1zM225.7 501.43h1v4.06h-1zM226.7 434.84h1v4.06h-1zM230.7 439.59h1v4.06h-1zM232.7 510.95h1v4.06h-1zM233.7 444.35h1v4.06h-1zM235.8 487.16h1v4.06h-1zM236.8 453.86h1v4.06h-1zM237.8 458.62h1v4.06h-1zM237.8 491.92h1v4.06h-1zM239.8 458.62h1v4.06h-1zM242.8 496.68h1v4.06h-1zM245.8 487.16h1v4.06h-1z" fill="#5a94d0"/>
<path d="M41.8 463.38h1v4.06h-1zM43.8 449.11h1v4.06h-1zM46.8 411.05h1v4.06h-1zM52.9 415.81h1v4.06h-1zM58.9 411.05h1v4.06h-1zM59.9 434.84h1v4.06h-1zM59.9 472.89h1v4.06h-1zM59.9 515.70h1v4.06h-1zM66.9 458.62h1v4.06h-1zM69.9 506.19h1v4.06h-1zM71.9 463.38h1v4.06h-1zM73.0 411.05h1v4.06h-1zM79.0 444.35h1v4.06h-1zM82.0 411.05h1v4.06h-1zM83.0 468.13h1v4.06h-1zM87.0 510.95h1v4.06h-1zM89.0 415.81h1v4.06h-1zM92.0 515.70h1v4.06h-1zM105.1 425.32h1v4.06h-1zM114.2 496.68h1v4.06h-1zM120.2 491.92h1v4.06h-1zM120.2 506.19h1v4.06h-1zM123.2 439.59h1v4.06h-1zM134.3 491.92h1v4.06h-1zM139.3 506.19h1v4.06h-1zM167.4 434.84h1v4.06h-1zM168.4 411.05h1v4.06h-1zM169.4 415.81h1v4.06h-1zM169.4 491.92h1v4.06h-1zM170.4 430.08h1v4.06h-1zM170.4 482.40h1v4.06h-1zM170.4 496.68h1v4.06h-1zM173.4 463.38h1v4.06h-1zM174.5 477.65h1v4.06h-1zM175.5 472.89h1v4.06h-1zM175.5 487.16h1v4.06h-1zM176.5 487.16h1v4.06h-1zM182.5 430.08h1v4.06h-1zM182.5 506.19h1v4.06h-1zM183.5 411.05h1v4.06h-1zM184.5 434.84h1v4.06h-1zM185.5 439.59h1v4.06h-1zM188.5 453.86h1v4.06h-1zM198.6 458.62h1v4.06h-1zM198.6 496.68h1v4.06h-1zM200.6 468.13h1v4.06h-1zM204.6 430.08h1v4.06h-1zM207.6 415.81h1v4.06h-1zM207.6 487.16h1v4.06h-1zM211.6 477.65h1v4.06h-1zM214.7 491.92h1v4.06h-1zM214.7 506.19h1v4.06h-1zM217.7 477.65h1v4.06h-1zM217.7 506.19h1v4.06h-1zM220.7 468.13h1v4.06h-1zM228.7 439.59h1v4.06h-1zM229.7 468.13h1v4.06h-1zM240.8 463.38h1v4.06h-1zM243.8 477.65h1v4.06h-1zM246.8 515.70h1v4.06h-1z" fill="#f0a49a"/>
<path d="M41.8 506.19h1v4.06h-1zM42.8 496.68h1v4.06h-1zM44.8 458.62h1v4.06h-1zM44.8 487.16h1v4.06h-1zM45.8 425.32h1v4.06h-1zM45.8 477.65h1v4.06h-1zM46.8 510.95h1v4.06h-1zM47.8 434.84h1v4.06h-1zM48.8 487.16h1v4.06h-1zM50.8 468.13h1v4.06h-1zM51.8 434.84h1v4.06h-1zM51.8 487.16h1v4.06h-1zM52.9 439.59h1v4.06h-1zM53.9 491.92h1v4.06h-1zM54.9 430.08h1v4.06h-1zM55.9 430.08h1v4.06h-1zM56.9 434.84h1v4.06h-1zM56.9 439.59h1v4.06h-1zM56.9 515.70h1v4.06h-1zM57.9 411.05h1v4.06h-1zM57.9 501.43h1v4.06h-1zM58.9 510.95h1v4.06h-1zM58.9 515.70h1v4.06h-1zM59.9 430.08h1v4.06h-1zM59.9 477.65h1v4.06h-1zM59.9 506.19h1v4.06h-1zM60.9 411.05h1v4.06h-1zM62.9 430.08h1v4.06h-1zM64.9 439.59h1v4.06h-1zM64.9 506.19h1v4.06h-1zM66.9 463.38h1v4.06h-1zM67.9 449.11h1v4.06h-1zM67.9 487.16h1v4.06h-1zM68.9 430.08h1v4.06h-1zM68.9 444.35h1v4.06h-1zM70.9 487.16h1v4.06h-1zM74.0 434.84h1v4.06h-1zM74.0 444.35h1v4.06h-1zM74.0 482.40h1v4.06h-1zM74.0 506.19h1v4.06h-1zM77.0 477.65h1v4.06h-1zM79.0 411.05h1v4.06h-1zM79.0 449.11h1v4.06h-1zM80.0 444.35h1v4.06h-1zM80.0 515.70h1v4.06h-1zM81.0 477.65h1v4.06h-1zM81.0 482.40h1v4.06h-1zM81.0 510.95h1v4.06h-1zM84.0 468.13h1v4.06h-1zM85.0 491.92h1v4.06h-1zM86.0 468.13h1v4.06h-1zM90.0 491.92h1v4.06h-1zM90.0 496.68h1v4.06h-1zM91.0 453.86h1v4.06h-1zM92.0 453.86h1v4.06h-1zM93.1 487.16h1v4.06h-1zM94.1 449.11h1v4.06h-1zM94.1 477.65h1v4.06h-1zM95.1 415.81h1v4.06h-1zM96.1 449.11h1v4.06h-1zM98.1 468.13h1v4.06h-1zM100.1 434.84h1v4.06h-1zM100.1 463.38h1v4.06h-1zM101.1 458.62h1v4.06h-1zM102.1 453.86h1v4.06h-1zM103.1 420.56h1v4.06h-1zM104.1 434.84h1v4.06h-1zM104.1 472.89h1v4.06h-1zM105.1 482.40h1v4.06h-1zM106.1 420.56h1v4.06h-1zM107.1 487.16h1v4.06h-1zM108.1 420.56h1v4.06h-1zM111.1 487.16h1v4.06h-1zM111.1 501.43h1v4.06h-1zM111.1 515.70h1v4.06h-1zM112.1 515.70h1v4.06h-1zM113.2 458.62h1v4.06h-1zM115.2 453.86h1v4.06h-1zM117.2 515.70h1v4.06h-1zM118.2 482.40h1v4.06h-1zM120.2 444.35h1v4.06h-1zM122.2 449.11h1v4.06h-1zM123.2 453.86h1v4.06h-1zM124.2 439.59h1v4.06h-1zM124.2 515.70h1v4.06h-1zM125.2 453.86h1v4.06h-1zM125.2 491.92h1v4.06h-1zM127.2 458.62h1v4.06h-1zM128.2 468.13h1v4.06h-1zM129.2 458.62h1v4.06h-1zM129.2 472.89h1v4.06h-1zM130.2 491.92h1v4.06h-1zM135.3 491.92h1v4.06h-1zM135.3 510.95h1v4.06h-1zM137.3 506.19h1v4.06h-1zM138.3 491.92h1v4.06h-1zM138.3 515.70h1v4.06h-1zM141.3 506.19h1v4.06h-1zM164.4 506.19h1v4.06h-1zM165.4 491.92h1v4.06h-1zM167.4 472.89h1v4.06h-1zM167.4 491.92h1v4.06h-1zM168.4 468.13h1v4.06h-1zM169.4 411.05h1v4.06h-1zM170.4 501.43h1v4.06h-1zM171.4 510.95h1v4.06h-1zM172.4 430.08h1v4.06h-1zM172.4 458.62h1v4.06h-1zM173.4 411.05h1v4.06h-1zM173.4 439.59h1v4.06h-1zM173.4 491.92h1v4.06h-1zM175.5 439.59h1v4.06h-1zM175.5 444.35h1v4.06h-1zM176.5 434.84h1v4.06h-1zM176.5 453.86h1v4.06h-1zM177.5 411.05h1v4.06h-1zM177.5 506.19h1v4.06h-1zM178.5 425.32h1v4.06h-1zM178.5 430.08h1v4.06h-1zM178.5 434.84h1v4.06h-1zM178.5 439.59h1v4.06h-1zM178.5 472.89h1v4.06h-1zM179.5 411.05h1v4.06h-1zM180.5 482.40h1v4.06h-1zM181.5 468.13h1v4.06h-1zM183.5 496.68h1v4.06h-1zM186.5 487.16h1v4.06h-1zM187.5 482.40h1v4.06h-1zM188.5 411.05h1v4.06h-1zM189.5 411.05h1v4.06h-1zM191.5 411.05h1v4.06h-1zM191.5 444.35h1v4.06h-1zM192.5 458.62h1v4.06h-1zM194.6 411.05h1v4.06h-1zM194.6 453.86h1v4.06h-1zM195.6 501.43h1v4.06h-1zM195.6 510.95h1v4.06h-1zM197.6 501.43h1v4.06h-1zM200.6 463.38h1v4.06h-1zM201.6 472.89h1v4.06h-1zM201.6 477.65h1v4.06h-1zM203.6 487.16h1v4.06h-1zM203.6 491.92h1v4.06h-1zM204.6 482.40h1v4.06h-1zM205.6 510.95h1v4.06h-1zM206.6 477.65h1v4.06h-1zM207.6 444.35h1v4.06h-1zM207.6 515.70h1v4.06h-1zM208.6 453.86h1v4.06h-1zM208.6 468.13h1v4.06h-1zM209.6 430.08h1v4.06h-1zM210.6 420.56h1v4.06h-1zM210.6 501.43h1v4.06h-1zM212.6 463.38h1v4.06h-1zM213.6 420.56h1v4.06h-1zM214.7 425.32h1v4.06h-1zM214.7 468.13h1v4.06h-1zM216.7 506.19h1v4.06h-1zM217.7 449.11h1v4.06h-1zM219.7 510.95h1v4.06h-1zM221.7 487.16h1v4.06h-1zM221.7 506.19h1v4.06h-1zM222.7 430.08h1v4.06h-1zM222.7 449.11h1v4.06h-1zM225.7 439.59h1v4.06h-1zM225.7 463.38h1v4.06h-1zM226.7 487.16h1v4.06h-1zM227.7 434.84h1v4.06h-1zM227.7 482.40h1v4.06h-1zM227.7 496.68h1v4.06h-1zM229.7 439.59h1v4.06h-1zM229.7 463.38h1v4.06h-1zM229.7 487.16h1v4.06h-1zM233.7 487.16h1v4.06h-1zM233.7 501.43h1v4.06h-1zM239.8 468.13h1v4.06h-1zM239.8 491.92h1v4.06h-1zM241.8 482.40h1v4.06h-1zM242.8 482.40h1v4.06h-1zM243.8 487.16h1v4.06h-1zM244.8 496.68h1v4.06h-1z" fill="#a9c9e8"/>
<path d="M42.8 491.92h1v4.06h-1zM50.8 515.70h1v4.06h-1zM77.0 472.89h1v4.06h-1zM79.0 501.43h1v4.06h-1zM83.0 472.89h1v4.06h-1zM171.4 496.68h1v4.06h-1zM186.5 491.92h1v4.06h-1z" fill="#9b8fc4"/>
<path d="M43.8 411.05h1v4.06h-1zM43.8 415.81h1v4.06h-1zM46.8 415.81h1v4.06h-1zM49.8 411.05h1v4.06h-1zM50.8 415.81h1v4.06h-1zM55.9 420.56h1v4.06h-1zM56.9 411.05h1v4.06h-1zM56.9 420.56h1v4.06h-1zM58.9 420.56h1v4.06h-1zM59.9 411.05h1v4.06h-1zM61.9 411.05h1v4.06h-1zM61.9 425.32h1v4.06h-1zM64.9 411.05h1v4.06h-1zM65.9 430.08h1v4.06h-1zM66.9 430.08h1v4.06h-1zM67.9 411.05h1v4.06h-1zM70.9 411.05h1v4.06h-1zM71.9 434.84h1v4.06h-1zM73.0 434.84h1v4.06h-1zM74.0 411.05h1v4.06h-1zM76.0 411.05h1v4.06h-1zM77.0 439.59h1v4.06h-1zM78.0 411.05h1v4.06h-1zM81.0 449.11h1v4.06h-1zM83.0 411.05h1v4.06h-1zM84.0 411.05h1v4.06h-1zM85.0 458.62h1v4.06h-1zM86.0 411.05h1v4.06h-1zM87.0 411.05h1v4.06h-1zM87.0 463.38h1v4.06h-1zM90.0 415.81h1v4.06h-1zM93.1 415.81h1v4.06h-1zM96.1 415.81h1v4.06h-1zM100.1 415.81h1v4.06h-1zM107.1 420.56h1v4.06h-1zM109.1 420.56h1v4.06h-1zM111.1 425.32h1v4.06h-1zM113.2 425.32h1v4.06h-1zM115.2 430.08h1v4.06h-1zM119.2 434.84h1v4.06h-1zM125.2 444.35h1v4.06h-1zM126.2 444.35h1v4.06h-1zM127.2 449.11h1v4.06h-1zM128.2 449.11h1v4.06h-1zM132.2 463.38h1v4.06h-1zM133.3 468.13h1v4.06h-1zM137.3 487.16h1v4.06h-1zM140.3 501.43h1v4.06h-1zM164.4 411.05h1v4.06h-1zM164.4 415.81h1v4.06h-1zM165.4 411.05h1v4.06h-1zM165.4 415.81h1v4.06h-1zM167.4 411.05h1v4.06h-1zM167.4 415.81h1v4.06h-1zM171.4 411.05h1v4.06h-1zM171.4 420.56h1v4.06h-1zM172.4 420.56h1v4.06h-1zM174.5 425.32h1v4.06h-1zM175.5 411.05h1v4.06h-1zM175.5 425.32h1v4.06h-1zM176.5 425.32h1v4.06h-1zM179.5 425.32h1v4.06h-1zM181.5 430.08h1v4.06h-1zM184.5 411.05h1v4.06h-1zM185.5 434.84h1v4.06h-1zM186.5 434.84h1v4.06h-1zM189.5 439.59h1v4.06h-1zM192.5 411.05h1v4.06h-1zM193.5 411.05h1v4.06h-1zM194.6 449.11h1v4.06h-1zM196.6 453.86h1v4.06h-1zM199.6 411.05h1v4.06h-1zM199.6 463.38h1v4.06h-1zM200.6 411.05h1v4.06h-1zM206.6 415.81h1v4.06h-1zM208.6 415.81h1v4.06h-1zM209.6 420.56h1v4.06h-1zM212.6 420.56h1v4.06h-1zM218.7 425.32h1v4.06h-1zM219.7 425.32h1v4.06h-1zM223.7 430.08h1v4.06h-1zM231.7 444.35h1v4.06h-1zM232.7 444.35h1v4.06h-1zM234.8 449.11h1v4.06h-1zM235.8 449.11h1v4.06h-1zM237.8 453.86h1v4.06h-1zM238.8 458.62h1v4.06h-1zM241.8 468.13h1v4.06h-1zM246.8 491.92h1v4.06h-1zM247.8 496.68h1v4.06h-1zM248.8 501.43h1v4.06h-1z" fill="#6aa3d8"/>
<path d="M43.8 444.35h1v4.06h-1zM44.8 425.32h1v4.06h-1zM45.8 449.11h1v4.06h-1zM47.8 430.08h1v4.06h-1zM48.8 430.08h1v4.06h-1zM56.9 501.43h1v4.06h-1zM61.9 506.19h1v4.06h-1zM62.9 487.16h1v4.06h-1zM64.9 496.68h1v4.06h-1zM71.9 453.86h1v4.06h-1zM81.0 453.86h1v4.06h-1zM92.0 420.56h1v4.06h-1zM93.1 506.19h1v4.06h-1zM95.1 496.68h1v4.06h-1zM105.1 506.19h1v4.06h-1zM117.2 501.43h1v4.06h-1zM125.2 482.40h1v4.06h-1zM184.5 453.86h1v4.06h-1zM191.5 468.13h1v4.06h-1zM193.5 491.92h1v4.06h-1zM205.6 420.56h1v4.06h-1zM206.6 458.62h1v4.06h-1zM206.6 501.43h1v4.06h-1zM209.6 482.40h1v4.06h-1zM211.6 482.40h1v4.06h-1zM214.7 463.38h1v4.06h-1zM214.7 472.89h1v4.06h-1zM216.7 430.08h1v4.06h-1zM222.7 487.16h1v4.06h-1zM231.7 468.13h1v4.06h-1zM233.7 449.11h1v4.06h-1z" fill="#c6dbef"/>
<path d="M43.8 501.43h1v4.06h-1zM47.8 463.38h1v4.06h-1zM48.8 472.89h1v4.06h-1zM52.9 425.32h1v4.06h-1zM56.9 468.13h1v4.06h-1zM58.9 491.92h1v4.06h-1zM70.9 434.84h1v4.06h-1zM70.9 463.38h1v4.06h-1zM73.0 515.70h1v4.06h-1zM77.0 453.86h1v4.06h-1zM78.0 444.35h1v4.06h-1zM79.0 506.19h1v4.06h-1zM80.0 482.40h1v4.06h-1zM84.0 506.19h1v4.06h-1zM86.0 491.92h1v4.06h-1zM89.0 463.38h1v4.06h-1zM91.0 415.81h1v4.06h-1zM97.1 472.89h1v4.06h-1zM102.1 468.13h1v4.06h-1zM108.1 510.95h1v4.06h-1zM111.1 506.19h1v4.06h-1zM117.2 453.86h1v4.06h-1zM121.2 434.84h1v4.06h-1zM130.2 472.89h1v4.06h-1zM167.4 453.86h1v4.06h-1zM174.5 430.08h1v4.06h-1zM177.5 472.89h1v4.06h-1zM189.5 449.11h1v4.06h-1zM192.5 444.35h1v4.06h-1zM193.5 449.11h1v4.06h-1zM210.6 472.89h1v4.06h-1zM215.7 515.70h1v4.06h-1zM222.7 510.95h1v4.06h-1zM241.8 510.95h1v4.06h-1zM242.8 472.89h1v4.06h-1z" fill="#f4c08e"/>
<path d="M41.8 410.70H287M41.8 415.46H287M41.8 420.21H287M41.8 424.97H287M41.8 429.73H287M41.8 434.49H287M41.8 439.24H287M41.8 444.00H287M41.8 448.76H287M41.8 453.51H287M41.8 458.27H287M41.8 463.03H287M41.8 467.78H287M41.8 472.54H287M41.8 477.30H287M41.8 482.05H287M41.8 486.81H287M41.8 491.57H287M41.8 496.33H287M41.8 501.08H287M41.8 505.84H287M41.8 510.60H287M41.8 515.35H287M41.8 520.11H287M41.80 410.7V520.11M43.90 410.7V520.11M46.00 410.7V520.11M48.10 410.7V520.11M50.20 410.7V520.11M52.30 410.7V520.11M54.40 410.7V520.11M56.50 410.7V520.11M58.60 410.7V520.11M60.70 410.7V520.11M62.80 410.7V520.11M64.90 410.7V520.11M67.00 410.7V520.11M69.10 410.7V520.11M71.20 410.7V520.11M73.30 410.7V520.11M75.40 410.7V520.11M77.50 410.7V520.11M79.60 410.7V520.11M81.70 410.7V520.11M83.80 410.7V520.11M85.90 410.7V520.11M88.00 410.7V520.11M90.10 410.7V520.11M92.20 410.7V520.11M94.30 410.7V520.11M96.40 410.7V520.11M98.50 410.7V520.11M100.60 410.7V520.11M102.70 410.7V520.11M104.80 410.7V520.11M106.90 410.7V520.11M109.00 410.7V520.11M111.10 410.7V520.11M113.20 410.7V520.11M115.30 410.7V520.11M117.40 410.7V520.11M119.50 410.7V520.11M121.60 410.7V520.11M123.70 410.7V520.11M125.80 410.7V520.11M127.90 410.7V520.11M130.00 410.7V520.11M132.10 410.7V520.11M134.20 410.7V520.11M136.30 410.7V520.11M138.40 410.7V520.11M140.50 410.7V520.11M142.60 410.7V520.11M144.70 410.7V520.11M146.80 410.7V520.11M148.90 410.7V520.11M151.00 410.7V520.11M153.10 410.7V520.11M155.20 410.7V520.11M157.30 410.7V520.11M159.40 410.7V520.11M161.50 410.7V520.11M163.60 410.7V520.11M165.70 410.7V520.11M167.80 410.7V520.11M169.90 410.7V520.11M172.00 410.7V520.11M174.10 410.7V520.11M176.20 410.7V520.11M178.30 410.7V520.11M180.40 410.7V520.11M182.50 410.7V520.11M184.60 410.7V520.11M186.70 410.7V520.11M188.80 410.7V520.11M190.90 410.7V520.11M193.00 410.7V520.11M195.10 410.7V520.11M197.20 410.7V520.11M199.30 410.7V520.11M201.40 410.7V520.11M203.50 410.7V520.11M205.60 410.7V520.11M207.70 410.7V520.11M209.80 410.7V520.11M211.90 410.7V520.11M214.00 410.7V520.11M216.10 410.7V520.11M218.20 410.7V520.11M220.30 410.7V520.11M222.40 410.7V520.11M224.50 410.7V520.11M226.60 410.7V520.11M228.70 410.7V520.11M230.80 410.7V520.11M232.90 410.7V520.11M235.00 410.7V520.11M237.10 410.7V520.11M239.20 410.7V520.11M241.30 410.7V520.11M243.40 410.7V520.11M245.50 410.7V520.11M247.60 410.7V520.11M249.70 410.7V520.11M251.80 410.7V520.11M253.90 410.7V520.11M256.00 410.7V520.11M258.10 410.7V520.11M260.20 410.7V520.11M262.30 410.7V520.11M264.40 410.7V520.11M266.50 410.7V520.11M268.60 410.7V520.11M270.70 410.7V520.11M272.80 410.7V520.11M274.90 410.7V520.11M277.00 410.7V520.11M279.10 410.7V520.11M281.20 410.7V520.11M283.30 410.7V520.11M285.40 410.7V520.11" stroke="#ffffff" stroke-width="0.45" fill="none" opacity="0.9"/>
<path d="M41.8 388.5h0.85V393.9h-0.85zM42.8 389.7h0.85V394.7h-0.85zM43.8 396.1h0.85V397.7h-0.85zM44.8 396.2h0.85V398.5h-0.85zM45.8 389.0h0.85V395.5h-0.85zM46.8 387.9h0.85V395.4h-0.85zM47.8 383.6h0.85V394.7h-0.85zM48.8 388.5h0.85V391.3h-0.85zM49.8 389.0h0.85V396.3h-0.85zM50.8 380.2h0.85V390.5h-0.85zM51.8 391.9h0.85V396.0h-0.85zM52.9 380.1h0.85V388.7h-0.85zM53.9 381.7h0.85V394.0h-0.85zM54.9 394.8h0.85V396.6h-0.85zM55.9 388.5h0.85V392.5h-0.85zM56.9 382.7h0.85V393.4h-0.85zM57.9 392.6h0.85V397.1h-0.85zM58.9 389.2h0.85V395.8h-0.85zM59.9 377.2h0.85V381.7h-0.85zM60.9 396.8h0.85V398.5h-0.85zM61.9 390.4h0.85V394.4h-0.85zM62.9 391.9h0.85V394.9h-0.85zM63.9 391.6h0.85V394.7h-0.85zM64.9 392.8h0.85V395.3h-0.85zM65.9 392.7h0.85V396.4h-0.85zM66.9 395.9h0.85V398.3h-0.85zM67.9 396.4h0.85V398.7h-0.85zM68.9 383.1h0.85V388.5h-0.85zM69.9 379.1h0.85V388.9h-0.85zM70.9 392.0h0.85V396.7h-0.85zM71.9 391.7h0.85V396.5h-0.85zM73.0 391.6h0.85V396.8h-0.85zM74.0 388.4h0.85V394.0h-0.85zM75.0 394.2h0.85V396.3h-0.85zM76.0 388.9h0.85V396.4h-0.85zM77.0 396.8h0.85V398.1h-0.85zM78.0 389.2h0.85V396.7h-0.85zM79.0 392.8h0.85V396.8h-0.85zM80.0 393.1h0.85V395.8h-0.85zM81.0 388.4h0.85V394.8h-0.85zM82.0 393.9h0.85V397.6h-0.85zM83.0 372.3h0.85V385.9h-0.85zM84.0 395.9h0.85V398.6h-0.85zM85.0 398.9h0.85V399.6h-0.85zM86.0 394.7h0.85V396.6h-0.85zM87.0 393.3h0.85V397.3h-0.85zM88.0 391.5h0.85V396.9h-0.85zM89.0 387.9h0.85V392.8h-0.85zM90.0 396.5h0.85V399.0h-0.85zM91.0 394.4h0.85V396.8h-0.85zM92.0 394.3h0.85V396.8h-0.85zM93.1 392.7h0.85V395.7h-0.85zM94.1 389.3h0.85V392.8h-0.85zM95.1 397.4h0.85V398.7h-0.85zM96.1 392.6h0.85V395.4h-0.85zM97.1 395.6h0.85V397.4h-0.85zM98.1 396.0h0.85V398.0h-0.85zM99.1 390.7h0.85V397.1h-0.85zM100.1 392.5h0.85V396.9h-0.85zM101.1 394.7h0.85V396.8h-0.85zM102.1 396.7h0.85V398.6h-0.85zM103.1 396.1h0.85V398.3h-0.85zM104.1 393.5h0.85V396.2h-0.85zM105.1 395.5h0.85V397.7h-0.85zM106.1 395.0h0.85V397.3h-0.85zM107.1 398.3h0.85V399.2h-0.85zM108.1 395.0h0.85V397.7h-0.85zM109.1 397.6h0.85V399.4h-0.85zM110.1 392.3h0.85V397.2h-0.85zM111.1 396.1h0.85V398.2h-0.85zM112.1 396.9h0.85V399.1h-0.85zM113.2 398.2h0.85V399.1h-0.85zM114.2 396.2h0.85V397.9h-0.85zM115.2 398.4h0.85V399.8h-0.85zM116.2 397.1h0.85V399.4h-0.85zM117.2 396.3h0.85V398.7h-0.85zM118.2 395.3h0.85V397.8h-0.85zM119.2 399.4h0.85V399.9h-0.85zM120.2 398.3h0.85V399.2h-0.85zM121.2 397.9h0.85V399.8h-0.85zM122.2 399.4h0.85V400.0h-0.85zM123.2 396.1h0.85V398.1h-0.85zM124.2 398.5h0.85V399.7h-0.85zM125.2 398.0h0.85V399.6h-0.85zM126.2 399.1h0.85V399.6h-0.85zM127.2 398.1h0.85V399.7h-0.85zM128.2 398.6h0.85V399.6h-0.85zM129.2 398.3h0.85V399.2h-0.85zM130.2 398.3h0.85V399.4h-0.85zM131.2 398.7h0.85V399.7h-0.85zM132.2 398.3h0.85V399.3h-0.85zM133.3 396.5h0.85V397.8h-0.85zM134.3 400.0h0.85V400.4h-0.85zM135.3 398.0h0.85V399.1h-0.85zM136.3 397.9h0.85V399.2h-0.85zM137.3 399.2h0.85V399.9h-0.85zM138.3 396.1h0.85V398.5h-0.85zM139.3 397.1h0.85V399.4h-0.85zM140.3 398.7h0.85V400.0h-0.85zM141.3 397.7h0.85V399.2h-0.85zM164.4 372.3h0.85V381.1h-0.85zM165.4 385.2h0.85V392.1h-0.85zM166.4 390.7h0.85V393.3h-0.85zM167.4 387.4h0.85V393.8h-0.85zM168.4 395.4h0.85V397.4h-0.85zM169.4 394.1h0.85V398.6h-0.85zM170.4 395.1h0.85V398.5h-0.85zM171.4 393.3h0.85V396.1h-0.85zM172.4 397.3h0.85V399.4h-0.85zM173.4 392.8h0.85V396.6h-0.85zM174.5 397.5h0.85V398.2h-0.85zM175.5 390.2h0.85V395.9h-0.85zM176.5 396.6h0.85V397.9h-0.85zM177.5 394.2h0.85V395.9h-0.85zM178.5 384.0h0.85V394.5h-0.85zM179.5 395.9h0.85V399.1h-0.85zM180.5 389.8h0.85V393.2h-0.85zM181.5 392.5h0.85V396.3h-0.85zM182.5 395.9h0.85V397.8h-0.85zM183.5 395.7h0.85V398.8h-0.85zM184.5 393.5h0.85V398.1h-0.85zM185.5 396.8h0.85V398.1h-0.85zM186.5 397.5h0.85V399.3h-0.85zM187.5 396.7h0.85V398.6h-0.85zM188.5 390.2h0.85V397.2h-0.85zM189.5 395.5h0.85V398.6h-0.85zM190.5 395.9h0.85V397.4h-0.85zM191.5 394.0h0.85V397.2h-0.85zM192.5 391.8h0.85V394.8h-0.85zM193.5 397.9h0.85V399.6h-0.85zM194.6 396.1h0.85V397.9h-0.85zM195.6 382.0h0.85V389.4h-0.85zM196.6 396.1h0.85V397.6h-0.85zM197.6 394.2h0.85V397.4h-0.85zM198.6 395.3h0.85V398.0h-0.85zM199.6 392.3h0.85V395.1h-0.85zM200.6 395.3h0.85V397.6h-0.85zM201.6 391.6h0.85V395.3h-0.85zM202.6 395.3h0.85V398.0h-0.85zM203.6 393.2h0.85V396.2h-0.85zM204.6 395.1h0.85V396.8h-0.85zM205.6 390.2h0.85V394.5h-0.85zM206.6 389.4h0.85V396.3h-0.85zM207.6 394.5h0.85V398.3h-0.85zM208.6 395.3h0.85V398.5h-0.85zM209.6 398.3h0.85V399.4h-0.85zM210.6 397.7h0.85V399.3h-0.85zM211.6 398.0h0.85V398.9h-0.85zM212.6 394.7h0.85V397.3h-0.85zM213.6 398.7h0.85V399.9h-0.85zM214.7 398.9h0.85V399.8h-0.85zM215.7 397.8h0.85V399.3h-0.85zM216.7 398.6h0.85V399.4h-0.85zM217.7 395.5h0.85V397.1h-0.85zM218.7 398.8h0.85V399.5h-0.85zM219.7 396.0h0.85V398.3h-0.85zM220.7 396.3h0.85V397.0h-0.85zM221.7 397.3h0.85V398.5h-0.85zM222.7 396.7h0.85V398.0h-0.85zM223.7 398.1h0.85V398.8h-0.85zM224.7 396.5h0.85V397.6h-0.85zM225.7 397.0h0.85V399.0h-0.85zM226.7 399.1h0.85V399.6h-0.85zM227.7 398.8h0.85V399.4h-0.85zM228.7 399.4h0.85V399.8h-0.85zM229.7 398.3h0.85V399.8h-0.85zM230.7 399.2h0.85V400.1h-0.85zM231.7 399.3h0.85V400.1h-0.85zM232.7 397.2h0.85V399.6h-0.85zM233.7 397.0h0.85V399.0h-0.85zM234.8 399.4h0.85V399.7h-0.85zM235.8 399.0h0.85V399.6h-0.85zM236.8 397.0h0.85V399.0h-0.85zM237.8 396.0h0.85V398.4h-0.85zM238.8 395.5h0.85V397.6h-0.85zM239.8 396.7h0.85V398.1h-0.85zM240.8 396.3h0.85V398.7h-0.85zM241.8 399.9h0.85V400.3h-0.85zM242.8 395.4h0.85V398.2h-0.85zM243.8 398.7h0.85V399.4h-0.85zM244.8 398.3h0.85V399.1h-0.85zM245.8 396.3h0.85V398.8h-0.85zM246.8 399.0h0.85V399.7h-0.85zM247.8 397.8h0.85V399.5h-0.85zM248.8 399.8h0.85V400.4h-0.85z" fill="#a6cbea"/>
<path d="M41.8 393.9h0.85V400.7h-0.85zM42.8 394.7h0.85V400.7h-0.85zM43.8 397.7h0.85V400.7h-0.85zM44.8 398.5h0.85V400.7h-0.85zM45.8 395.5h0.85V400.7h-0.85zM46.8 395.4h0.85V400.7h-0.85zM47.8 394.7h0.85V400.7h-0.85zM48.8 391.3h0.85V400.7h-0.85zM49.8 396.3h0.85V400.7h-0.85zM50.8 390.5h0.85V400.7h-0.85zM51.8 396.0h0.85V400.7h-0.85zM52.9 388.7h0.85V400.7h-0.85zM53.9 394.0h0.85V400.7h-0.85zM54.9 396.6h0.85V400.7h-0.85zM55.9 392.5h0.85V400.7h-0.85zM56.9 393.4h0.85V400.7h-0.85zM57.9 397.1h0.85V400.7h-0.85zM58.9 395.8h0.85V400.7h-0.85zM59.9 381.7h0.85V400.7h-0.85zM60.9 398.5h0.85V400.7h-0.85zM61.9 394.4h0.85V400.7h-0.85zM62.9 394.9h0.85V400.7h-0.85zM63.9 394.7h0.85V400.7h-0.85zM64.9 395.3h0.85V400.7h-0.85zM65.9 396.4h0.85V400.7h-0.85zM66.9 398.3h0.85V400.7h-0.85zM67.9 398.7h0.85V400.7h-0.85zM68.9 388.5h0.85V400.7h-0.85zM69.9 388.9h0.85V400.7h-0.85zM70.9 396.7h0.85V400.7h-0.85zM71.9 396.5h0.85V400.7h-0.85zM73.0 396.8h0.85V400.7h-0.85zM74.0 394.0h0.85V400.7h-0.85zM75.0 396.3h0.85V400.7h-0.85zM76.0 396.4h0.85V400.7h-0.85zM77.0 398.1h0.85V400.7h-0.85zM78.0 396.7h0.85V400.7h-0.85zM79.0 396.8h0.85V400.7h-0.85zM80.0 395.8h0.85V400.7h-0.85zM81.0 394.8h0.85V400.7h-0.85zM82.0 397.6h0.85V400.7h-0.85zM83.0 385.9h0.85V400.7h-0.85zM84.0 398.6h0.85V400.7h-0.85zM85.0 399.6h0.85V400.7h-0.85zM86.0 396.6h0.85V400.7h-0.85zM87.0 397.3h0.85V400.7h-0.85zM88.0 396.9h0.85V400.7h-0.85zM89.0 392.8h0.85V400.7h-0.85zM90.0 399.0h0.85V400.7h-0.85zM91.0 396.8h0.85V400.7h-0.85zM92.0 396.8h0.85V400.7h-0.85zM93.1 395.7h0.85V400.7h-0.85zM94.1 392.8h0.85V400.7h-0.85zM95.1 398.7h0.85V400.7h-0.85zM96.1 395.4h0.85V400.7h-0.85zM97.1 397.4h0.85V400.7h-0.85zM98.1 398.0h0.85V400.7h-0.85zM99.1 397.1h0.85V400.7h-0.85zM100.1 396.9h0.85V400.7h-0.85zM101.1 396.8h0.85V400.7h-0.85zM102.1 398.6h0.85V400.7h-0.85zM103.1 398.3h0.85V400.7h-0.85zM104.1 396.2h0.85V400.7h-0.85zM105.1 397.7h0.85V400.7h-0.85zM106.1 397.3h0.85V400.7h-0.85zM107.1 399.2h0.85V400.7h-0.85zM108.1 397.7h0.85V400.7h-0.85zM109.1 399.4h0.85V400.7h-0.85zM110.1 397.2h0.85V400.7h-0.85zM111.1 398.2h0.85V400.7h-0.85zM112.1 399.1h0.85V400.7h-0.85zM113.2 399.1h0.85V400.7h-0.85zM114.2 397.9h0.85V400.7h-0.85zM115.2 399.8h0.85V400.7h-0.85zM116.2 399.4h0.85V400.7h-0.85zM117.2 398.7h0.85V400.7h-0.85zM118.2 397.8h0.85V400.7h-0.85zM119.2 399.9h0.85V400.7h-0.85zM120.2 399.2h0.85V400.7h-0.85zM121.2 399.8h0.85V400.7h-0.85zM122.2 400.0h0.85V400.7h-0.85zM123.2 398.1h0.85V400.7h-0.85zM124.2 399.7h0.85V400.7h-0.85zM125.2 399.6h0.85V400.7h-0.85zM126.2 399.6h0.85V400.7h-0.85zM127.2 399.7h0.85V400.7h-0.85zM128.2 399.6h0.85V400.7h-0.85zM129.2 399.2h0.85V400.7h-0.85zM130.2 399.4h0.85V400.7h-0.85zM131.2 399.7h0.85V400.7h-0.85zM132.2 399.3h0.85V400.7h-0.85zM133.3 397.8h0.85V400.7h-0.85zM134.3 400.4h0.85V400.7h-0.85zM135.3 399.1h0.85V400.7h-0.85zM136.3 399.2h0.85V400.7h-0.85zM137.3 399.9h0.85V400.7h-0.85zM138.3 398.5h0.85V400.7h-0.85zM139.3 399.4h0.85V400.7h-0.85zM140.3 400.0h0.85V400.7h-0.85zM141.3 399.2h0.85V400.7h-0.85zM164.4 381.1h0.85V400.7h-0.85zM165.4 392.1h0.85V400.7h-0.85zM166.4 393.3h0.85V400.7h-0.85zM167.4 393.8h0.85V400.7h-0.85zM168.4 397.4h0.85V400.7h-0.85zM169.4 398.6h0.85V400.7h-0.85zM170.4 398.5h0.85V400.7h-0.85zM171.4 396.1h0.85V400.7h-0.85zM172.4 399.4h0.85V400.7h-0.85zM173.4 396.6h0.85V400.7h-0.85zM174.5 398.2h0.85V400.7h-0.85zM175.5 395.9h0.85V400.7h-0.85zM176.5 397.9h0.85V400.7h-0.85zM177.5 395.9h0.85V400.7h-0.85zM178.5 394.5h0.85V400.7h-0.85zM179.5 399.1h0.85V400.7h-0.85zM180.5 393.2h0.85V400.7h-0.85zM181.5 396.3h0.85V400.7h-0.85zM182.5 397.8h0.85V400.7h-0.85zM183.5 398.8h0.85V400.7h-0.85zM184.5 398.1h0.85V400.7h-0.85zM185.5 398.1h0.85V400.7h-0.85zM186.5 399.3h0.85V400.7h-0.85zM187.5 398.6h0.85V400.7h-0.85zM188.5 397.2h0.85V400.7h-0.85zM189.5 398.6h0.85V400.7h-0.85zM190.5 397.4h0.85V400.7h-0.85zM191.5 397.2h0.85V400.7h-0.85zM192.5 394.8h0.85V400.7h-0.85zM193.5 399.6h0.85V400.7h-0.85zM194.6 397.9h0.85V400.7h-0.85zM195.6 389.4h0.85V400.7h-0.85zM196.6 397.6h0.85V400.7h-0.85zM197.6 397.4h0.85V400.7h-0.85zM198.6 398.0h0.85V400.7h-0.85zM199.6 395.1h0.85V400.7h-0.85zM200.6 397.6h0.85V400.7h-0.85zM201.6 395.3h0.85V400.7h-0.85zM202.6 398.0h0.85V400.7h-0.85zM203.6 396.2h0.85V400.7h-0.85zM204.6 396.8h0.85V400.7h-0.85zM205.6 394.5h0.85V400.7h-0.85zM206.6 396.3h0.85V400.7h-0.85zM207.6 398.3h0.85V400.7h-0.85zM208.6 398.5h0.85V400.7h-0.85zM209.6 399.4h0.85V400.7h-0.85zM210.6 399.3h0.85V400.7h-0.85zM211.6 398.9h0.85V400.7h-0.85zM212.6 397.3h0.85V400.7h-0.85zM213.6 399.9h0.85V400.7h-0.85zM214.7 399.8h0.85V400.7h-0.85zM215.7 399.3h0.85V400.7h-0.85zM216.7 399.4h0.85V400.7h-0.85zM217.7 397.1h0.85V400.7h-0.85zM218.7 399.5h0.85V400.7h-0.85zM219.7 398.3h0.85V400.7h-0.85zM220.7 397.0h0.85V400.7h-0.85zM221.7 398.5h0.85V400.7h-0.85zM222.7 398.0h0.85V400.7h-0.85zM223.7 398.8h0.85V400.7h-0.85zM224.7 397.6h0.85V400.7h-0.85zM225.7 399.0h0.85V400.7h-0.85zM226.7 399.6h0.85V400.7h-0.85zM227.7 399.4h0.85V400.7h-0.85zM228.7 399.8h0.85V400.7h-0.85zM229.7 399.8h0.85V400.7h-0.85zM230.7 400.1h0.85V400.7h-0.85zM231.7 400.1h0.85V400.7h-0.85zM232.7 399.6h0.85V400.7h-0.85zM233.7 399.0h0.85V400.7h-0.85zM234.8 399.7h0.85V400.7h-0.85zM235.8 399.6h0.85V400.7h-0.85zM236.8 399.0h0.85V400.7h-0.85zM237.8 398.4h0.85V400.7h-0.85zM238.8 397.6h0.85V400.7h-0.85zM239.8 398.1h0.85V400.7h-0.85zM240.8 398.7h0.85V400.7h-0.85zM241.8 400.3h0.85V400.7h-0.85zM242.8 398.2h0.85V400.7h-0.85zM243.8 399.4h0.85V400.7h-0.85zM244.8 399.1h0.85V400.7h-0.85zM245.8 398.8h0.85V400.7h-0.85zM246.8 399.7h0.85V400.7h-0.85zM247.8 399.5h0.85V400.7h-0.85zM248.8 400.4h0.85V400.7h-0.85z" fill="#5e9bd3"/>
<path d="M42.8 387.3h0.85v2.3h-0.85zM48.8 385.5h0.85v3.0h-0.85zM49.8 386.3h0.85v2.6h-0.85zM51.8 390.1h0.85v1.8h-0.85zM55.9 385.5h0.85v3.0h-0.85zM57.9 391.8h0.85v0.9h-0.85zM59.9 372.3h0.85v4.9h-0.85zM60.9 396.5h0.85v0.3h-0.85zM61.9 388.3h0.85v2.1h-0.85zM63.9 390.3h0.85v1.3h-0.85zM64.9 391.3h0.85v1.5h-0.85zM66.9 394.8h0.85v1.1h-0.85zM67.9 395.3h0.85v1.0h-0.85zM70.9 391.2h0.85v0.8h-0.85zM75.0 393.0h0.85v1.2h-0.85zM78.0 388.6h0.85v0.7h-0.85zM79.0 391.9h0.85v0.9h-0.85zM80.0 392.0h0.85v1.1h-0.85zM84.0 395.3h0.85v0.7h-0.85zM85.0 398.6h0.85v0.3h-0.85zM88.0 390.8h0.85v0.7h-0.85zM90.0 395.9h0.85v0.7h-0.85zM92.0 392.9h0.85v1.4h-0.85zM94.1 388.1h0.85v1.3h-0.85zM103.1 395.8h0.85v0.3h-0.85zM105.1 395.0h0.85v0.5h-0.85zM106.1 394.5h0.85v0.5h-0.85zM109.1 397.4h0.85v0.2h-0.85zM110.1 390.9h0.85v1.3h-0.85zM114.2 395.4h0.85v0.8h-0.85zM115.2 398.0h0.85v0.4h-0.85zM119.2 399.2h0.85v0.2h-0.85zM126.2 399.0h0.85v0.1h-0.85zM127.2 398.0h0.85v0.2h-0.85zM129.2 398.0h0.85v0.3h-0.85zM134.3 400.0h0.85v0.0h-0.85zM166.4 389.2h0.85v1.5h-0.85zM168.4 394.6h0.85v0.8h-0.85zM171.4 392.1h0.85v1.2h-0.85zM173.4 391.4h0.85v1.5h-0.85zM174.5 396.8h0.85v0.7h-0.85zM177.5 393.8h0.85v0.4h-0.85zM179.5 395.6h0.85v0.3h-0.85zM182.5 394.8h0.85v1.1h-0.85zM184.5 392.9h0.85v0.6h-0.85zM185.5 396.1h0.85v0.7h-0.85zM187.5 396.5h0.85v0.3h-0.85zM192.5 391.1h0.85v0.7h-0.85zM199.6 391.3h0.85v1.0h-0.85zM201.6 390.3h0.85v1.3h-0.85zM203.6 392.6h0.85v0.7h-0.85zM208.6 394.8h0.85v0.5h-0.85zM212.6 394.2h0.85v0.4h-0.85zM214.7 398.5h0.85v0.3h-0.85zM215.7 397.4h0.85v0.4h-0.85zM220.7 395.3h0.85v1.0h-0.85zM221.7 397.1h0.85v0.2h-0.85zM223.7 397.7h0.85v0.4h-0.85zM224.7 395.7h0.85v0.7h-0.85zM225.7 396.4h0.85v0.6h-0.85zM227.7 398.6h0.85v0.2h-0.85zM228.7 399.1h0.85v0.3h-0.85zM234.8 399.2h0.85v0.3h-0.85zM237.8 395.4h0.85v0.6h-0.85zM241.8 399.8h0.85v0.1h-0.85zM243.8 398.3h0.85v0.4h-0.85zM248.8 399.7h0.85v0.1h-0.85z" fill="#f2a27e"/>
<circle cx="44.3" cy="524.4" r="2.3" fill="#2c6db5"/>
<text x="47.5" y="526.0" font-size="4.9" text-anchor="start" font-family='"Liberation Serif", serif' fill="#333" >Missense_Mutation</text>
<circle cx="93" cy="524.4" r="2.3" fill="#d42a2c"/>
<text x="96.2" y="526.0" font-size="4.9" text-anchor="start" font-family='"Liberation Serif", serif' fill="#333" >Nonsense_Mutation</text>
<circle cx="145" cy="524.4" r="2.3" fill="#e3764f"/>
<text x="148.2" y="526.0" font-size="4.9" text-anchor="start" font-family='"Liberation Serif", serif' fill="#333" >Translation_Start_Site</text>
<circle cx="193.5" cy="524.4" r="2.3" fill="#6a3d9a"/>
<text x="196.7" y="526.0" font-size="4.9" text-anchor="start" font-family='"Liberation Serif", serif' fill="#333" >Frame_Shift_Ins</text>
<circle cx="243" cy="524.4" r="2.3" fill="#f5e27c"/>
<text x="246.2" y="526.0" font-size="4.9" text-anchor="start" font-family='"Liberation Serif", serif' fill="#333" >In_Frame_Del</text>
<circle cx="44.3" cy="530.2" r="2.3" fill="#66b899"/>
<text x="47.5" y="531.8" font-size="4.9" text-anchor="start" font-family='"Liberation Serif", serif' fill="#333" >Frame_Shift_Del</text>
<circle cx="93" cy="530.2" r="2.3" fill="#f08a24"/>
<text x="96.2" y="531.8" font-size="4.9" text-anchor="start" font-family='"Liberation Serif", serif' fill="#333" >Splice_Site</text>
<circle cx="145" cy="530.2" r="2.3" fill="#a9cfe6"/>
<text x="148.2" y="531.8" font-size="4.9" text-anchor="start" font-family='"Liberation Serif", serif' fill="#333" >Nonstop_Mutation</text>
<circle cx="193.5" cy="530.2" r="2.3" fill="#b2275a"/>
<text x="196.7" y="531.8" font-size="4.9" text-anchor="start" font-family='"Liberation Serif", serif' fill="#333" >In_Frame_Ins</text>
<rect x="319.5" y="367.8" width="225.6" height="106.4" fill="#524d4c"/>
<rect x="357.2" y="388.8" width="186.9" height="85.0" fill="#ffffff"/>
<text x="376.0" y="379.8" font-size="5.3" text-anchor="middle" font-family='"Liberation Serif", serif' fill="#dcdcdc" >Survival status</text>
<text x="413.5" y="379.8" font-size="5.3" text-anchor="middle" font-family='"Liberation Serif", serif' fill="#dcdcdc" >23-Gene</text>
<text x="451.0" y="379.8" font-size="5.3" text-anchor="middle" font-family='"Liberation Serif", serif' fill="#dcdcdc" >8-Gene</text>
<text x="488.5" y="379.8" font-size="5.3" text-anchor="middle" font-family='"Liberation Serif", serif' fill="#dcdcdc" >SMARCA4-X<tspan font-size="4" dy="1">2</tspan></text>
<text x="526.0" y="379.8" font-size="5.3" text-anchor="middle" font-family='"Liberation Serif", serif' fill="#dcdcdc" >KEAP1-X<tspan font-size="4" dy="1">2</tspan></text>
<circle cx="338.4" cy="378.2" r="0.9" fill="#2a2a2a"/>
<text x="338.4" y="408.6" font-size="5.5" text-anchor="middle" font-family='"Liberation Serif", serif' fill="#dcdcdc" >High ICDrisk</text>
<text x="338.4" y="415.2" font-size="5.5" text-anchor="middle" font-family='"Liberation Serif", serif' fill="#dcdcdc" >(n = 243)</text>
<text x="338.4" y="452.2" font-size="5.5" text-anchor="middle" font-family='"Liberation Serif", serif' fill="#dcdcdc" >Low ICDrisk</text>
<text x="338.4" y="458.8" font-size="5.5" text-anchor="middle" font-family='"Liberation Serif", serif' fill="#dcdcdc" >(n = 241)</text>
<path d="M376.72 393.98A16.0 16.0 0 0 1 378.23 425.88L377.48 419.02A9.1 9.1 0 0 0 376.63 400.88Z" fill="#6d74c3"/>
<path d="M376.78 425.97A16.0 16.0 0 1 1 375.28 394.03L375.37 400.92A9.1 9.1 0 1 0 376.23 419.09Z" fill="#eb7a72"/>
<text x="388.5" y="410.4" font-size="3.0" text-anchor="middle" font-family='"Liberation Serif", serif' fill="#3a3a3a">48.5%</text>
<text x="363.5" y="411.6" font-size="3.0" text-anchor="middle" font-family='"Liberation Serif", serif' fill="#3a3a3a">51.5%</text>
<path d="M413.89 393.53A16.0 16.0 0 0 1 423.45 396.87L419.23 402.33A9.1 9.1 0 0 0 413.79 400.43Z" fill="#b78bc7"/>
<path d="M424.08 397.38A16.0 16.0 0 0 1 429.79 407.63L422.96 408.55A9.1 9.1 0 0 0 419.70 402.72Z" fill="#f2b57b"/>
<path d="M429.08 408.69A16.0 16.0 0 1 1 412.94 394.38L413.04 401.27A9.1 9.1 0 1 0 422.22 409.42Z" fill="#a6cf8c"/>
<text x="417.6" y="399.2" font-size="3.0" text-anchor="middle" font-family='"Liberation Serif", serif' fill="#3a3a3a">10.7%</text>
<text x="424.5" y="404.9" font-size="3.0" text-anchor="middle" font-family='"Liberation Serif", serif' fill="#3a3a3a">12.4%</text>
<text x="405.2" y="420.4" font-size="3.0" text-anchor="middle" font-family='"Liberation Serif", serif' fill="#3a3a3a">76.9%</text>
<path d="M451.57 393.64A16.0 16.0 0 0 1 467.30 408.41L460.42 408.94A9.1 9.1 0 0 0 451.47 400.54Z" fill="#b78bc7"/>
<path d="M466.81 409.69A16.0 16.0 0 1 1 438.88 399.83L444.04 404.42A9.1 9.1 0 1 0 459.92 410.03Z" fill="#f2b57b"/>
<path d="M439.15 398.57A16.0 16.0 0 0 1 450.58 393.54L450.67 400.44A9.1 9.1 0 0 0 444.17 403.30Z" fill="#a6cf8c"/>
<text x="459.6" y="401.9" font-size="3.0" text-anchor="middle" font-family='"Liberation Serif", serif' fill="#3a3a3a">24.0%</text>
<text x="446.8" y="422.8" font-size="3.0" text-anchor="middle" font-family='"Liberation Serif", serif' fill="#3a3a3a">62.8%</text>
<text x="445.9" y="399.5" font-size="3.0" text-anchor="middle" font-family='"Liberation Serif", serif' fill="#3a3a3a">13.2%</text>
<path d="M488.98 392.76A17.2 17.2 0 0 1 503.13 400.54L496.77 404.71A9.6 9.6 0 0 0 488.87 400.36Z" fill="#b78bc7"/>
<path d="M503.10 401.88A17.2 17.2 0 1 1 476.04 398.98L481.52 404.25A9.6 9.6 0 1 0 496.62 405.87Z" fill="#f2b57b"/>
<path d="M476.24 397.68A17.2 17.2 0 0 1 488.07 392.74L488.17 400.34A9.6 9.6 0 0 0 481.57 403.10Z" fill="#a6cf8c"/>
<text x="495.0" y="399.7" font-size="3.0" text-anchor="middle" font-family='"Liberation Serif", serif' fill="#3a3a3a">16.0%</text>
<text x="487.1" y="424.7" font-size="3.0" text-anchor="middle" font-family='"Liberation Serif", serif' fill="#3a3a3a">71.4%</text>
<text x="483.3" y="399.0" font-size="3.0" text-anchor="middle" font-family='"Liberation Serif", serif' fill="#3a3a3a">12.6%</text>
<path d="M526.45 393.56A16.0 16.0 0 0 1 538.98 399.89L533.48 404.06A9.1 9.1 0 0 0 526.35 400.45Z" fill="#b78bc7"/>
<path d="M539.08 401.19A16.0 16.0 0 1 1 511.11 404.81L517.56 407.26A9.1 9.1 0 1 0 533.47 405.20Z" fill="#f2b57b"/>
<path d="M510.93 403.49A16.0 16.0 0 0 1 525.50 393.59L525.59 400.49A9.1 9.1 0 0 0 517.31 406.12Z" fill="#a6cf8c"/>
<text x="531.7" y="399.8" font-size="3.0" text-anchor="middle" font-family='"Liberation Serif", serif' fill="#3a3a3a">14.9%</text>
<text x="527.6" y="423.4" font-size="3.0" text-anchor="middle" font-family='"Liberation Serif", serif' fill="#3a3a3a">66.1%</text>
<text x="518.9" y="400.6" font-size="3.0" text-anchor="middle" font-family='"Liberation Serif", serif' fill="#3a3a3a">19.0%</text>
<path d="M376.58 436.95A16.0 16.0 0 0 1 392.35 452.62L385.45 452.76A9.1 9.1 0 0 0 376.48 443.85Z" fill="#6d74c3"/>
<path d="M391.65 453.78A16.0 16.0 0 1 1 375.42 437.66L375.52 444.56A9.1 9.1 0 1 0 384.75 453.72Z" fill="#eb7a72"/>
<text x="384.8" y="445.4" font-size="3.0" text-anchor="middle" font-family='"Liberation Serif", serif' fill="#3a3a3a">24.9%</text>
<text x="367.2" y="463.2" font-size="3.0" text-anchor="middle" font-family='"Liberation Serif", serif' fill="#3a3a3a">75.1%</text>
<path d="M414.03 436.90A16.0 16.0 0 0 1 429.16 448.42L422.54 450.35A9.1 9.1 0 0 0 413.93 443.80Z" fill="#b78bc7"/>
<path d="M429.45 449.40A16.0 16.0 0 0 1 424.35 465.63L419.87 460.38A9.1 9.1 0 0 0 422.78 451.14Z" fill="#f2b57b"/>
<path d="M423.06 465.94A16.0 16.0 0 1 1 412.71 437.47L412.85 444.37A9.1 9.1 0 1 0 418.73 460.56Z" fill="#a6cf8c"/>
<text x="421.1" y="444.3" font-size="3.0" text-anchor="middle" font-family='"Liberation Serif", serif' fill="#3a3a3a">20.7%</text>
<text x="425.5" y="458.1" font-size="3.0" text-anchor="middle" font-family='"Liberation Serif", serif' fill="#3a3a3a">18.3%</text>
<text x="401.7" y="458.6" font-size="3.0" text-anchor="middle" font-family='"Liberation Serif", serif' fill="#3a3a3a">60.9%</text>
<path d="M451.67 437.08A16.0 16.0 0 0 1 464.40 462.46L458.82 458.41A9.1 9.1 0 0 0 451.57 443.98Z" fill="#b78bc7"/>
<path d="M463.37 463.43A16.0 16.0 0 1 1 438.67 443.12L443.85 447.68A9.1 9.1 0 1 0 457.90 459.23Z" fill="#f2b57b"/>
<path d="M439.08 441.95A16.0 16.0 0 0 1 450.57 436.84L450.67 443.74A9.1 9.1 0 0 0 444.13 446.65Z" fill="#a6cf8c"/>
<text x="462.2" y="448.7" font-size="3.0" text-anchor="middle" font-family='"Liberation Serif", serif' fill="#3a3a3a">35.2%</text>
<text x="443.0" y="464.0" font-size="3.0" text-anchor="middle" font-family='"Liberation Serif", serif' fill="#3a3a3a">51.5%</text>
<text x="445.9" y="442.8" font-size="3.0" text-anchor="middle" font-family='"Liberation Serif", serif' fill="#3a3a3a">13.3%</text>
<path d="M489.15 436.51A17.2 17.2 0 0 1 505.21 459.21L498.00 456.78A9.6 9.6 0 0 0 489.04 444.11Z" fill="#b78bc7"/>
<path d="M504.27 460.29A17.2 17.2 0 1 1 483.52 437.77L485.56 445.09A9.6 9.6 0 1 0 497.14 457.66Z" fill="#f2b57b"/>
<path d="M484.29 436.81A17.2 17.2 0 0 1 488.20 436.31L488.30 443.91A9.6 9.6 0 0 0 486.12 444.19Z" fill="#a6cf8c"/>
<text x="499.4" y="447.3" font-size="3.0" text-anchor="middle" font-family='"Liberation Serif", serif' fill="#3a3a3a">30.4%</text>
<text x="478.6" y="464.1" font-size="3.0" text-anchor="middle" font-family='"Liberation Serif", serif' fill="#3a3a3a">65.5%</text>
<text x="486.8" y="441.7" font-size="3.0" text-anchor="middle" font-family='"Liberation Serif", serif' fill="#3a3a3a">4.1%</text>
<path d="M526.58 436.96A16.0 16.0 0 0 1 542.35 453.43L535.46 453.23A9.1 9.1 0 0 0 526.49 443.86Z" fill="#b78bc7"/>
<path d="M541.76 454.68A16.0 16.0 0 1 1 514.75 442.17L519.51 447.17A9.1 9.1 0 1 0 534.87 454.28Z" fill="#f2b57b"/>
<path d="M515.10 440.95A16.0 16.0 0 0 1 525.70 436.83L525.75 443.73A9.1 9.1 0 0 0 519.73 446.08Z" fill="#a6cf8c"/>
<text x="535.1" y="445.6" font-size="3.0" text-anchor="middle" font-family='"Liberation Serif", serif' fill="#3a3a3a">25.7%</text>
<text x="520.7" y="465.7" font-size="3.0" text-anchor="middle" font-family='"Liberation Serif", serif' fill="#3a3a3a">62.4%</text>
<text x="521.5" y="442.6" font-size="3.0" text-anchor="middle" font-family='"Liberation Serif", serif' fill="#3a3a3a">12.0%</text>
<rect x="319.5" y="474.6" width="225.3" height="38.3" fill="#fff" stroke="#1a1a1a" stroke-width="0.8"/>
<line x1="319.5" y1="484.4" x2="544.8" y2="484.4" stroke="#1a1a1a" stroke-width="0.8"/>
<line x1="319.5" y1="494.2" x2="544.8" y2="494.2" stroke="#1a1a1a" stroke-width="0.8"/>
<line x1="319.5" y1="503.6" x2="544.8" y2="503.6" stroke="#1a1a1a" stroke-width="0.8"/>
<line x1="357.5" y1="474.6" x2="357.5" y2="512.9" stroke="#1a1a1a" stroke-width="0.9"/>
<text x="337.6" y="482.3" font-size="7.4" text-anchor="middle" font-family='"Liberation Serif", serif' fill="#1a1a1a" >χ<tspan font-size="4.2" dy="-2.6">2</tspan><tspan dy="2.6"> test</tspan></text>
<rect x="330.7" y="486.8" width="13.2" height="5.5" fill="#b78bc7"/>
<rect x="330.7" y="496.2" width="13.2" height="4.9" fill="#f2b57b"/>
<rect x="330.7" y="505.4" width="13.2" height="5.4" fill="#a6cf8c"/>
<text x="376.0" y="482.9" font-size="6.6" text-anchor="middle" font-family='"Liberation Sans", sans-serif' fill="#222" font-weight="bold">***</text>
<text x="413.5" y="482.9" font-size="6.6" text-anchor="middle" font-family='"Liberation Sans", sans-serif' fill="#222" font-weight="bold">**</text>
<text x="451.0" y="482.9" font-size="6.6" text-anchor="middle" font-family='"Liberation Sans", sans-serif' fill="#222" font-weight="bold">**</text>
<text x="488.5" y="482.9" font-size="6.6" text-anchor="middle" font-family='"Liberation Sans", sans-serif' fill="#222" font-weight="bold">***</text>
<text x="526.0" y="482.9" font-size="6.6" text-anchor="middle" font-family='"Liberation Sans", sans-serif' fill="#222" font-weight="bold">**</text>
<text x="413.5" y="492.7" font-size="6.6" text-anchor="middle" font-family='"Liberation Sans", sans-serif' fill="#222" font-weight="bold">**</text>
<text x="451.0" y="492.7" font-size="6.6" text-anchor="middle" font-family='"Liberation Sans", sans-serif' fill="#222" font-weight="bold">**</text>
<text x="488.5" y="492.7" font-size="6.6" text-anchor="middle" font-family='"Liberation Sans", sans-serif' fill="#222" font-weight="bold">**</text>
<text x="526.0" y="492.7" font-size="6.6" text-anchor="middle" font-family='"Liberation Sans", sans-serif' fill="#222" font-weight="bold">**</text>
<text x="413.5" y="501.0" font-size="7.2" text-anchor="middle" font-family='"Liberation Serif", serif' fill="#222" >ns</text>
<text x="451.0" y="502.3" font-size="6.6" text-anchor="middle" font-family='"Liberation Sans", sans-serif' fill="#222" font-weight="bold">**</text>
<text x="488.5" y="501.0" font-size="7.2" text-anchor="middle" font-family='"Liberation Serif", serif' fill="#222" >ns</text>
<text x="526.0" y="501.0" font-size="7.2" text-anchor="middle" font-family='"Liberation Serif", serif' fill="#222" >ns</text>
<text x="413.5" y="511.6" font-size="6.6" text-anchor="middle" font-family='"Liberation Sans", sans-serif' fill="#222" font-weight="bold">**</text>
<text x="451.0" y="510.3" font-size="7.2" text-anchor="middle" font-family='"Liberation Serif", serif' fill="#222" >ns</text>
<text x="488.5" y="511.6" font-size="6.6" text-anchor="middle" font-family='"Liberation Sans", sans-serif' fill="#222" font-weight="bold">**</text>
<text x="526.0" y="511.6" font-size="6.6" text-anchor="middle" font-family='"Liberation Sans", sans-serif' fill="#222" font-weight="bold">*</text>
<rect x="336.8" y="518.2" width="11.4" height="4.6" rx="1.2" fill="#eb7a72"/>
<text x="349.2" y="522.6" font-size="5.6" text-anchor="start" font-family='"Liberation Serif", serif' fill="#333" >Alive</text>
<rect x="370" y="518.2" width="11.4" height="4.6" rx="1.2" fill="#6d74c3"/>
<text x="382.4" y="522.6" font-size="5.6" text-anchor="start" font-family='"Liberation Serif", serif' fill="#333" >Dead</text>
<rect x="404.3" y="518.2" width="11.4" height="4.6" rx="1.2" fill="#b78bc7"/>
<text x="416.7" y="522.6" font-size="5.6" text-anchor="start" font-family='"Liberation Serif", serif' fill="#333" >Wild type</text>
<rect x="444.8" y="518.2" width="11.4" height="4.6" rx="1.2" fill="#f2b57b"/>
<text x="457.2" y="522.6" font-size="5.6" text-anchor="start" font-family='"Liberation Serif", serif' fill="#333" >Single mutation</text>
<rect x="496.8" y="518.2" width="11.4" height="4.6" rx="1.2" fill="#a6cf8c"/>
<text x="509.2" y="522.6" font-size="5.6" text-anchor="start" font-family='"Liberation Serif", serif' fill="#333" >Co-mutation</text>
<text x="337.0" y="530.6" font-size="5.0" text-anchor="start" font-family='"Liberation Serif", serif' fill="#333" >* : <tspan font-style="italic">p</tspan>&lt;0.05</text>
<text x="386.0" y="530.6" font-size="5.0" text-anchor="start" font-family='"Liberation Serif", serif' fill="#333" >** : <tspan font-style="italic">p</tspan>&lt;0.01</text>
<text x="437.7" y="530.6" font-size="5.0" text-anchor="start" font-family='"Liberation Serif", serif' fill="#333" >*** : <tspan font-style="italic">p</tspan>&lt;0.001</text>
<text x="493.0" y="530.6" font-size="5.0" text-anchor="start" font-family='"Liberation Serif", serif' fill="#333" >ns : not significicant</text>
</svg>
</body></html>
